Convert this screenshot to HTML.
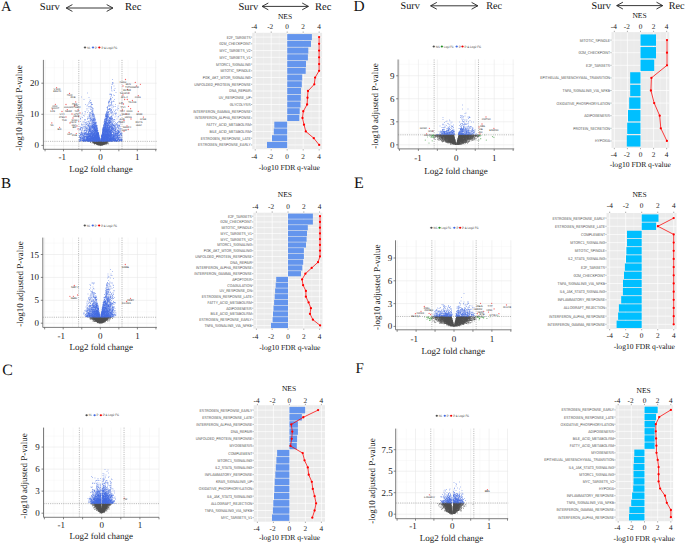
<!DOCTYPE html>
<html><head><meta charset="utf-8"><style>
html,body{margin:0;padding:0;background:#fff;overflow:hidden;}
svg{display:block;text-rendering:geometricPrecision;}
</style></head><body>
<svg width="685" height="543" viewBox="0 0 685 543">
<rect width="685" height="543" fill="#fff"/>
<text x="1" y="10.5" font-size="14.5" text-anchor="start" font-family='"Liberation Serif", serif' fill="#111" >A</text>
<line x1="54.28" y1="59.9" x2="54.28" y2="149.3" stroke="#F3F3F3" stroke-width="0.4"/>
<line x1="72.73" y1="59.9" x2="72.73" y2="149.3" stroke="#F3F3F3" stroke-width="0.4"/>
<line x1="91.18" y1="59.9" x2="91.18" y2="149.3" stroke="#F3F3F3" stroke-width="0.4"/>
<line x1="109.62" y1="59.9" x2="109.62" y2="149.3" stroke="#F3F3F3" stroke-width="0.4"/>
<line x1="128.07" y1="59.9" x2="128.07" y2="149.3" stroke="#F3F3F3" stroke-width="0.4"/>
<line x1="146.53" y1="59.9" x2="146.53" y2="149.3" stroke="#F3F3F3" stroke-width="0.4"/>
<line x1="43.4" y1="129.85" x2="156.7" y2="129.85" stroke="#F3F3F3" stroke-width="0.4"/>
<line x1="43.4" y1="98.75" x2="156.7" y2="98.75" stroke="#F3F3F3" stroke-width="0.4"/>
<line x1="43.4" y1="67.65" x2="156.7" y2="67.65" stroke="#F3F3F3" stroke-width="0.4"/>
<line x1="45.05" y1="59.9" x2="45.05" y2="149.3" stroke="#E8E8E8" stroke-width="0.6"/>
<line x1="63.5" y1="59.9" x2="63.5" y2="149.3" stroke="#E8E8E8" stroke-width="0.6"/>
<line x1="81.95" y1="59.9" x2="81.95" y2="149.3" stroke="#E8E8E8" stroke-width="0.6"/>
<line x1="100.4" y1="59.9" x2="100.4" y2="149.3" stroke="#E8E8E8" stroke-width="0.6"/>
<line x1="118.85" y1="59.9" x2="118.85" y2="149.3" stroke="#E8E8E8" stroke-width="0.6"/>
<line x1="137.3" y1="59.9" x2="137.3" y2="149.3" stroke="#E8E8E8" stroke-width="0.6"/>
<line x1="155.75" y1="59.9" x2="155.75" y2="149.3" stroke="#E8E8E8" stroke-width="0.6"/>
<line x1="43.4" y1="145.4" x2="156.7" y2="145.4" stroke="#E8E8E8" stroke-width="0.6"/>
<line x1="43.4" y1="114.3" x2="156.7" y2="114.3" stroke="#E8E8E8" stroke-width="0.6"/>
<line x1="43.4" y1="83.2" x2="156.7" y2="83.2" stroke="#E8E8E8" stroke-width="0.6"/>
<path transform="scale(0.5)" d="M182 283h0M184 286h0M185 285h0M186 284h0M186 285h0M186 286h0M187 284h0M189 289h0M195 290h0M201 283h0M201 291h0M202 291h0M206 290h0M209 289h0M212 287h0M212 289h0M213 286h0M213 288h0M214 286h0M214 288h0M216 286h0M217 283h0M217 286h0M217 288h0" stroke="#4D4D4D" stroke-opacity="0.5" stroke-width="2.0" stroke-linecap="round" fill="none"/>
<path transform="scale(0.5)" d="M181 285h0M185 283h0M187 286h0M192 288h0M198 290h0M208 289h0M210 288h0M211 287h0M211 288h0M213 287h0M214 287h0M215 283h0M215 284h0M215 286h0M216 283h0" stroke="#4D4D4D" stroke-opacity="0.75" stroke-width="2.0" stroke-linecap="round" fill="none"/>
<path transform="scale(0.5)" d="M186 283h0M187 283h0M187 285h0M188 283h0M188 285h0M188 286h0M189 283h0M189 284h0M189 285h0M189 286h0M189 287h0M190 283h0M190 284h0M190 285h0M190 286h0M190 287h0M191 283h0M191 284h0M191 285h0M191 286h0M191 287h0M192 283h0M192 284h0M192 285h0M192 286h0M192 287h0M193 283h0M193 284h0M193 285h0M193 286h0M193 287h0M193 288h0M194 283h0M194 284h0M194 285h0M194 286h0M194 287h0M194 288h0M194 289h0M195 283h0M195 284h0M195 285h0M195 286h0M195 287h0M195 288h0M195 289h0M196 283h0M196 284h0M196 285h0M196 286h0M196 287h0M196 288h0M196 289h0M197 283h0M197 284h0M197 285h0M197 286h0M197 287h0M197 288h0M197 289h0M197 290h0M198 283h0M198 284h0M198 285h0M198 286h0M198 287h0M198 288h0M198 289h0M199 283h0M199 284h0M199 285h0M199 286h0M199 287h0M199 288h0M199 289h0M199 290h0M200 283h0M200 284h0M200 285h0M200 286h0M200 287h0M200 288h0M200 289h0M200 290h0M201 284h0M201 285h0M201 286h0M201 287h0M201 288h0M201 289h0M201 290h0M202 283h0M202 284h0M202 285h0M202 286h0M202 287h0M202 288h0M202 289h0M202 290h0M203 283h0M203 284h0M203 285h0M203 286h0M203 287h0M203 288h0M203 289h0M203 290h0M204 283h0M204 284h0M204 285h0M204 286h0M204 287h0M204 288h0M204 289h0M204 290h0M205 283h0M205 284h0M205 285h0M205 286h0M205 287h0M205 288h0M205 289h0M205 290h0M206 283h0M206 284h0M206 285h0M206 286h0M206 287h0M206 288h0M206 289h0M207 283h0M207 284h0M207 285h0M207 286h0M207 287h0M207 288h0M207 289h0M208 283h0M208 284h0M208 285h0M208 286h0M208 287h0M208 288h0M209 283h0M209 284h0M209 285h0M209 286h0M209 287h0M209 288h0M210 283h0M210 284h0M210 285h0M210 286h0M210 287h0M211 283h0M211 284h0M211 285h0M211 286h0M212 283h0M212 284h0M212 285h0M212 286h0M213 283h0M213 284h0M213 285h0M214 283h0M214 284h0M214 285h0" stroke="#4D4D4D" stroke-opacity="1.0" stroke-width="2.0" stroke-linecap="round" fill="none"/>
<path transform="scale(0.5)" d="M158 281h0M159 258h0M159 267h0M159 271h0M159 273h0M159 274h0M159 279h0M159 280h0M159 282h0M159 283h0M160 253h0M160 259h0M160 260h0M160 267h0M160 271h0M160 274h0M160 279h0M160 282h0M161 214h0M161 237h0M161 243h0M161 255h0M161 257h0M161 258h0M161 259h0M161 268h0M161 272h0M161 278h0M161 279h0M161 280h0M161 281h0M162 234h0M162 257h0M162 260h0M162 265h0M162 270h0M162 274h0M162 276h0M162 280h0M162 281h0M163 194h0M163 248h0M163 250h0M163 265h0M163 269h0M163 273h0M164 228h0M164 249h0M164 255h0M164 261h0M164 262h0M164 268h0M164 270h0M164 271h0M164 272h0M164 274h0M164 276h0M164 277h0M164 281h0M165 226h0M165 235h0M165 250h0M165 257h0M165 259h0M165 266h0M165 267h0M165 268h0M165 269h0M165 270h0M165 272h0M165 275h0M165 278h0M166 244h0M166 254h0M166 255h0M166 257h0M166 265h0M166 269h0M166 275h0M166 276h0M166 277h0M166 280h0M167 231h0M167 271h0M167 273h0M167 275h0M167 276h0M167 277h0M167 280h0M167 282h0M167 283h0M168 199h0M168 243h0M168 246h0M168 249h0M168 250h0M168 261h0M168 263h0M168 267h0M168 268h0M168 272h0M168 274h0M168 275h0M168 276h0M168 278h0M168 279h0M169 232h0M169 239h0M169 256h0M169 264h0M169 266h0M169 267h0M169 276h0M169 277h0M169 278h0M170 223h0M170 228h0M170 241h0M170 245h0M170 253h0M170 254h0M170 260h0M170 261h0M170 266h0M170 273h0M170 282h0M170 283h0M171 209h0M171 224h0M171 239h0M171 245h0M171 252h0M171 255h0M171 265h0M171 267h0M171 269h0M171 276h0M172 247h0M172 248h0M172 249h0M172 252h0M172 255h0M172 257h0M172 258h0M172 261h0M172 262h0M172 268h0M172 269h0M172 271h0M172 279h0M172 280h0M172 281h0M173 245h0M173 249h0M173 254h0M173 257h0M173 258h0M173 261h0M173 262h0M173 263h0M173 264h0M173 267h0M173 268h0M173 269h0M173 270h0M173 273h0M173 276h0M173 277h0M173 280h0M174 212h0M174 217h0M174 220h0M174 243h0M174 249h0M174 255h0M174 257h0M174 258h0M174 265h0M174 267h0M174 274h0M174 276h0M174 279h0M174 282h0M174 283h0M175 186h0M175 210h0M175 225h0M175 237h0M175 239h0M175 247h0M175 251h0M175 254h0M175 257h0M175 260h0M175 267h0M175 274h0M176 233h0M176 244h0M176 248h0M176 251h0M176 254h0M176 259h0M176 260h0M176 267h0M176 270h0M176 271h0M176 283h0M177 208h0M177 213h0M177 222h0M177 243h0M177 251h0M177 259h0M177 267h0M177 270h0M177 277h0M178 195h0M178 205h0M178 216h0M178 230h0M178 236h0M178 237h0M178 242h0M178 249h0M178 252h0M178 253h0M178 254h0M178 257h0M178 258h0M178 262h0M178 265h0M178 267h0M178 270h0M178 276h0M178 277h0M178 279h0M178 282h0M178 283h0M179 203h0M179 213h0M179 225h0M179 228h0M179 234h0M179 246h0M179 247h0M179 250h0M179 253h0M179 255h0M179 256h0M179 266h0M179 267h0M179 268h0M179 269h0M179 270h0M179 272h0M179 274h0M179 276h0M179 283h0M180 200h0M180 207h0M180 228h0M180 229h0M180 231h0M180 233h0M180 237h0M180 240h0M180 243h0M180 246h0M180 247h0M180 255h0M180 260h0M180 261h0M180 266h0M180 269h0M180 270h0M180 279h0M181 201h0M181 205h0M181 213h0M181 216h0M181 219h0M181 225h0M181 226h0M181 235h0M181 236h0M181 237h0M181 248h0M181 253h0M181 256h0M181 258h0M181 259h0M181 261h0M181 264h0M181 266h0M181 267h0M181 269h0M181 270h0M181 274h0M181 275h0M181 277h0M181 283h0M182 205h0M182 227h0M182 231h0M182 232h0M182 239h0M182 243h0M182 251h0M182 253h0M182 254h0M182 255h0M182 258h0M182 259h0M182 260h0M182 265h0M182 267h0M182 272h0M183 214h0M183 219h0M183 223h0M183 234h0M183 236h0M183 239h0M183 240h0M183 242h0M183 248h0M183 253h0M183 255h0M183 256h0M183 257h0M183 259h0M183 265h0M183 268h0M183 269h0M184 209h0M184 216h0M184 221h0M184 229h0M184 239h0M184 241h0M184 246h0M184 252h0M184 254h0M184 264h0M184 265h0M184 268h0M184 271h0M184 274h0M184 283h0M185 209h0M185 218h0M185 221h0M185 223h0M185 224h0M185 233h0M185 236h0M185 241h0M185 242h0M185 244h0M185 248h0M185 256h0M185 257h0M185 262h0M185 266h0M186 224h0M186 226h0M186 234h0M186 237h0M186 239h0M186 240h0M186 241h0M186 244h0M186 246h0M186 250h0M186 259h0M186 261h0M186 264h0M186 267h0M186 272h0M186 273h0M187 228h0M187 229h0M187 230h0M187 232h0M187 234h0M187 237h0M187 238h0M187 244h0M187 248h0M187 255h0M187 258h0M187 259h0M187 261h0M187 266h0M187 267h0M187 269h0M187 271h0M188 229h0M188 230h0M188 231h0M188 234h0M188 237h0M188 245h0M188 248h0M188 252h0M188 253h0M188 255h0M188 261h0M188 283h0M189 232h0M189 235h0M189 237h0M189 241h0M189 243h0M189 245h0M189 247h0M189 248h0M189 249h0M189 251h0M189 252h0M189 254h0M189 262h0M189 263h0M189 264h0M189 268h0M189 283h0M190 236h0M190 239h0M190 244h0M190 246h0M190 248h0M190 250h0M190 252h0M190 254h0M190 255h0M190 258h0M190 262h0M190 263h0M190 265h0M190 268h0M190 269h0M191 240h0M191 245h0M191 246h0M191 256h0M191 265h0M191 266h0M191 269h0M192 244h0M192 252h0M192 255h0M192 256h0M192 260h0M192 261h0M192 270h0M192 271h0M192 272h0M192 274h0M192 283h0M193 250h0M193 251h0M193 252h0M193 256h0M193 258h0M193 259h0M193 265h0M193 266h0M193 283h0M194 252h0M194 253h0M194 255h0M194 258h0M194 260h0M194 261h0M194 283h0M195 256h0M195 260h0M196 261h0M196 264h0M196 278h0M196 283h0M197 265h0M197 266h0M198 271h0M200 280h0M200 281h0M203 275h0M203 276h0M204 268h0M204 269h0M204 283h0M205 263h0M206 255h0M206 256h0M206 265h0M206 283h0M207 250h0M207 251h0M207 264h0M207 265h0M207 266h0M207 273h0M208 244h0M208 246h0M208 249h0M208 250h0M208 252h0M208 255h0M208 256h0M208 262h0M208 265h0M208 271h0M208 274h0M209 239h0M209 240h0M209 243h0M209 245h0M209 249h0M209 250h0M209 256h0M209 257h0M209 263h0M209 265h0M209 267h0M209 272h0M210 236h0M210 238h0M210 239h0M210 242h0M210 244h0M210 245h0M210 247h0M210 249h0M210 251h0M210 253h0M210 254h0M210 261h0M210 263h0M211 229h0M211 231h0M211 233h0M211 234h0M211 240h0M211 242h0M211 243h0M211 246h0M211 254h0M211 258h0M211 265h0M211 267h0M211 278h0M211 283h0M212 227h0M212 229h0M212 230h0M212 231h0M212 240h0M212 242h0M212 244h0M212 248h0M212 252h0M212 260h0M212 266h0M212 268h0M212 272h0M213 223h0M213 225h0M213 227h0M213 231h0M213 240h0M213 242h0M213 247h0M213 249h0M213 251h0M213 254h0M213 255h0M213 256h0M213 262h0M213 265h0M214 215h0M214 224h0M214 225h0M214 229h0M214 235h0M214 236h0M214 239h0M214 246h0M214 248h0M214 249h0M214 252h0M214 255h0M214 256h0M214 265h0M214 271h0M214 277h0M214 283h0M215 213h0M215 217h0M215 219h0M215 221h0M215 222h0M215 226h0M215 229h0M215 231h0M215 233h0M215 235h0M215 237h0M215 240h0M215 241h0M215 244h0M215 246h0M215 248h0M215 249h0M215 250h0M215 254h0M215 257h0M215 260h0M215 263h0M215 267h0M215 272h0M215 274h0M216 218h0M216 223h0M216 224h0M216 226h0M216 229h0M216 230h0M216 233h0M216 234h0M216 240h0M216 243h0M216 244h0M216 245h0M216 248h0M216 252h0M216 254h0M216 255h0M216 256h0M216 257h0M216 259h0M216 260h0M216 265h0M216 270h0M217 204h0M217 205h0M217 211h0M217 219h0M217 223h0M217 225h0M217 226h0M217 229h0M217 231h0M217 239h0M217 242h0M217 245h0M217 246h0M217 250h0M217 254h0M217 255h0M217 257h0M217 263h0M217 264h0M217 265h0M217 273h0M218 202h0M218 203h0M218 208h0M218 210h0M218 227h0M218 232h0M218 235h0M218 236h0M218 237h0M218 244h0M218 246h0M218 247h0M218 248h0M218 249h0M218 250h0M218 256h0M218 257h0M218 264h0M218 269h0M218 270h0M218 283h0M219 200h0M219 203h0M219 217h0M219 218h0M219 219h0M219 223h0M219 229h0M219 235h0M219 237h0M219 238h0M219 245h0M219 248h0M219 251h0M219 253h0M219 256h0M219 259h0M219 264h0M219 267h0M219 269h0M219 275h0M219 283h0M220 188h0M220 189h0M220 200h0M220 212h0M220 217h0M220 236h0M220 237h0M220 244h0M220 246h0M220 250h0M220 254h0M220 255h0M220 259h0M220 260h0M220 262h0M220 263h0M220 267h0M220 271h0M220 274h0M220 275h0M220 277h0M220 282h0M220 283h0M221 196h0M221 197h0M221 199h0M221 218h0M221 222h0M221 224h0M221 235h0M221 236h0M221 242h0M221 244h0M221 245h0M221 246h0M221 249h0M221 251h0M221 253h0M221 254h0M221 256h0M221 261h0M221 265h0M221 270h0M221 272h0M222 188h0M222 189h0M222 193h0M222 197h0M222 198h0M222 205h0M222 209h0M222 234h0M222 238h0M222 240h0M222 243h0M222 245h0M222 246h0M222 248h0M222 249h0M222 250h0M222 254h0M222 255h0M222 256h0M222 257h0M222 266h0M222 269h0M222 274h0M222 281h0M222 283h0M223 173h0M223 175h0M223 177h0M223 180h0M223 189h0M223 191h0M223 203h0M223 205h0M223 207h0M223 208h0M223 221h0M223 224h0M223 226h0M223 233h0M223 234h0M223 239h0M223 240h0M223 248h0M223 251h0M223 253h0M223 254h0M223 258h0M223 259h0M223 260h0M223 262h0M223 264h0M223 265h0M223 267h0M223 270h0M223 273h0M223 275h0M223 280h0M223 283h0M224 169h0M224 182h0M224 204h0M224 211h0M224 214h0M224 216h0M224 224h0M224 228h0M224 231h0M224 232h0M224 239h0M224 244h0M224 246h0M224 247h0M224 249h0M224 251h0M224 258h0M224 259h0M224 265h0M224 268h0M224 281h0M225 159h0M225 165h0M225 168h0M225 195h0M225 223h0M225 225h0M225 237h0M225 241h0M225 246h0M225 247h0M225 252h0M225 257h0M225 258h0M225 264h0M225 269h0M225 275h0M225 281h0M226 165h0M226 167h0M226 203h0M226 210h0M226 228h0M226 239h0M226 240h0M226 243h0M226 244h0M226 248h0M226 249h0M226 251h0M226 253h0M226 257h0M226 258h0M226 260h0M226 262h0M226 264h0M226 265h0M226 269h0M226 274h0M226 275h0M226 277h0M226 280h0M226 281h0M226 282h0M227 190h0M227 202h0M227 214h0M227 220h0M227 230h0M227 240h0M227 244h0M227 255h0M227 258h0M227 259h0M227 261h0M227 267h0M227 271h0M227 276h0M228 172h0M228 180h0M228 203h0M228 213h0M228 226h0M228 251h0M228 253h0M228 255h0M228 258h0M228 261h0M228 265h0M228 268h0M228 269h0M228 271h0M228 274h0M228 276h0M228 277h0M229 181h0M229 191h0M229 199h0M229 223h0M229 243h0M229 248h0M229 251h0M229 253h0M229 254h0M229 262h0M229 265h0M229 273h0M229 274h0M229 276h0M229 279h0M229 280h0M230 177h0M230 227h0M230 234h0M230 240h0M230 247h0M230 251h0M230 252h0M230 253h0M230 258h0M230 259h0M230 262h0M230 264h0M230 272h0M230 275h0M231 209h0M231 213h0M231 221h0M231 227h0M231 229h0M231 245h0M231 250h0M231 254h0M231 255h0M231 257h0M231 258h0M231 259h0M231 260h0M231 261h0M231 266h0M231 267h0M231 268h0M231 271h0M231 273h0M231 277h0M231 278h0M232 185h0M232 219h0M232 225h0M232 232h0M232 249h0M232 254h0M232 256h0M232 258h0M232 260h0M232 264h0M232 269h0M232 273h0M232 274h0M232 278h0M232 279h0M232 283h0M233 227h0M233 247h0M233 250h0M233 256h0M233 266h0M233 267h0M233 269h0M233 271h0M233 274h0M233 275h0M233 276h0M233 277h0M233 282h0M233 283h0M234 238h0M234 247h0M234 249h0M234 250h0M234 256h0M234 260h0M234 264h0M234 266h0M234 268h0M234 269h0M234 272h0M234 273h0M234 275h0M234 280h0M235 216h0M235 220h0M235 245h0M235 253h0M235 255h0M235 260h0M235 261h0M235 264h0M235 268h0M235 274h0M235 279h0M236 212h0M236 234h0M236 245h0M236 254h0M236 262h0M236 263h0M236 266h0M236 267h0M236 270h0M236 273h0M236 274h0M236 275h0M236 277h0M236 279h0M237 217h0M237 233h0M237 243h0M237 250h0M237 251h0M237 255h0M237 257h0M237 262h0M237 264h0M237 265h0M237 267h0M237 268h0M237 270h0M237 271h0M237 275h0M237 276h0M237 278h0M237 282h0M238 252h0M238 253h0M238 256h0M238 257h0M238 259h0M238 261h0M238 265h0M238 270h0M238 272h0M238 275h0M238 276h0M238 278h0M238 279h0M238 280h0M238 283h0M239 243h0M239 250h0M239 263h0M239 269h0M239 271h0M239 274h0M239 275h0M239 280h0M240 231h0M240 239h0M240 242h0M240 244h0M240 245h0M240 253h0M240 254h0M240 258h0M240 263h0M240 264h0M240 267h0M240 269h0M240 273h0M240 278h0M240 280h0M241 230h0M241 248h0M241 257h0M241 269h0M241 279h0M241 280h0M241 281h0M242 262h0M242 265h0M242 267h0M242 268h0M242 269h0M242 272h0M242 275h0M242 278h0M242 279h0M242 282h0M243 258h0M243 266h0M243 268h0M243 270h0M243 279h0M244 267h0M244 270h0M244 273h0M244 276h0M244 278h0M244 279h0M244 280h0M244 281h0M244 282h0" stroke="#4169E1" stroke-opacity="0.5" stroke-width="2.0" stroke-linecap="round" fill="none"/>
<path transform="scale(0.5)" d="M160 275h0M160 276h0M161 238h0M161 269h0M161 270h0M161 276h0M162 277h0M162 278h0M163 255h0M163 264h0M163 266h0M163 280h0M164 275h0M165 277h0M165 282h0M166 272h0M166 282h0M167 268h0M167 279h0M168 253h0M168 266h0M168 271h0M168 281h0M169 261h0M169 272h0M169 273h0M169 274h0M169 275h0M169 279h0M170 258h0M170 276h0M170 281h0M171 266h0M171 270h0M171 280h0M171 281h0M172 260h0M172 273h0M172 275h0M173 272h0M173 275h0M173 278h0M174 268h0M174 275h0M175 262h0M175 268h0M175 269h0M175 270h0M175 272h0M175 273h0M175 276h0M175 279h0M175 280h0M176 236h0M176 275h0M176 276h0M176 278h0M177 250h0M177 252h0M177 262h0M177 265h0M177 266h0M177 275h0M177 278h0M177 279h0M177 282h0M177 283h0M178 246h0M178 256h0M178 260h0M178 268h0M178 271h0M178 273h0M178 274h0M178 278h0M179 254h0M179 258h0M179 259h0M179 262h0M179 263h0M179 271h0M179 278h0M179 279h0M179 282h0M180 251h0M180 257h0M180 258h0M180 259h0M180 267h0M180 273h0M181 238h0M181 241h0M181 263h0M181 268h0M181 271h0M181 272h0M182 212h0M182 261h0M182 263h0M182 264h0M182 268h0M182 269h0M182 271h0M182 273h0M182 275h0M182 280h0M182 283h0M183 206h0M183 209h0M183 246h0M183 262h0M183 264h0M183 270h0M183 273h0M183 275h0M183 278h0M183 279h0M184 215h0M184 224h0M184 227h0M184 249h0M184 251h0M184 253h0M184 261h0M184 270h0M184 282h0M185 231h0M185 250h0M185 253h0M185 260h0M185 261h0M185 265h0M185 267h0M185 269h0M185 270h0M185 275h0M185 280h0M186 217h0M186 220h0M186 227h0M186 242h0M186 243h0M186 257h0M186 265h0M186 268h0M186 270h0M186 271h0M186 274h0M187 239h0M187 241h0M187 245h0M187 246h0M187 249h0M187 250h0M187 256h0M187 274h0M187 278h0M187 281h0M188 233h0M188 239h0M188 241h0M188 254h0M188 258h0M188 259h0M188 265h0M188 266h0M189 238h0M189 253h0M189 257h0M189 260h0M189 265h0M189 269h0M189 272h0M189 277h0M190 238h0M190 242h0M190 247h0M190 251h0M190 256h0M190 259h0M190 266h0M191 247h0M191 249h0M191 251h0M191 253h0M191 257h0M191 258h0M191 259h0M192 245h0M192 253h0M192 258h0M192 259h0M192 262h0M192 265h0M192 267h0M192 269h0M193 253h0M193 255h0M193 257h0M193 261h0M193 273h0M194 251h0M194 257h0M194 259h0M194 264h0M194 266h0M194 271h0M194 272h0M195 258h0M195 262h0M195 264h0M195 266h0M195 283h0M196 271h0M197 271h0M198 270h0M198 274h0M199 275h0M199 276h0M200 283h0M201 281h0M201 282h0M203 271h0M203 272h0M205 264h0M205 267h0M205 270h0M206 258h0M206 260h0M206 263h0M206 267h0M206 270h0M206 271h0M206 273h0M207 254h0M207 255h0M207 256h0M207 257h0M207 259h0M207 262h0M208 251h0M208 257h0M208 267h0M208 270h0M208 276h0M209 242h0M209 248h0M209 260h0M209 261h0M209 262h0M209 266h0M209 269h0M209 270h0M209 280h0M210 241h0M210 252h0M210 256h0M210 266h0M210 267h0M210 276h0M210 283h0M211 238h0M211 245h0M211 247h0M211 250h0M211 251h0M211 256h0M211 260h0M211 261h0M211 268h0M211 274h0M211 275h0M211 279h0M212 232h0M212 233h0M212 236h0M212 237h0M212 238h0M212 247h0M212 250h0M212 251h0M212 261h0M212 262h0M212 265h0M212 270h0M212 275h0M212 277h0M212 280h0M213 234h0M213 236h0M213 237h0M213 243h0M213 244h0M213 246h0M213 252h0M213 272h0M213 278h0M214 226h0M214 231h0M214 232h0M214 234h0M214 237h0M214 240h0M214 247h0M214 251h0M214 253h0M214 258h0M214 260h0M214 262h0M214 266h0M214 267h0M214 272h0M215 215h0M215 234h0M215 251h0M215 252h0M215 264h0M215 270h0M215 278h0M216 225h0M216 235h0M216 241h0M216 247h0M216 251h0M216 258h0M216 261h0M216 267h0M217 206h0M217 233h0M217 243h0M217 249h0M217 251h0M217 259h0M217 260h0M217 261h0M217 262h0M217 266h0M217 267h0M217 268h0M217 274h0M217 277h0M218 213h0M218 219h0M218 241h0M218 245h0M218 251h0M218 253h0M218 254h0M218 261h0M218 262h0M218 265h0M218 272h0M218 274h0M218 277h0M219 204h0M219 236h0M219 247h0M219 252h0M219 254h0M219 255h0M219 257h0M219 258h0M219 260h0M219 265h0M219 266h0M219 268h0M219 270h0M219 272h0M220 211h0M220 218h0M220 220h0M220 238h0M220 241h0M220 253h0M220 256h0M220 261h0M220 264h0M220 265h0M220 270h0M220 272h0M220 279h0M220 280h0M221 259h0M221 262h0M221 264h0M221 268h0M221 269h0M221 273h0M221 280h0M222 200h0M222 210h0M222 221h0M222 233h0M222 236h0M222 237h0M222 242h0M222 260h0M222 262h0M222 263h0M222 268h0M222 270h0M222 272h0M222 276h0M222 277h0M222 278h0M223 219h0M223 236h0M223 244h0M223 257h0M223 272h0M223 279h0M223 281h0M223 282h0M224 237h0M224 250h0M224 252h0M224 257h0M224 260h0M224 262h0M224 264h0M224 269h0M224 270h0M224 274h0M224 283h0M225 236h0M225 249h0M225 255h0M225 256h0M225 263h0M225 270h0M225 272h0M225 277h0M225 278h0M226 272h0M226 273h0M226 278h0M226 279h0M227 257h0M227 264h0M227 265h0M227 270h0M227 275h0M227 279h0M227 281h0M227 282h0M228 257h0M228 262h0M228 267h0M228 270h0M228 273h0M228 275h0M228 278h0M228 279h0M228 282h0M229 239h0M229 256h0M229 261h0M229 272h0M229 278h0M229 281h0M230 250h0M230 268h0M230 269h0M230 276h0M230 278h0M230 279h0M230 280h0M230 281h0M231 263h0M231 264h0M231 269h0M231 276h0M232 270h0M232 272h0M232 275h0M232 277h0M232 281h0M233 263h0M233 281h0M234 267h0M234 270h0M234 271h0M234 277h0M234 278h0M235 250h0M235 252h0M235 266h0M235 267h0M235 269h0M235 271h0M235 275h0M235 276h0M235 281h0M236 261h0M236 272h0M236 276h0M236 278h0M236 280h0M236 282h0M237 266h0M237 277h0M237 279h0M238 262h0M239 251h0M239 265h0M239 279h0M240 271h0M240 275h0M240 281h0M241 260h0M241 267h0M242 280h0M243 271h0M243 278h0M243 280h0M243 281h0" stroke="#4169E1" stroke-opacity="0.75" stroke-width="2.0" stroke-linecap="round" fill="none"/>
<path transform="scale(0.5)" d="M161 275h0M161 282h0M163 268h0M164 278h0M165 280h0M165 281h0M167 272h0M167 278h0M167 281h0M168 280h0M168 282h0M169 269h0M169 281h0M169 282h0M170 267h0M170 278h0M170 279h0M171 273h0M171 282h0M172 265h0M172 278h0M172 282h0M173 274h0M173 279h0M173 281h0M174 269h0M174 272h0M174 277h0M174 278h0M174 280h0M174 281h0M175 275h0M175 277h0M175 278h0M175 281h0M175 282h0M176 273h0M176 274h0M176 277h0M176 279h0M176 280h0M176 281h0M176 282h0M177 264h0M177 268h0M177 269h0M177 272h0M177 273h0M177 276h0M177 280h0M177 281h0M178 263h0M178 272h0M178 280h0M179 232h0M179 260h0M179 261h0M179 273h0M179 277h0M179 280h0M179 281h0M180 256h0M180 268h0M180 271h0M180 272h0M180 274h0M180 275h0M180 276h0M180 277h0M180 278h0M180 280h0M180 281h0M180 282h0M181 262h0M181 273h0M181 276h0M181 278h0M181 279h0M181 280h0M181 281h0M181 282h0M182 252h0M182 256h0M182 266h0M182 270h0M182 274h0M182 276h0M182 277h0M182 278h0M182 279h0M182 281h0M182 282h0M183 266h0M183 267h0M183 274h0M183 276h0M183 277h0M183 280h0M183 281h0M183 282h0M184 238h0M184 263h0M184 272h0M184 273h0M184 275h0M184 276h0M184 277h0M184 278h0M184 280h0M184 281h0M185 229h0M185 246h0M185 251h0M185 255h0M185 264h0M185 268h0M185 271h0M185 272h0M185 273h0M185 274h0M185 276h0M185 277h0M185 278h0M185 279h0M185 281h0M185 282h0M186 253h0M186 254h0M186 255h0M186 262h0M186 266h0M186 269h0M186 275h0M186 276h0M186 277h0M186 278h0M186 279h0M186 280h0M186 281h0M186 282h0M187 253h0M187 263h0M187 268h0M187 270h0M187 272h0M187 275h0M187 276h0M187 277h0M187 279h0M187 280h0M187 282h0M188 249h0M188 250h0M188 251h0M188 256h0M188 257h0M188 260h0M188 263h0M188 267h0M188 268h0M188 269h0M188 270h0M188 271h0M188 273h0M188 274h0M188 275h0M188 276h0M188 277h0M188 278h0M188 279h0M188 280h0M188 281h0M188 282h0M189 246h0M189 255h0M189 256h0M189 258h0M189 261h0M189 266h0M189 267h0M189 271h0M189 273h0M189 274h0M189 275h0M189 276h0M189 278h0M189 279h0M189 280h0M189 281h0M189 282h0M190 240h0M190 260h0M190 261h0M190 264h0M190 267h0M190 270h0M190 271h0M190 272h0M190 273h0M190 274h0M190 275h0M190 276h0M190 277h0M190 278h0M190 279h0M190 280h0M190 281h0M190 282h0M190 283h0M191 254h0M191 260h0M191 261h0M191 262h0M191 263h0M191 264h0M191 268h0M191 270h0M191 271h0M191 272h0M191 273h0M191 274h0M191 275h0M191 276h0M191 277h0M191 278h0M191 279h0M191 280h0M191 281h0M191 282h0M191 283h0M192 246h0M192 248h0M192 251h0M192 254h0M192 266h0M192 268h0M192 273h0M192 275h0M192 276h0M192 277h0M192 278h0M192 279h0M192 280h0M192 281h0M192 282h0M193 260h0M193 262h0M193 263h0M193 264h0M193 267h0M193 268h0M193 269h0M193 270h0M193 271h0M193 272h0M193 274h0M193 275h0M193 276h0M193 277h0M193 278h0M193 279h0M193 280h0M193 281h0M193 282h0M194 256h0M194 262h0M194 263h0M194 265h0M194 267h0M194 268h0M194 269h0M194 270h0M194 273h0M194 274h0M194 275h0M194 276h0M194 277h0M194 278h0M194 279h0M194 280h0M194 281h0M194 282h0M195 261h0M195 265h0M195 267h0M195 268h0M195 269h0M195 270h0M195 271h0M195 272h0M195 273h0M195 274h0M195 275h0M195 276h0M195 277h0M195 278h0M195 279h0M195 280h0M195 281h0M195 282h0M196 265h0M196 266h0M196 267h0M196 268h0M196 269h0M196 270h0M196 272h0M196 273h0M196 274h0M196 275h0M196 276h0M196 277h0M196 279h0M196 280h0M196 281h0M196 282h0M197 267h0M197 268h0M197 269h0M197 270h0M197 272h0M197 273h0M197 274h0M197 275h0M197 276h0M197 277h0M197 278h0M197 279h0M197 280h0M197 281h0M197 282h0M198 272h0M198 273h0M198 275h0M198 276h0M198 277h0M198 278h0M198 279h0M198 280h0M198 281h0M198 282h0M199 277h0M199 278h0M199 279h0M199 280h0M199 281h0M199 282h0M200 279h0M200 282h0M202 277h0M202 278h0M202 279h0M202 280h0M202 281h0M202 282h0M203 273h0M203 274h0M203 277h0M203 278h0M203 279h0M203 280h0M203 281h0M203 282h0M204 270h0M204 271h0M204 272h0M204 273h0M204 274h0M204 275h0M204 276h0M204 277h0M204 278h0M204 279h0M204 280h0M204 281h0M204 282h0M205 260h0M205 265h0M205 266h0M205 268h0M205 269h0M205 271h0M205 272h0M205 273h0M205 274h0M205 275h0M205 276h0M205 277h0M205 278h0M205 279h0M205 280h0M205 281h0M205 282h0M205 283h0M206 257h0M206 259h0M206 261h0M206 262h0M206 264h0M206 266h0M206 268h0M206 269h0M206 272h0M206 274h0M206 275h0M206 276h0M206 277h0M206 278h0M206 279h0M206 280h0M206 281h0M206 282h0M207 258h0M207 260h0M207 261h0M207 263h0M207 267h0M207 268h0M207 269h0M207 270h0M207 271h0M207 272h0M207 274h0M207 275h0M207 276h0M207 277h0M207 278h0M207 279h0M207 280h0M207 281h0M207 282h0M208 253h0M208 254h0M208 258h0M208 259h0M208 260h0M208 261h0M208 263h0M208 264h0M208 266h0M208 268h0M208 269h0M208 272h0M208 273h0M208 275h0M208 277h0M208 278h0M208 279h0M208 280h0M208 281h0M208 282h0M208 283h0M209 247h0M209 252h0M209 255h0M209 258h0M209 259h0M209 264h0M209 268h0M209 271h0M209 273h0M209 274h0M209 275h0M209 276h0M209 277h0M209 278h0M209 279h0M209 281h0M209 282h0M210 243h0M210 246h0M210 248h0M210 250h0M210 255h0M210 257h0M210 259h0M210 260h0M210 262h0M210 264h0M210 265h0M210 268h0M210 269h0M210 270h0M210 271h0M210 272h0M210 273h0M210 274h0M210 275h0M210 277h0M210 278h0M210 279h0M210 280h0M210 281h0M210 282h0M211 244h0M211 248h0M211 249h0M211 253h0M211 255h0M211 257h0M211 259h0M211 262h0M211 263h0M211 264h0M211 266h0M211 269h0M211 270h0M211 271h0M211 272h0M211 273h0M211 276h0M211 277h0M211 280h0M211 281h0M211 282h0M212 239h0M212 246h0M212 249h0M212 253h0M212 255h0M212 256h0M212 259h0M212 263h0M212 264h0M212 267h0M212 269h0M212 271h0M212 273h0M212 274h0M212 276h0M212 278h0M212 279h0M212 281h0M212 282h0M213 228h0M213 230h0M213 233h0M213 238h0M213 241h0M213 245h0M213 257h0M213 258h0M213 259h0M213 260h0M213 261h0M213 263h0M213 264h0M213 266h0M213 268h0M213 269h0M213 270h0M213 271h0M213 273h0M213 274h0M213 275h0M213 276h0M213 277h0M213 279h0M213 280h0M213 281h0M213 282h0M214 233h0M214 238h0M214 250h0M214 261h0M214 263h0M214 264h0M214 268h0M214 269h0M214 270h0M214 273h0M214 274h0M214 275h0M214 276h0M214 278h0M214 279h0M214 280h0M214 281h0M214 282h0M215 228h0M215 230h0M215 247h0M215 253h0M215 255h0M215 256h0M215 258h0M215 259h0M215 261h0M215 262h0M215 265h0M215 266h0M215 268h0M215 269h0M215 271h0M215 273h0M215 275h0M215 276h0M215 277h0M215 279h0M215 280h0M215 281h0M215 282h0M216 246h0M216 262h0M216 263h0M216 264h0M216 266h0M216 268h0M216 269h0M216 271h0M216 272h0M216 273h0M216 274h0M216 275h0M216 276h0M216 277h0M216 278h0M216 279h0M216 280h0M216 281h0M216 282h0M217 258h0M217 269h0M217 270h0M217 271h0M217 272h0M217 275h0M217 276h0M217 278h0M217 280h0M217 281h0M217 282h0M218 240h0M218 255h0M218 258h0M218 259h0M218 260h0M218 263h0M218 266h0M218 268h0M218 271h0M218 273h0M218 275h0M218 278h0M218 279h0M218 280h0M218 281h0M218 282h0M219 241h0M219 244h0M219 246h0M219 262h0M219 263h0M219 271h0M219 273h0M219 276h0M219 277h0M219 278h0M219 279h0M219 280h0M219 281h0M219 282h0M220 240h0M220 243h0M220 245h0M220 268h0M220 269h0M220 273h0M220 276h0M220 278h0M220 281h0M221 238h0M221 263h0M221 266h0M221 267h0M221 271h0M221 274h0M221 275h0M221 276h0M221 277h0M221 278h0M221 279h0M221 281h0M221 282h0M222 226h0M222 252h0M222 253h0M222 261h0M222 264h0M222 265h0M222 267h0M222 271h0M222 273h0M222 279h0M222 280h0M222 282h0M223 256h0M223 261h0M223 266h0M223 269h0M223 271h0M223 274h0M223 276h0M223 277h0M223 278h0M224 255h0M224 275h0M224 277h0M224 278h0M224 279h0M224 280h0M224 282h0M225 254h0M225 260h0M225 274h0M225 276h0M225 279h0M225 282h0M226 259h0M226 271h0M226 276h0M227 250h0M227 251h0M227 268h0M227 272h0M227 273h0M227 274h0M227 277h0M227 278h0M227 280h0M228 272h0M228 280h0M228 281h0M229 270h0M229 277h0M229 282h0M230 260h0M230 267h0M230 271h0M230 274h0M230 282h0M231 279h0M231 280h0M231 281h0M231 282h0M232 266h0M232 267h0M232 271h0M232 280h0M232 282h0M234 281h0M234 282h0M235 273h0M235 280h0M235 282h0M236 265h0M237 263h0M238 271h0M239 281h0M239 282h0M240 276h0M243 282h0" stroke="#4169E1" stroke-opacity="1.0" stroke-width="2.0" stroke-linecap="round" fill="none"/>
<circle cx="56.6" cy="87.6" r="0.65" fill="#EE0000" fill-opacity="0.6"/>
<circle cx="69.5" cy="93.5" r="0.65" fill="#EE0000" fill-opacity="0.6"/>
<circle cx="75.7" cy="101.9" r="0.65" fill="#EE0000" fill-opacity="0.6"/>
<circle cx="55.4" cy="104.3" r="0.65" fill="#EE0000" fill-opacity="0.6"/>
<circle cx="52.4" cy="109.1" r="0.65" fill="#EE0000" fill-opacity="0.6"/>
<circle cx="67.3" cy="109.7" r="0.65" fill="#EE0000" fill-opacity="0.6"/>
<circle cx="51.8" cy="122.9" r="0.65" fill="#EE0000" fill-opacity="0.6"/>
<circle cx="59.6" cy="127.3" r="0.65" fill="#EE0000" fill-opacity="0.6"/>
<circle cx="69.1" cy="132.4" r="0.65" fill="#EE0000" fill-opacity="0.6"/>
<circle cx="76.3" cy="133.6" r="0.65" fill="#EE0000" fill-opacity="0.6"/>
<circle cx="78.1" cy="109.7" r="0.65" fill="#EE0000" fill-opacity="0.6"/>
<circle cx="78.7" cy="121.1" r="0.65" fill="#EE0000" fill-opacity="0.6"/>
<circle cx="78.7" cy="116.3" r="0.65" fill="#EE0000" fill-opacity="0.6"/>
<circle cx="66" cy="104.5" r="0.65" fill="#EE0000" fill-opacity="0.6"/>
<circle cx="62" cy="111.5" r="0.65" fill="#EE0000" fill-opacity="0.6"/>
<circle cx="72" cy="114" r="0.65" fill="#EE0000" fill-opacity="0.6"/>
<circle cx="66" cy="117" r="0.65" fill="#EE0000" fill-opacity="0.6"/>
<circle cx="70" cy="123" r="0.65" fill="#EE0000" fill-opacity="0.6"/>
<circle cx="73" cy="118" r="0.65" fill="#EE0000" fill-opacity="0.6"/>
<circle cx="77" cy="126" r="0.65" fill="#EE0000" fill-opacity="0.6"/>
<circle cx="78" cy="129" r="0.65" fill="#EE0000" fill-opacity="0.6"/>
<circle cx="74.5" cy="106" r="0.65" fill="#EE0000" fill-opacity="0.6"/>
<circle cx="80" cy="113" r="0.65" fill="#EE0000" fill-opacity="0.6"/>
<circle cx="125.5" cy="79.5" r="0.65" fill="#EE0000" fill-opacity="0.6"/>
<circle cx="135.3" cy="82.4" r="0.65" fill="#EE0000" fill-opacity="0.6"/>
<circle cx="140.4" cy="84.3" r="0.65" fill="#EE0000" fill-opacity="0.6"/>
<circle cx="136.5" cy="85.8" r="0.65" fill="#EE0000" fill-opacity="0.6"/>
<circle cx="127.6" cy="89.4" r="0.65" fill="#EE0000" fill-opacity="0.6"/>
<circle cx="138.3" cy="95.6" r="0.65" fill="#EE0000" fill-opacity="0.6"/>
<circle cx="124.6" cy="99.5" r="0.65" fill="#EE0000" fill-opacity="0.6"/>
<circle cx="127.3" cy="99.5" r="0.65" fill="#EE0000" fill-opacity="0.6"/>
<circle cx="132.4" cy="100.5" r="0.65" fill="#EE0000" fill-opacity="0.6"/>
<circle cx="128.5" cy="106.4" r="0.65" fill="#EE0000" fill-opacity="0.6"/>
<circle cx="130.6" cy="108.7" r="0.65" fill="#EE0000" fill-opacity="0.6"/>
<circle cx="138.3" cy="111.5" r="0.65" fill="#EE0000" fill-opacity="0.6"/>
<circle cx="143.4" cy="117.1" r="0.65" fill="#EE0000" fill-opacity="0.6"/>
<circle cx="124" cy="120.5" r="0.65" fill="#EE0000" fill-opacity="0.6"/>
<circle cx="127" cy="125.9" r="0.65" fill="#EE0000" fill-opacity="0.6"/>
<circle cx="128.2" cy="129.5" r="0.65" fill="#EE0000" fill-opacity="0.6"/>
<circle cx="124" cy="131.2" r="0.65" fill="#EE0000" fill-opacity="0.6"/>
<circle cx="123" cy="86" r="0.65" fill="#EE0000" fill-opacity="0.6"/>
<circle cx="123.5" cy="104" r="0.65" fill="#EE0000" fill-opacity="0.6"/>
<circle cx="126" cy="114" r="0.65" fill="#EE0000" fill-opacity="0.6"/>
<circle cx="131" cy="119" r="0.65" fill="#EE0000" fill-opacity="0.6"/>
<circle cx="123" cy="95" r="0.65" fill="#EE0000" fill-opacity="0.6"/>
<circle cx="129" cy="93" r="0.65" fill="#EE0000" fill-opacity="0.6"/>
<circle cx="122.5" cy="110" r="0.65" fill="#EE0000" fill-opacity="0.6"/>
<text transform="translate(57,90.2) scale(0.1)" font-size="26" text-anchor="middle" font-family='"Liberation Sans", sans-serif' fill="#333" textLength="70" lengthAdjust="spacingAndGlyphs">VJ0D</text>
<text transform="translate(57.2,91.8) scale(0.1)" font-size="26" text-anchor="middle" font-family='"Liberation Sans", sans-serif' fill="#333" textLength="80" lengthAdjust="spacingAndGlyphs">E9GYD</text>
<text transform="translate(69.7,95.9) scale(0.1)" font-size="26" text-anchor="middle" font-family='"Liberation Sans", sans-serif' fill="#333" textLength="60" lengthAdjust="spacingAndGlyphs">7NCF</text>
<text transform="translate(73,97.9) scale(0.1)" font-size="26" text-anchor="middle" font-family='"Liberation Sans", sans-serif' fill="#333" textLength="50" lengthAdjust="spacingAndGlyphs">21E</text>
<text transform="translate(74.5,104.5) scale(0.1)" font-size="26" text-anchor="middle" font-family='"Liberation Sans", sans-serif' fill="#333" textLength="50" lengthAdjust="spacingAndGlyphs">PF2</text>
<text transform="translate(76.1,106.3) scale(0.1)" font-size="26" text-anchor="middle" font-family='"Liberation Sans", sans-serif' fill="#333" textLength="40" lengthAdjust="spacingAndGlyphs">DH</text>
<text transform="translate(54.8,107.2) scale(0.1)" font-size="26" text-anchor="middle" font-family='"Liberation Sans", sans-serif' fill="#333" textLength="50" lengthAdjust="spacingAndGlyphs">OD0</text>
<text transform="translate(55.4,109.1) scale(0.1)" font-size="26" text-anchor="middle" font-family='"Liberation Sans", sans-serif' fill="#333" textLength="80" lengthAdjust="spacingAndGlyphs">DOCIT</text>
<text transform="translate(52.4,111.7) scale(0.1)" font-size="26" text-anchor="middle" font-family='"Liberation Sans", sans-serif' fill="#333" textLength="50" lengthAdjust="spacingAndGlyphs">1J9</text>
<text transform="translate(72.1,107.9) scale(0.1)" font-size="26" text-anchor="middle" font-family='"Liberation Sans", sans-serif' fill="#333" textLength="160" lengthAdjust="spacingAndGlyphs">HULGMYGED</text>
<text transform="translate(68.5,111.7) scale(0.1)" font-size="26" text-anchor="middle" font-family='"Liberation Sans", sans-serif' fill="#333" textLength="70" lengthAdjust="spacingAndGlyphs">N692</text>
<text transform="translate(62,114.7) scale(0.1)" font-size="26" text-anchor="middle" font-family='"Liberation Sans", sans-serif' fill="#333" textLength="50" lengthAdjust="spacingAndGlyphs">V44</text>
<text transform="translate(76.9,111.7) scale(0.1)" font-size="26" text-anchor="middle" font-family='"Liberation Sans", sans-serif' fill="#333" textLength="50" lengthAdjust="spacingAndGlyphs">YUP</text>
<text transform="translate(76.3,114.7) scale(0.1)" font-size="26" text-anchor="middle" font-family='"Liberation Sans", sans-serif' fill="#333" textLength="50" lengthAdjust="spacingAndGlyphs">LPF</text>
<text transform="translate(76.3,117.1) scale(0.1)" font-size="26" text-anchor="middle" font-family='"Liberation Sans", sans-serif' fill="#333" textLength="60" lengthAdjust="spacingAndGlyphs">U86W</text>
<text transform="translate(62,118.3) scale(0.1)" font-size="26" text-anchor="middle" font-family='"Liberation Sans", sans-serif' fill="#333" textLength="60" lengthAdjust="spacingAndGlyphs">3TEH</text>
<text transform="translate(64.3,120.7) scale(0.1)" font-size="26" text-anchor="middle" font-family='"Liberation Sans", sans-serif' fill="#333" textLength="50" lengthAdjust="spacingAndGlyphs">71K</text>
<text transform="translate(74.5,120.7) scale(0.1)" font-size="26" text-anchor="middle" font-family='"Liberation Sans", sans-serif' fill="#333" textLength="60" lengthAdjust="spacingAndGlyphs">WJ61</text>
<text transform="translate(73.3,123.1) scale(0.1)" font-size="26" text-anchor="middle" font-family='"Liberation Sans", sans-serif' fill="#333" textLength="60" lengthAdjust="spacingAndGlyphs">CEVW</text>
<text transform="translate(73.9,125.5) scale(0.1)" font-size="26" text-anchor="middle" font-family='"Liberation Sans", sans-serif' fill="#333" textLength="50" lengthAdjust="spacingAndGlyphs">X64</text>
<text transform="translate(74.5,128.1) scale(0.1)" font-size="26" text-anchor="middle" font-family='"Liberation Sans", sans-serif' fill="#333" textLength="40" lengthAdjust="spacingAndGlyphs">EF</text>
<text transform="translate(51.8,125.5) scale(0.1)" font-size="26" text-anchor="middle" font-family='"Liberation Sans", sans-serif' fill="#333" textLength="30" lengthAdjust="spacingAndGlyphs">S5</text>
<text transform="translate(59.6,129.6) scale(0.1)" font-size="26" text-anchor="middle" font-family='"Liberation Sans", sans-serif' fill="#333" textLength="40" lengthAdjust="spacingAndGlyphs">ED</text>
<text transform="translate(69.7,135) scale(0.1)" font-size="26" text-anchor="middle" font-family='"Liberation Sans", sans-serif' fill="#333" textLength="50" lengthAdjust="spacingAndGlyphs">U3T</text>
<text transform="translate(74.5,136.2) scale(0.1)" font-size="26" text-anchor="middle" font-family='"Liberation Sans", sans-serif' fill="#333" textLength="50" lengthAdjust="spacingAndGlyphs">ZXB</text>
<text transform="translate(122.8,83.2) scale(0.1)" font-size="26" text-anchor="middle" font-family='"Liberation Sans", sans-serif' fill="#333" textLength="70" lengthAdjust="spacingAndGlyphs">4XKH</text>
<text transform="translate(128.2,85.4) scale(0.1)" font-size="26" text-anchor="middle" font-family='"Liberation Sans", sans-serif' fill="#333" textLength="50" lengthAdjust="spacingAndGlyphs">6DN</text>
<text transform="translate(132,87.8) scale(0.1)" font-size="26" text-anchor="middle" font-family='"Liberation Sans", sans-serif' fill="#333" textLength="140" lengthAdjust="spacingAndGlyphs">TIP006FK</text>
<text transform="translate(127,91.4) scale(0.1)" font-size="26" text-anchor="middle" font-family='"Liberation Sans", sans-serif' fill="#333" textLength="80" lengthAdjust="spacingAndGlyphs">30SI2</text>
<text transform="translate(124.3,94.3) scale(0.1)" font-size="26" text-anchor="middle" font-family='"Liberation Sans", sans-serif' fill="#333" textLength="90" lengthAdjust="spacingAndGlyphs">S1XZO</text>
<text transform="translate(124,97.7) scale(0.1)" font-size="26" text-anchor="middle" font-family='"Liberation Sans", sans-serif' fill="#333" textLength="70" lengthAdjust="spacingAndGlyphs">JFLJ</text>
<text transform="translate(137.7,97.9) scale(0.1)" font-size="26" text-anchor="middle" font-family='"Liberation Sans", sans-serif' fill="#333" textLength="60" lengthAdjust="spacingAndGlyphs">OOA6</text>
<text transform="translate(121,103.6) scale(0.1)" font-size="26" text-anchor="middle" font-family='"Liberation Sans", sans-serif' fill="#333" textLength="40" lengthAdjust="spacingAndGlyphs">LR</text>
<text transform="translate(132.3,103.3) scale(0.1)" font-size="26" text-anchor="middle" font-family='"Liberation Sans", sans-serif' fill="#333" textLength="80" lengthAdjust="spacingAndGlyphs">TAJ19</text>
<text transform="translate(122.8,108.4) scale(0.1)" font-size="26" text-anchor="middle" font-family='"Liberation Sans", sans-serif' fill="#333" textLength="50" lengthAdjust="spacingAndGlyphs">YVI</text>
<text transform="translate(122.2,111.5) scale(0.1)" font-size="26" text-anchor="middle" font-family='"Liberation Sans", sans-serif' fill="#333" textLength="50" lengthAdjust="spacingAndGlyphs">7D4</text>
<text transform="translate(129.4,111.5) scale(0.1)" font-size="26" text-anchor="middle" font-family='"Liberation Sans", sans-serif' fill="#333" textLength="60" lengthAdjust="spacingAndGlyphs">0000</text>
<text transform="translate(125.8,114.5) scale(0.1)" font-size="26" text-anchor="middle" font-family='"Liberation Sans", sans-serif' fill="#333" textLength="80" lengthAdjust="spacingAndGlyphs">G50DM</text>
<text transform="translate(139.5,114.5) scale(0.1)" font-size="26" text-anchor="middle" font-family='"Liberation Sans", sans-serif' fill="#333" textLength="60" lengthAdjust="spacingAndGlyphs">EN3K</text>
<text transform="translate(128.2,118.3) scale(0.1)" font-size="26" text-anchor="middle" font-family='"Liberation Sans", sans-serif' fill="#333" textLength="70" lengthAdjust="spacingAndGlyphs">HWDG</text>
<text transform="translate(122.2,120.1) scale(0.1)" font-size="26" text-anchor="middle" font-family='"Liberation Sans", sans-serif' fill="#333" textLength="50" lengthAdjust="spacingAndGlyphs">AJ9</text>
<text transform="translate(143.1,120.3) scale(0.1)" font-size="26" text-anchor="middle" font-family='"Liberation Sans", sans-serif' fill="#333" textLength="60" lengthAdjust="spacingAndGlyphs">GYBE</text>
<text transform="translate(122.2,123.1) scale(0.1)" font-size="26" text-anchor="middle" font-family='"Liberation Sans", sans-serif' fill="#333" textLength="50" lengthAdjust="spacingAndGlyphs">NZJ</text>
<text transform="translate(138.9,122.5) scale(0.1)" font-size="26" text-anchor="middle" font-family='"Liberation Sans", sans-serif' fill="#333" textLength="70" lengthAdjust="spacingAndGlyphs">RXY5</text>
<text transform="translate(138.9,125.5) scale(0.1)" font-size="26" text-anchor="middle" font-family='"Liberation Sans", sans-serif' fill="#333" textLength="60" lengthAdjust="spacingAndGlyphs">HH64</text>
<text transform="translate(127,128.2) scale(0.1)" font-size="26" text-anchor="middle" font-family='"Liberation Sans", sans-serif' fill="#333" textLength="80" lengthAdjust="spacingAndGlyphs">55UFJ</text>
<text transform="translate(124.6,130.8) scale(0.1)" font-size="26" text-anchor="middle" font-family='"Liberation Sans", sans-serif' fill="#333" textLength="50" lengthAdjust="spacingAndGlyphs">GWR</text>
<line x1="78.81" y1="59.9" x2="78.81" y2="149.3" stroke="#666" stroke-width="0.45" stroke-dasharray="1.1,1.1"/>
<line x1="121.99" y1="59.9" x2="121.99" y2="149.3" stroke="#666" stroke-width="0.45" stroke-dasharray="1.1,1.1"/>
<line x1="43.4" y1="141.35" x2="156.7" y2="141.35" stroke="#666" stroke-width="0.45" stroke-dasharray="1.1,1.1"/>
<path d="M43.4 59.9V149.3H156.7" stroke="#767676" stroke-width="0.95" fill="none"/>
<line x1="41.4" y1="145.4" x2="43.4" y2="145.4" stroke="#555" stroke-width="0.7"/>
<text x="39" y="148.46" font-size="9" text-anchor="end" font-family='"Liberation Serif", serif' fill="#222" >0</text>
<line x1="41.4" y1="114.3" x2="43.4" y2="114.3" stroke="#555" stroke-width="0.7"/>
<text x="39" y="117.36" font-size="9" text-anchor="end" font-family='"Liberation Serif", serif' fill="#222" >10</text>
<line x1="41.4" y1="83.2" x2="43.4" y2="83.2" stroke="#555" stroke-width="0.7"/>
<text x="39" y="86.26" font-size="9" text-anchor="end" font-family='"Liberation Serif", serif' fill="#222" >20</text>
<line x1="45.05" y1="149.3" x2="45.05" y2="151.3" stroke="#555" stroke-width="0.7"/>
<line x1="63.5" y1="149.3" x2="63.5" y2="151.3" stroke="#555" stroke-width="0.7"/>
<line x1="81.95" y1="149.3" x2="81.95" y2="151.3" stroke="#555" stroke-width="0.7"/>
<line x1="100.4" y1="149.3" x2="100.4" y2="151.3" stroke="#555" stroke-width="0.7"/>
<line x1="118.85" y1="149.3" x2="118.85" y2="151.3" stroke="#555" stroke-width="0.7"/>
<line x1="137.3" y1="149.3" x2="137.3" y2="151.3" stroke="#555" stroke-width="0.7"/>
<line x1="155.75" y1="149.3" x2="155.75" y2="151.3" stroke="#555" stroke-width="0.7"/>
<text x="62.2" y="159.9" font-size="9" text-anchor="middle" font-family='"Liberation Serif", serif' fill="#222" >-1</text>
<text x="100.4" y="159.9" font-size="9" text-anchor="middle" font-family='"Liberation Serif", serif' fill="#222" >0</text>
<text x="137.3" y="159.9" font-size="9" text-anchor="middle" font-family='"Liberation Serif", serif' fill="#222" >1</text>
<text x="100.9" y="172.1" font-size="9" text-anchor="middle" font-family='"Liberation Serif", serif' fill="#222" >Log2 fold change</text>
<text transform="translate(22.4,108) rotate(-90)" font-size="9.0" text-anchor="middle" font-family='"Liberation Serif", serif' fill="#222">-log10 adjusted P-value</text>
<circle cx="85" cy="47.4" r="1.0" fill="#4D4D4D"/>
<path d="M83.5 47.4h3" stroke="#4D4D4D" stroke-width="0.35"/>
<text transform="translate(87.2,48.55) scale(0.1)" font-size="32" font-family='"Liberation Sans", sans-serif' fill="#444" textLength="30" lengthAdjust="spacingAndGlyphs">NS</text>
<circle cx="93" cy="47.4" r="1.0" fill="#4169E1"/>
<path d="M91.5 47.4h3" stroke="#4169E1" stroke-width="0.35"/>
<text transform="translate(94.9,48.55) scale(0.1)" font-size="32" font-family='"Liberation Sans", sans-serif' fill="#444" textLength="19" lengthAdjust="spacingAndGlyphs">P</text>
<circle cx="99.3" cy="47.4" r="1.0" fill="#EE0000"/>
<path d="M97.8 47.4h3" stroke="#EE0000" stroke-width="0.35"/>
<text transform="translate(101.4,48.55) scale(0.1)" font-size="32" font-family='"Liberation Sans", sans-serif' fill="#444" textLength="159" lengthAdjust="spacingAndGlyphs">P &amp; Log2 FC</text>
<rect x="252.2" y="32.8" width="69.9" height="116.4" fill="#EBEBEB"/>
<line x1="263.23" y1="32.8" x2="263.23" y2="149.2" stroke="#F5F5F5" stroke-width="0.35"/>
<line x1="279.21" y1="32.8" x2="279.21" y2="149.2" stroke="#F5F5F5" stroke-width="0.35"/>
<line x1="295.19" y1="32.8" x2="295.19" y2="149.2" stroke="#F5F5F5" stroke-width="0.35"/>
<line x1="311.17" y1="32.8" x2="311.17" y2="149.2" stroke="#F5F5F5" stroke-width="0.35"/>
<line x1="255.24" y1="32.8" x2="255.24" y2="149.2" stroke="#FFF" stroke-width="0.7"/>
<line x1="271.22" y1="32.8" x2="271.22" y2="149.2" stroke="#FFF" stroke-width="0.7"/>
<line x1="287.2" y1="32.8" x2="287.2" y2="149.2" stroke="#FFF" stroke-width="0.7"/>
<line x1="303.18" y1="32.8" x2="303.18" y2="149.2" stroke="#FFF" stroke-width="0.7"/>
<line x1="319.16" y1="32.8" x2="319.16" y2="149.2" stroke="#FFF" stroke-width="0.7"/>
<line x1="252.2" y1="37.1" x2="322.1" y2="37.1" stroke="#FFF" stroke-width="0.7"/>
<line x1="252.2" y1="43.84" x2="322.1" y2="43.84" stroke="#FFF" stroke-width="0.7"/>
<line x1="252.2" y1="50.58" x2="322.1" y2="50.58" stroke="#FFF" stroke-width="0.7"/>
<line x1="252.2" y1="57.32" x2="322.1" y2="57.32" stroke="#FFF" stroke-width="0.7"/>
<line x1="252.2" y1="64.06" x2="322.1" y2="64.06" stroke="#FFF" stroke-width="0.7"/>
<line x1="252.2" y1="70.8" x2="322.1" y2="70.8" stroke="#FFF" stroke-width="0.7"/>
<line x1="252.2" y1="77.54" x2="322.1" y2="77.54" stroke="#FFF" stroke-width="0.7"/>
<line x1="252.2" y1="84.28" x2="322.1" y2="84.28" stroke="#FFF" stroke-width="0.7"/>
<line x1="252.2" y1="91.02" x2="322.1" y2="91.02" stroke="#FFF" stroke-width="0.7"/>
<line x1="252.2" y1="97.76" x2="322.1" y2="97.76" stroke="#FFF" stroke-width="0.7"/>
<line x1="252.2" y1="104.5" x2="322.1" y2="104.5" stroke="#FFF" stroke-width="0.7"/>
<line x1="252.2" y1="111.24" x2="322.1" y2="111.24" stroke="#FFF" stroke-width="0.7"/>
<line x1="252.2" y1="117.98" x2="322.1" y2="117.98" stroke="#FFF" stroke-width="0.7"/>
<line x1="252.2" y1="124.72" x2="322.1" y2="124.72" stroke="#FFF" stroke-width="0.7"/>
<line x1="252.2" y1="131.46" x2="322.1" y2="131.46" stroke="#FFF" stroke-width="0.7"/>
<line x1="252.2" y1="138.2" x2="322.1" y2="138.2" stroke="#FFF" stroke-width="0.7"/>
<line x1="252.2" y1="144.94" x2="322.1" y2="144.94" stroke="#FFF" stroke-width="0.7"/>
<rect x="287.2" y="34.07" width="24.7" height="6.07" fill="#6495ED"/>
<rect x="287.2" y="40.81" width="23.8" height="6.07" fill="#6495ED"/>
<rect x="287.2" y="47.55" width="21.1" height="6.07" fill="#6495ED"/>
<rect x="287.2" y="54.29" width="20.7" height="6.07" fill="#6495ED"/>
<rect x="287.2" y="61.03" width="18.8" height="6.07" fill="#6495ED"/>
<rect x="287.2" y="67.77" width="18.5" height="6.07" fill="#6495ED"/>
<rect x="287.2" y="74.51" width="15" height="6.07" fill="#6495ED"/>
<rect x="287.2" y="81.25" width="14.6" height="6.07" fill="#6495ED"/>
<rect x="287.2" y="87.99" width="13.8" height="6.07" fill="#6495ED"/>
<rect x="287.2" y="94.73" width="13.6" height="6.07" fill="#6495ED"/>
<rect x="287.2" y="101.47" width="13.3" height="6.07" fill="#6495ED"/>
<rect x="287.2" y="108.21" width="12.5" height="6.07" fill="#6495ED"/>
<rect x="287.2" y="114.95" width="12.1" height="6.07" fill="#6495ED"/>
<rect x="274.3" y="121.69" width="12.9" height="6.07" fill="#6495ED"/>
<rect x="273.8" y="128.43" width="13.4" height="6.07" fill="#6495ED"/>
<rect x="272" y="135.17" width="15.2" height="6.07" fill="#6495ED"/>
<rect x="267" y="141.91" width="20.2" height="6.07" fill="#6495ED"/>
<polyline points="319.1,37.1 319.1,43.84 319.1,50.58 319.1,57.32 319.1,64.06 319.1,70.8 315.1,77.54 314.3,84.28 308,91.02 307.5,97.76 307.1,104.5 303.3,111.24 302.5,117.98 304,124.72 305.8,131.46 313.8,138.2 319.2,144.94" fill="none" stroke="#FF0000" stroke-width="0.75"/>
<circle cx="319.1" cy="37.1" r="1.15" fill="#FF0000"/>
<circle cx="319.1" cy="43.84" r="1.15" fill="#FF0000"/>
<circle cx="319.1" cy="50.58" r="1.15" fill="#FF0000"/>
<circle cx="319.1" cy="57.32" r="1.15" fill="#FF0000"/>
<circle cx="319.1" cy="64.06" r="1.15" fill="#FF0000"/>
<circle cx="319.1" cy="70.8" r="1.15" fill="#FF0000"/>
<circle cx="315.1" cy="77.54" r="1.15" fill="#FF0000"/>
<circle cx="314.3" cy="84.28" r="1.15" fill="#FF0000"/>
<circle cx="308" cy="91.02" r="1.15" fill="#FF0000"/>
<circle cx="307.5" cy="97.76" r="1.15" fill="#FF0000"/>
<circle cx="307.1" cy="104.5" r="1.15" fill="#FF0000"/>
<circle cx="303.3" cy="111.24" r="1.15" fill="#FF0000"/>
<circle cx="302.5" cy="117.98" r="1.15" fill="#FF0000"/>
<circle cx="304" cy="124.72" r="1.15" fill="#FF0000"/>
<circle cx="305.8" cy="131.46" r="1.15" fill="#FF0000"/>
<circle cx="313.8" cy="138.2" r="1.15" fill="#FF0000"/>
<circle cx="319.2" cy="144.94" r="1.15" fill="#FF0000"/>
<text transform="translate(250.75,38.57) scale(0.1,0.12)" font-size="34" text-anchor="end" font-family='"Liberation Sans", sans-serif' fill="#4A4A4A" stroke="#4A4A4A" stroke-width="0">E2F_TARGETS</text>
<line x1="251.1" y1="37.1" x2="252.2" y2="37.1" stroke="#333" stroke-width="0.4"/>
<text transform="translate(250.75,45.31) scale(0.1,0.12)" font-size="34" text-anchor="end" font-family='"Liberation Sans", sans-serif' fill="#4A4A4A" stroke="#4A4A4A" stroke-width="0">G2M_CHECKPOINT</text>
<line x1="251.1" y1="43.84" x2="252.2" y2="43.84" stroke="#333" stroke-width="0.4"/>
<text transform="translate(250.75,52.05) scale(0.1,0.12)" font-size="34" text-anchor="end" font-family='"Liberation Sans", sans-serif' fill="#4A4A4A" stroke="#4A4A4A" stroke-width="0">MYC_TARGETS_V2</text>
<line x1="251.1" y1="50.58" x2="252.2" y2="50.58" stroke="#333" stroke-width="0.4"/>
<text transform="translate(250.75,58.79) scale(0.1,0.12)" font-size="34" text-anchor="end" font-family='"Liberation Sans", sans-serif' fill="#4A4A4A" stroke="#4A4A4A" stroke-width="0">MYC_TARGETS_V1</text>
<line x1="251.1" y1="57.32" x2="252.2" y2="57.32" stroke="#333" stroke-width="0.4"/>
<text transform="translate(250.75,65.53) scale(0.1,0.12)" font-size="34" text-anchor="end" font-family='"Liberation Sans", sans-serif' fill="#4A4A4A" stroke="#4A4A4A" stroke-width="0">MTORC1_SIGNALING</text>
<line x1="251.1" y1="64.06" x2="252.2" y2="64.06" stroke="#333" stroke-width="0.4"/>
<text transform="translate(250.75,72.27) scale(0.1,0.12)" font-size="34" text-anchor="end" font-family='"Liberation Sans", sans-serif' fill="#4A4A4A" stroke="#4A4A4A" stroke-width="0">MITOTIC_SPINDLE</text>
<line x1="251.1" y1="70.8" x2="252.2" y2="70.8" stroke="#333" stroke-width="0.4"/>
<text transform="translate(250.75,79.01) scale(0.1,0.12)" font-size="34" text-anchor="end" font-family='"Liberation Sans", sans-serif' fill="#4A4A4A" stroke="#4A4A4A" stroke-width="0">PI3K_AKT_MTOR_SIGNALING</text>
<line x1="251.1" y1="77.54" x2="252.2" y2="77.54" stroke="#333" stroke-width="0.4"/>
<text transform="translate(250.75,85.75) scale(0.1,0.12)" font-size="34" text-anchor="end" font-family='"Liberation Sans", sans-serif' fill="#4A4A4A" stroke="#4A4A4A" stroke-width="0">UNFOLDED_PROTEIN_RESPONSE</text>
<line x1="251.1" y1="84.28" x2="252.2" y2="84.28" stroke="#333" stroke-width="0.4"/>
<text transform="translate(250.75,92.49) scale(0.1,0.12)" font-size="34" text-anchor="end" font-family='"Liberation Sans", sans-serif' fill="#4A4A4A" stroke="#4A4A4A" stroke-width="0">DNA_REPAIR</text>
<line x1="251.1" y1="91.02" x2="252.2" y2="91.02" stroke="#333" stroke-width="0.4"/>
<text transform="translate(250.75,99.23) scale(0.1,0.12)" font-size="34" text-anchor="end" font-family='"Liberation Sans", sans-serif' fill="#4A4A4A" stroke="#4A4A4A" stroke-width="0">UV_RESPONSE_UP</text>
<line x1="251.1" y1="97.76" x2="252.2" y2="97.76" stroke="#333" stroke-width="0.4"/>
<text transform="translate(250.75,105.97) scale(0.1,0.12)" font-size="34" text-anchor="end" font-family='"Liberation Sans", sans-serif' fill="#4A4A4A" stroke="#4A4A4A" stroke-width="0">GLYCOLYSIS</text>
<line x1="251.1" y1="104.5" x2="252.2" y2="104.5" stroke="#333" stroke-width="0.4"/>
<text transform="translate(250.75,112.71) scale(0.1,0.12)" font-size="34" text-anchor="end" font-family='"Liberation Sans", sans-serif' fill="#4A4A4A" stroke="#4A4A4A" stroke-width="0">INTERFERON_GAMMA_RESPONSE</text>
<line x1="251.1" y1="111.24" x2="252.2" y2="111.24" stroke="#333" stroke-width="0.4"/>
<text transform="translate(250.75,119.45) scale(0.1,0.12)" font-size="34" text-anchor="end" font-family='"Liberation Sans", sans-serif' fill="#4A4A4A" stroke="#4A4A4A" stroke-width="0">INTERFERON_ALPHA_RESPONSE</text>
<line x1="251.1" y1="117.98" x2="252.2" y2="117.98" stroke="#333" stroke-width="0.4"/>
<text transform="translate(250.75,126.19) scale(0.1,0.12)" font-size="34" text-anchor="end" font-family='"Liberation Sans", sans-serif' fill="#4A4A4A" stroke="#4A4A4A" stroke-width="0">FATTY_ACID_METABOLISM</text>
<line x1="251.1" y1="124.72" x2="252.2" y2="124.72" stroke="#333" stroke-width="0.4"/>
<text transform="translate(250.75,132.93) scale(0.1,0.12)" font-size="34" text-anchor="end" font-family='"Liberation Sans", sans-serif' fill="#4A4A4A" stroke="#4A4A4A" stroke-width="0">BILE_ACID_METABOLISM</text>
<line x1="251.1" y1="131.46" x2="252.2" y2="131.46" stroke="#333" stroke-width="0.4"/>
<text transform="translate(250.75,139.67) scale(0.1,0.12)" font-size="34" text-anchor="end" font-family='"Liberation Sans", sans-serif' fill="#4A4A4A" stroke="#4A4A4A" stroke-width="0">ESTROGEN_RESPONSE_LATE</text>
<line x1="251.1" y1="138.2" x2="252.2" y2="138.2" stroke="#333" stroke-width="0.4"/>
<text transform="translate(250.75,146.41) scale(0.1,0.12)" font-size="34" text-anchor="end" font-family='"Liberation Sans", sans-serif' fill="#4A4A4A" stroke="#4A4A4A" stroke-width="0">ESTROGEN_RESPONSE_EARLY</text>
<line x1="251.1" y1="144.94" x2="252.2" y2="144.94" stroke="#333" stroke-width="0.4"/>
<text x="254.24" y="28.9" font-size="7.3" text-anchor="middle" font-family='"Liberation Serif", serif' fill="#222" >-4</text>
<text x="254.24" y="159.2" font-size="7.3" text-anchor="middle" font-family='"Liberation Serif", serif' fill="#222" >-4</text>
<line x1="255.24" y1="31.5" x2="255.24" y2="32.8" stroke="#333" stroke-width="0.4"/>
<line x1="255.24" y1="149.2" x2="255.24" y2="150.5" stroke="#333" stroke-width="0.4"/>
<text x="270.22" y="28.9" font-size="7.3" text-anchor="middle" font-family='"Liberation Serif", serif' fill="#222" >-2</text>
<text x="270.22" y="159.2" font-size="7.3" text-anchor="middle" font-family='"Liberation Serif", serif' fill="#222" >-2</text>
<line x1="271.22" y1="31.5" x2="271.22" y2="32.8" stroke="#333" stroke-width="0.4"/>
<line x1="271.22" y1="149.2" x2="271.22" y2="150.5" stroke="#333" stroke-width="0.4"/>
<text x="287.2" y="28.9" font-size="7.3" text-anchor="middle" font-family='"Liberation Serif", serif' fill="#222" >0</text>
<text x="287.2" y="159.2" font-size="7.3" text-anchor="middle" font-family='"Liberation Serif", serif' fill="#222" >0</text>
<line x1="287.2" y1="31.5" x2="287.2" y2="32.8" stroke="#333" stroke-width="0.4"/>
<line x1="287.2" y1="149.2" x2="287.2" y2="150.5" stroke="#333" stroke-width="0.4"/>
<text x="303.18" y="28.9" font-size="7.3" text-anchor="middle" font-family='"Liberation Serif", serif' fill="#222" >2</text>
<text x="303.18" y="159.2" font-size="7.3" text-anchor="middle" font-family='"Liberation Serif", serif' fill="#222" >2</text>
<line x1="303.18" y1="31.5" x2="303.18" y2="32.8" stroke="#333" stroke-width="0.4"/>
<line x1="303.18" y1="149.2" x2="303.18" y2="150.5" stroke="#333" stroke-width="0.4"/>
<text x="319.16" y="28.9" font-size="7.3" text-anchor="middle" font-family='"Liberation Serif", serif' fill="#222" >4</text>
<text x="319.16" y="159.2" font-size="7.3" text-anchor="middle" font-family='"Liberation Serif", serif' fill="#222" >4</text>
<line x1="319.16" y1="31.5" x2="319.16" y2="32.8" stroke="#333" stroke-width="0.4"/>
<line x1="319.16" y1="149.2" x2="319.16" y2="150.5" stroke="#333" stroke-width="0.4"/>
<text x="285" y="18.8" font-size="7.5" text-anchor="middle" font-family='"Liberation Serif", serif' fill="#111" >NES</text>
<text x="289.3" y="170.2" font-size="7.6" text-anchor="middle" font-family='"Liberation Serif", serif' fill="#111" >-log10 FDR q-value</text>
<text x="1" y="187.9" font-size="15.2" text-anchor="start" font-family='"Liberation Serif", serif' fill="#111" >B</text>
<line x1="53.92" y1="237.6" x2="53.92" y2="327.4" stroke="#F3F3F3" stroke-width="0.4"/>
<line x1="72.47" y1="237.6" x2="72.47" y2="327.4" stroke="#F3F3F3" stroke-width="0.4"/>
<line x1="91.02" y1="237.6" x2="91.02" y2="327.4" stroke="#F3F3F3" stroke-width="0.4"/>
<line x1="109.58" y1="237.6" x2="109.58" y2="327.4" stroke="#F3F3F3" stroke-width="0.4"/>
<line x1="128.12" y1="237.6" x2="128.12" y2="327.4" stroke="#F3F3F3" stroke-width="0.4"/>
<line x1="146.68" y1="237.6" x2="146.68" y2="327.4" stroke="#F3F3F3" stroke-width="0.4"/>
<line x1="42.8" y1="311.75" x2="156.9" y2="311.75" stroke="#F3F3F3" stroke-width="0.4"/>
<line x1="42.8" y1="288.85" x2="156.9" y2="288.85" stroke="#F3F3F3" stroke-width="0.4"/>
<line x1="42.8" y1="265.95" x2="156.9" y2="265.95" stroke="#F3F3F3" stroke-width="0.4"/>
<line x1="42.8" y1="243.05" x2="156.9" y2="243.05" stroke="#F3F3F3" stroke-width="0.4"/>
<line x1="44.65" y1="237.6" x2="44.65" y2="327.4" stroke="#E8E8E8" stroke-width="0.6"/>
<line x1="63.2" y1="237.6" x2="63.2" y2="327.4" stroke="#E8E8E8" stroke-width="0.6"/>
<line x1="81.75" y1="237.6" x2="81.75" y2="327.4" stroke="#E8E8E8" stroke-width="0.6"/>
<line x1="100.3" y1="237.6" x2="100.3" y2="327.4" stroke="#E8E8E8" stroke-width="0.6"/>
<line x1="118.85" y1="237.6" x2="118.85" y2="327.4" stroke="#E8E8E8" stroke-width="0.6"/>
<line x1="137.4" y1="237.6" x2="137.4" y2="327.4" stroke="#E8E8E8" stroke-width="0.6"/>
<line x1="155.95" y1="237.6" x2="155.95" y2="327.4" stroke="#E8E8E8" stroke-width="0.6"/>
<line x1="42.8" y1="323.2" x2="156.9" y2="323.2" stroke="#E8E8E8" stroke-width="0.6"/>
<line x1="42.8" y1="300.3" x2="156.9" y2="300.3" stroke="#E8E8E8" stroke-width="0.6"/>
<line x1="42.8" y1="277.4" x2="156.9" y2="277.4" stroke="#E8E8E8" stroke-width="0.6"/>
<line x1="42.8" y1="254.5" x2="156.9" y2="254.5" stroke="#E8E8E8" stroke-width="0.6"/>
<path transform="scale(0.5)" d="M178 635h0M180 637h0M180 638h0M182 635h0M182 638h0M183 638h0M184 636h0M184 637h0M185 637h0M185 639h0M186 634h0M186 641h0M186 643h0M187 640h0M187 641h0M188 640h0M188 642h0M188 643h0M189 642h0M189 643h0M190 642h0M190 643h0M191 642h0M191 643h0M196 634h0M196 644h0M196 646h0M197 645h0M204 634h0M204 645h0M204 646h0M205 646h0M206 645h0M207 634h0M207 645h0M209 643h0M209 644h0M213 640h0M213 641h0M214 641h0M217 637h0M217 639h0M218 637h0M218 641h0M218 642h0M219 635h0M219 637h0M219 639h0M221 637h0M221 638h0M225 636h0M225 637h0" stroke="#4D4D4D" stroke-opacity="0.5" stroke-width="2.0" stroke-linecap="round" fill="none"/>
<path transform="scale(0.5)" d="M181 635h0M181 638h0M182 637h0M184 635h0M184 638h0M185 635h0M187 635h0M187 637h0M187 639h0M188 638h0M189 639h0M192 641h0M192 642h0M192 643h0M193 643h0M194 644h0M198 646h0M200 646h0M201 646h0M203 646h0M204 644h0M209 642h0M210 644h0M211 641h0M212 641h0M214 638h0M214 639h0M215 636h0M215 638h0M215 642h0M216 636h0M216 637h0M218 635h0M221 635h0M222 635h0" stroke="#4D4D4D" stroke-opacity="0.75" stroke-width="2.0" stroke-linecap="round" fill="none"/>
<path transform="scale(0.5)" d="M182 636h0M183 636h0M185 636h0M185 638h0M186 635h0M186 636h0M186 638h0M187 636h0M187 638h0M188 635h0M188 636h0M188 637h0M188 639h0M189 635h0M189 636h0M189 637h0M189 638h0M189 640h0M190 635h0M190 636h0M190 637h0M190 638h0M190 639h0M190 640h0M191 635h0M191 636h0M191 637h0M191 638h0M191 639h0M191 640h0M191 641h0M192 635h0M192 636h0M192 637h0M192 638h0M192 639h0M192 640h0M193 635h0M193 636h0M193 637h0M193 638h0M193 639h0M193 640h0M193 641h0M193 642h0M194 635h0M194 636h0M194 637h0M194 638h0M194 639h0M194 640h0M194 641h0M194 642h0M194 643h0M195 635h0M195 636h0M195 637h0M195 638h0M195 639h0M195 640h0M195 641h0M195 642h0M195 643h0M195 644h0M195 645h0M196 635h0M196 636h0M196 637h0M196 638h0M196 639h0M196 640h0M196 641h0M196 642h0M196 643h0M196 645h0M197 635h0M197 636h0M197 637h0M197 638h0M197 639h0M197 640h0M197 641h0M197 642h0M197 643h0M197 644h0M198 635h0M198 636h0M198 637h0M198 638h0M198 639h0M198 640h0M198 641h0M198 642h0M198 643h0M198 644h0M198 645h0M199 635h0M199 636h0M199 637h0M199 638h0M199 639h0M199 640h0M199 641h0M199 642h0M199 643h0M199 644h0M199 645h0M199 646h0M200 635h0M200 636h0M200 637h0M200 638h0M200 639h0M200 640h0M200 641h0M200 642h0M200 643h0M200 644h0M200 645h0M201 635h0M201 636h0M201 637h0M201 638h0M201 639h0M201 640h0M201 641h0M201 642h0M201 643h0M201 644h0M201 645h0M202 635h0M202 636h0M202 637h0M202 638h0M202 639h0M202 640h0M202 641h0M202 642h0M202 643h0M202 644h0M202 645h0M202 646h0M203 635h0M203 636h0M203 637h0M203 638h0M203 639h0M203 640h0M203 641h0M203 642h0M203 643h0M203 644h0M203 645h0M204 635h0M204 636h0M204 637h0M204 638h0M204 639h0M204 640h0M204 641h0M204 642h0M204 643h0M205 635h0M205 636h0M205 637h0M205 638h0M205 639h0M205 640h0M205 641h0M205 642h0M205 643h0M205 644h0M205 645h0M206 635h0M206 636h0M206 637h0M206 638h0M206 639h0M206 640h0M206 641h0M206 642h0M206 643h0M206 644h0M207 635h0M207 636h0M207 637h0M207 638h0M207 639h0M207 640h0M207 641h0M207 642h0M207 643h0M207 644h0M208 635h0M208 636h0M208 637h0M208 638h0M208 639h0M208 640h0M208 641h0M208 642h0M208 643h0M208 644h0M209 635h0M209 636h0M209 637h0M209 638h0M209 639h0M209 640h0M209 641h0M210 635h0M210 636h0M210 637h0M210 638h0M210 639h0M210 640h0M210 641h0M210 642h0M210 643h0M211 635h0M211 636h0M211 637h0M211 638h0M211 639h0M211 640h0M211 642h0M212 635h0M212 636h0M212 637h0M212 638h0M212 639h0M212 640h0M213 635h0M213 636h0M213 637h0M213 638h0M213 639h0M214 635h0M214 636h0M214 637h0M214 640h0M215 635h0M215 637h0M215 639h0M216 635h0M217 635h0M218 636h0M220 635h0" stroke="#4D4D4D" stroke-opacity="1.0" stroke-width="2.0" stroke-linecap="round" fill="none"/>
<path transform="scale(0.5)" d="M167 626h0M167 628h0M169 626h0M170 621h0M170 622h0M170 628h0M170 631h0M171 629h0M171 630h0M171 633h0M172 614h0M172 620h0M172 623h0M172 629h0M172 632h0M172 633h0M173 618h0M173 622h0M173 624h0M173 627h0M173 630h0M174 604h0M174 607h0M174 610h0M174 612h0M174 616h0M174 627h0M174 628h0M174 630h0M174 631h0M174 632h0M174 633h0M175 602h0M175 610h0M175 615h0M175 617h0M175 619h0M175 620h0M175 621h0M175 624h0M175 625h0M175 632h0M175 634h0M176 588h0M176 616h0M176 617h0M176 621h0M176 622h0M176 623h0M176 625h0M176 628h0M176 632h0M177 596h0M177 598h0M177 604h0M177 607h0M177 618h0M177 619h0M177 620h0M177 626h0M177 634h0M178 595h0M178 598h0M178 612h0M178 613h0M178 614h0M178 617h0M178 620h0M178 621h0M178 625h0M178 628h0M178 629h0M178 630h0M179 579h0M179 599h0M179 600h0M179 602h0M179 605h0M179 611h0M179 614h0M179 616h0M179 618h0M179 622h0M179 627h0M179 628h0M179 629h0M179 630h0M179 634h0M180 569h0M180 592h0M180 595h0M180 598h0M180 606h0M180 610h0M180 612h0M180 613h0M180 614h0M180 619h0M180 622h0M180 623h0M180 625h0M181 571h0M181 576h0M181 582h0M181 588h0M181 594h0M181 597h0M181 604h0M181 611h0M181 612h0M181 613h0M181 616h0M181 621h0M181 622h0M181 623h0M181 626h0M181 632h0M181 633h0M182 590h0M182 591h0M182 599h0M182 611h0M182 615h0M182 619h0M182 620h0M182 623h0M182 627h0M182 629h0M182 632h0M182 634h0M183 583h0M183 595h0M183 603h0M183 610h0M183 617h0M183 622h0M183 627h0M183 628h0M183 632h0M183 633h0M184 566h0M184 584h0M184 585h0M184 589h0M184 597h0M184 602h0M184 604h0M184 611h0M184 612h0M184 613h0M184 616h0M184 619h0M184 625h0M184 629h0M184 633h0M184 634h0M185 566h0M185 580h0M185 583h0M185 585h0M185 607h0M185 608h0M185 609h0M185 610h0M185 611h0M185 612h0M185 615h0M185 620h0M185 621h0M185 627h0M185 628h0M185 631h0M185 632h0M186 574h0M186 586h0M186 588h0M186 591h0M186 601h0M186 603h0M186 608h0M186 609h0M186 610h0M186 612h0M186 614h0M186 615h0M186 616h0M186 617h0M186 619h0M186 621h0M186 625h0M186 634h0M187 568h0M187 577h0M187 585h0M187 588h0M187 590h0M187 594h0M187 595h0M187 600h0M187 606h0M187 608h0M187 610h0M187 612h0M187 620h0M187 622h0M187 625h0M187 634h0M188 565h0M188 567h0M188 578h0M188 588h0M188 591h0M188 600h0M188 611h0M188 612h0M188 622h0M188 624h0M188 626h0M188 627h0M188 631h0M188 632h0M189 585h0M189 588h0M189 595h0M189 596h0M189 603h0M189 607h0M189 608h0M189 609h0M189 611h0M189 614h0M189 616h0M189 621h0M189 626h0M189 627h0M190 587h0M190 598h0M190 604h0M190 605h0M190 607h0M190 611h0M190 613h0M190 614h0M190 615h0M190 617h0M190 619h0M190 626h0M190 631h0M191 587h0M191 592h0M191 596h0M191 597h0M191 599h0M191 601h0M191 604h0M191 606h0M191 608h0M191 609h0M191 610h0M191 615h0M191 617h0M191 618h0M191 620h0M191 630h0M191 631h0M191 633h0M192 592h0M192 594h0M192 599h0M192 604h0M192 606h0M192 608h0M192 609h0M192 610h0M192 612h0M192 615h0M192 616h0M192 617h0M192 618h0M192 622h0M192 623h0M192 625h0M192 626h0M192 630h0M193 594h0M193 600h0M193 607h0M193 609h0M193 612h0M193 614h0M193 620h0M193 630h0M193 633h0M194 598h0M194 604h0M194 609h0M194 612h0M194 616h0M194 625h0M194 627h0M194 628h0M194 633h0M195 609h0M195 614h0M195 616h0M195 618h0M195 630h0M196 610h0M196 614h0M196 619h0M196 620h0M196 629h0M198 621h0M198 623h0M198 628h0M198 634h0M199 626h0M199 627h0M200 633h0M200 634h0M201 634h0M202 628h0M202 629h0M203 623h0M203 625h0M204 616h0M204 619h0M204 627h0M205 613h0M205 618h0M205 619h0M205 620h0M205 622h0M205 630h0M206 605h0M206 608h0M206 609h0M206 611h0M206 613h0M206 614h0M206 616h0M206 621h0M206 626h0M206 631h0M207 602h0M207 605h0M207 606h0M207 607h0M207 608h0M207 609h0M207 613h0M207 614h0M207 618h0M207 621h0M207 624h0M207 630h0M208 595h0M208 596h0M208 600h0M208 603h0M208 605h0M208 610h0M208 613h0M208 614h0M208 615h0M208 629h0M209 589h0M209 595h0M209 598h0M209 602h0M209 613h0M209 616h0M209 617h0M209 622h0M209 624h0M209 626h0M209 634h0M210 589h0M210 594h0M210 599h0M210 606h0M210 607h0M210 610h0M210 611h0M210 612h0M210 613h0M210 617h0M210 618h0M210 620h0M210 622h0M210 625h0M210 628h0M211 581h0M211 592h0M211 593h0M211 596h0M211 602h0M211 608h0M211 609h0M211 610h0M211 611h0M211 612h0M211 614h0M211 618h0M211 620h0M211 626h0M212 576h0M212 577h0M212 580h0M212 583h0M212 584h0M212 585h0M212 587h0M212 588h0M212 591h0M212 592h0M212 593h0M212 595h0M212 597h0M212 602h0M212 603h0M212 605h0M212 606h0M212 607h0M212 610h0M212 611h0M212 615h0M212 616h0M212 619h0M212 623h0M212 626h0M212 634h0M213 568h0M213 570h0M213 572h0M213 579h0M213 580h0M213 582h0M213 583h0M213 585h0M213 587h0M213 593h0M213 595h0M213 597h0M213 598h0M213 599h0M213 606h0M213 607h0M213 611h0M213 613h0M213 615h0M213 617h0M213 619h0M213 628h0M214 568h0M214 570h0M214 571h0M214 572h0M214 576h0M214 579h0M214 581h0M214 584h0M214 586h0M214 587h0M214 594h0M214 596h0M214 600h0M214 604h0M214 605h0M214 606h0M214 607h0M214 611h0M214 613h0M214 619h0M214 620h0M214 626h0M215 556h0M215 567h0M215 570h0M215 579h0M215 580h0M215 583h0M215 584h0M215 587h0M215 589h0M215 590h0M215 593h0M215 596h0M215 598h0M215 602h0M215 605h0M215 607h0M215 608h0M215 609h0M215 610h0M215 611h0M215 615h0M215 616h0M215 620h0M215 627h0M215 634h0M216 548h0M216 552h0M216 572h0M216 573h0M216 578h0M216 579h0M216 596h0M216 600h0M216 601h0M216 604h0M216 606h0M216 610h0M216 612h0M216 613h0M216 614h0M216 615h0M216 616h0M216 618h0M216 619h0M216 621h0M216 627h0M217 554h0M217 561h0M217 568h0M217 576h0M217 585h0M217 590h0M217 593h0M217 594h0M217 595h0M217 602h0M217 603h0M217 604h0M217 608h0M217 609h0M217 618h0M217 624h0M217 625h0M217 631h0M218 554h0M218 567h0M218 576h0M218 578h0M218 580h0M218 581h0M218 584h0M218 586h0M218 589h0M218 590h0M218 596h0M218 602h0M218 603h0M218 604h0M218 611h0M218 612h0M218 614h0M218 618h0M218 619h0M218 620h0M218 622h0M218 623h0M218 624h0M218 626h0M218 629h0M219 569h0M219 579h0M219 596h0M219 598h0M219 599h0M219 600h0M219 601h0M219 602h0M219 605h0M219 606h0M219 608h0M219 609h0M219 617h0M219 621h0M219 623h0M219 624h0M219 625h0M219 626h0M219 628h0M219 629h0M219 633h0M220 564h0M220 566h0M220 571h0M220 589h0M220 590h0M220 593h0M220 594h0M220 596h0M220 599h0M220 602h0M220 603h0M220 605h0M220 606h0M220 608h0M220 609h0M220 610h0M220 612h0M220 615h0M220 616h0M220 618h0M220 620h0M220 621h0M220 625h0M220 628h0M220 633h0M221 539h0M221 556h0M221 578h0M221 584h0M221 585h0M221 592h0M221 594h0M221 598h0M221 599h0M221 605h0M221 607h0M221 608h0M221 609h0M221 610h0M221 613h0M221 614h0M221 624h0M221 626h0M221 627h0M221 629h0M221 631h0M221 634h0M222 548h0M222 551h0M222 574h0M222 592h0M222 593h0M222 596h0M222 602h0M222 606h0M222 607h0M222 614h0M222 617h0M222 619h0M222 621h0M222 622h0M222 624h0M222 627h0M222 628h0M222 629h0M222 631h0M222 632h0M222 633h0M223 566h0M223 587h0M223 589h0M223 597h0M223 601h0M223 607h0M223 608h0M223 609h0M223 611h0M223 622h0M223 624h0M223 629h0M224 551h0M224 577h0M224 588h0M224 596h0M224 612h0M224 614h0M224 617h0M224 618h0M224 619h0M224 620h0M224 624h0M224 625h0M224 627h0M224 628h0M224 631h0M224 634h0M225 543h0M225 566h0M225 594h0M225 595h0M225 598h0M225 606h0M225 608h0M225 612h0M225 614h0M225 615h0M225 616h0M225 622h0M225 623h0M225 624h0M225 628h0M226 570h0M226 585h0M226 593h0M226 597h0M226 617h0M226 622h0M226 625h0M226 627h0M226 631h0M226 634h0M227 557h0M227 571h0M227 575h0M227 588h0M227 589h0M227 597h0M227 603h0M227 604h0M227 614h0M227 618h0M227 619h0M227 620h0M227 625h0M227 629h0M227 630h0M227 631h0M227 633h0M228 581h0M228 582h0M228 605h0M228 606h0M228 609h0M228 614h0M228 621h0M228 623h0M229 595h0M229 605h0M229 614h0M229 629h0M229 630h0M229 634h0M230 605h0M230 617h0M230 621h0M230 622h0M230 625h0M230 631h0M231 606h0M231 629h0M231 631h0M232 626h0M232 630h0" stroke="#4169E1" stroke-opacity="0.5" stroke-width="2.0" stroke-linecap="round" fill="none"/>
<path transform="scale(0.5)" d="M173 633h0M174 621h0M174 623h0M174 626h0M174 634h0M175 630h0M175 633h0M176 627h0M176 629h0M176 633h0M177 625h0M177 629h0M177 631h0M178 626h0M178 627h0M178 631h0M178 632h0M178 633h0M179 623h0M179 626h0M179 632h0M179 633h0M180 600h0M180 611h0M180 618h0M180 620h0M180 626h0M180 628h0M180 629h0M180 630h0M180 631h0M180 632h0M180 633h0M181 607h0M181 631h0M181 634h0M182 617h0M182 618h0M182 630h0M182 631h0M183 602h0M183 615h0M183 626h0M183 629h0M183 634h0M184 587h0M184 615h0M184 622h0M184 626h0M184 627h0M184 628h0M185 616h0M185 619h0M185 623h0M185 624h0M185 630h0M186 599h0M186 602h0M186 618h0M186 620h0M186 623h0M186 626h0M186 628h0M186 629h0M187 593h0M187 607h0M187 611h0M187 613h0M187 614h0M187 615h0M187 618h0M187 619h0M187 623h0M187 631h0M188 602h0M188 604h0M188 613h0M188 620h0M188 621h0M188 628h0M188 629h0M188 630h0M188 634h0M189 594h0M189 612h0M189 619h0M189 630h0M189 631h0M190 596h0M190 616h0M190 618h0M190 620h0M190 624h0M190 628h0M190 630h0M191 595h0M191 612h0M191 613h0M191 614h0M191 616h0M191 619h0M191 625h0M191 628h0M192 620h0M192 621h0M192 632h0M192 633h0M193 599h0M193 602h0M193 606h0M193 608h0M193 610h0M193 615h0M193 616h0M193 634h0M194 606h0M194 615h0M194 617h0M194 619h0M194 620h0M194 621h0M194 622h0M194 626h0M195 607h0M195 611h0M195 617h0M195 620h0M195 621h0M195 625h0M195 631h0M196 613h0M196 615h0M196 621h0M196 625h0M196 632h0M197 616h0M197 623h0M197 624h0M197 627h0M197 631h0M198 632h0M199 628h0M199 629h0M199 632h0M202 631h0M202 633h0M203 624h0M203 628h0M204 620h0M205 615h0M205 624h0M205 626h0M205 633h0M206 610h0M206 617h0M206 622h0M206 633h0M207 604h0M207 611h0M207 617h0M207 622h0M207 628h0M208 606h0M208 608h0M208 609h0M208 616h0M208 621h0M208 624h0M208 626h0M208 627h0M208 632h0M208 633h0M209 599h0M209 600h0M209 603h0M209 605h0M209 606h0M209 618h0M209 619h0M209 621h0M209 629h0M210 595h0M210 616h0M210 623h0M210 629h0M210 630h0M210 634h0M211 594h0M211 601h0M211 603h0M211 616h0M211 624h0M211 625h0M211 629h0M212 586h0M212 604h0M212 613h0M212 614h0M212 617h0M212 618h0M212 620h0M212 629h0M212 632h0M212 633h0M213 589h0M213 592h0M213 600h0M213 608h0M213 618h0M213 620h0M213 622h0M213 623h0M213 624h0M213 629h0M214 575h0M214 595h0M214 608h0M214 609h0M214 612h0M214 617h0M214 622h0M214 623h0M214 624h0M214 627h0M214 628h0M214 632h0M215 565h0M215 597h0M215 599h0M215 603h0M215 613h0M215 618h0M215 626h0M215 628h0M215 629h0M215 633h0M216 598h0M216 599h0M216 611h0M216 623h0M216 634h0M217 579h0M217 583h0M217 596h0M217 597h0M217 599h0M217 601h0M217 610h0M217 622h0M217 626h0M217 629h0M217 632h0M218 613h0M218 625h0M218 627h0M218 631h0M218 632h0M219 613h0M219 615h0M219 619h0M219 620h0M219 622h0M219 630h0M220 573h0M220 619h0M220 627h0M220 630h0M220 632h0M221 595h0M221 618h0M221 628h0M222 605h0M222 609h0M222 616h0M222 623h0M222 625h0M223 626h0M223 627h0M224 621h0M224 623h0M224 629h0M224 632h0M224 633h0M225 591h0M225 607h0M225 619h0M225 632h0M225 633h0M226 614h0M226 618h0M226 629h0M226 632h0M229 628h0" stroke="#4169E1" stroke-opacity="0.75" stroke-width="2.0" stroke-linecap="round" fill="none"/>
<path transform="scale(0.5)" d="M173 632h0M175 631h0M177 627h0M178 634h0M179 620h0M179 631h0M180 627h0M181 628h0M182 624h0M183 619h0M183 631h0M184 594h0M184 621h0M184 623h0M184 630h0M184 632h0M185 625h0M185 629h0M185 633h0M185 634h0M186 630h0M186 631h0M186 632h0M186 633h0M187 624h0M187 626h0M187 627h0M187 630h0M187 633h0M188 605h0M188 623h0M188 633h0M189 615h0M189 623h0M189 624h0M189 625h0M189 628h0M189 629h0M189 632h0M189 633h0M189 634h0M190 621h0M190 622h0M190 623h0M190 627h0M190 629h0M190 632h0M190 633h0M190 634h0M191 623h0M191 626h0M191 627h0M191 629h0M191 632h0M191 634h0M192 595h0M192 600h0M192 624h0M192 627h0M192 628h0M192 631h0M192 634h0M193 611h0M193 613h0M193 621h0M193 622h0M193 623h0M193 624h0M193 625h0M193 627h0M193 628h0M193 629h0M193 631h0M193 632h0M194 611h0M194 614h0M194 624h0M194 629h0M194 630h0M194 631h0M194 632h0M194 634h0M195 622h0M195 623h0M195 624h0M195 626h0M195 627h0M195 628h0M195 629h0M195 632h0M195 633h0M195 634h0M196 612h0M196 617h0M196 618h0M196 622h0M196 623h0M196 624h0M196 626h0M196 627h0M196 628h0M196 630h0M196 631h0M196 634h0M197 617h0M197 619h0M197 620h0M197 626h0M197 628h0M197 629h0M197 630h0M197 632h0M197 633h0M197 634h0M198 625h0M198 626h0M198 629h0M198 630h0M198 631h0M198 633h0M199 630h0M199 631h0M199 633h0M199 634h0M202 630h0M202 632h0M202 634h0M203 626h0M203 627h0M203 629h0M203 630h0M203 631h0M203 632h0M203 633h0M203 634h0M204 622h0M204 624h0M204 625h0M204 626h0M204 628h0M204 629h0M204 630h0M204 632h0M204 633h0M204 634h0M205 617h0M205 621h0M205 623h0M205 625h0M205 627h0M205 628h0M205 629h0M205 631h0M205 632h0M205 634h0M206 612h0M206 615h0M206 618h0M206 619h0M206 620h0M206 623h0M206 624h0M206 625h0M206 627h0M206 629h0M206 630h0M206 632h0M206 634h0M207 610h0M207 615h0M207 620h0M207 623h0M207 625h0M207 626h0M207 627h0M207 629h0M207 632h0M207 633h0M207 634h0M208 618h0M208 619h0M208 622h0M208 623h0M208 625h0M208 628h0M208 630h0M208 631h0M208 634h0M209 604h0M209 610h0M209 611h0M209 615h0M209 620h0M209 623h0M209 625h0M209 627h0M209 628h0M209 630h0M209 631h0M209 632h0M209 633h0M210 603h0M210 604h0M210 609h0M210 615h0M210 619h0M210 621h0M210 624h0M210 626h0M210 627h0M210 632h0M210 633h0M211 604h0M211 606h0M211 607h0M211 615h0M211 617h0M211 623h0M211 630h0M211 631h0M211 632h0M211 633h0M211 634h0M212 608h0M212 621h0M212 622h0M212 624h0M212 625h0M212 627h0M212 628h0M212 630h0M212 631h0M213 590h0M213 609h0M213 612h0M213 616h0M213 626h0M213 627h0M213 630h0M213 631h0M213 632h0M213 633h0M213 634h0M214 616h0M214 618h0M214 621h0M214 625h0M214 629h0M214 630h0M214 631h0M214 633h0M214 634h0M215 601h0M215 604h0M215 621h0M215 623h0M215 624h0M215 625h0M215 630h0M215 631h0M215 632h0M216 586h0M216 620h0M216 628h0M216 630h0M216 631h0M216 632h0M216 633h0M217 611h0M217 612h0M217 613h0M217 616h0M217 623h0M217 627h0M217 628h0M217 630h0M217 633h0M218 617h0M218 621h0M218 630h0M218 634h0M219 632h0M219 634h0M220 611h0M220 631h0M220 634h0M221 612h0M221 620h0M221 625h0M221 632h0M221 633h0M222 634h0M223 630h0M224 626h0M225 621h0M225 629h0M226 608h0M226 615h0" stroke="#4169E1" stroke-opacity="1.0" stroke-width="2.0" stroke-linecap="round" fill="none"/>
<circle cx="125.3" cy="264.5" r="0.65" fill="#EE0000" fill-opacity="0.6"/>
<circle cx="74.3" cy="285.5" r="0.65" fill="#EE0000" fill-opacity="0.6"/>
<circle cx="69.9" cy="296.3" r="0.65" fill="#EE0000" fill-opacity="0.6"/>
<circle cx="73.4" cy="296.3" r="0.65" fill="#EE0000" fill-opacity="0.6"/>
<circle cx="77.6" cy="295" r="0.65" fill="#EE0000" fill-opacity="0.6"/>
<circle cx="130.5" cy="298.3" r="0.65" fill="#EE0000" fill-opacity="0.6"/>
<circle cx="126.6" cy="301.5" r="0.65" fill="#EE0000" fill-opacity="0.6"/>
<text transform="translate(125.3,267.5) scale(0.1)" font-size="26" text-anchor="middle" font-family='"Liberation Sans", sans-serif' fill="#333" textLength="70" lengthAdjust="spacingAndGlyphs">5K8B</text>
<text transform="translate(74.7,288.1) scale(0.1)" font-size="26" text-anchor="middle" font-family='"Liberation Sans", sans-serif' fill="#333" textLength="75" lengthAdjust="spacingAndGlyphs">N8YJ</text>
<text transform="translate(74,299.1) scale(0.1)" font-size="26" text-anchor="middle" font-family='"Liberation Sans", sans-serif' fill="#333" textLength="64" lengthAdjust="spacingAndGlyphs">9B8U</text>
<text transform="translate(130.7,300.8) scale(0.1)" font-size="26" text-anchor="middle" font-family='"Liberation Sans", sans-serif' fill="#333" textLength="70" lengthAdjust="spacingAndGlyphs">FR8Y</text>
<text transform="translate(126.2,304.4) scale(0.1)" font-size="26" text-anchor="middle" font-family='"Liberation Sans", sans-serif' fill="#333" textLength="90" lengthAdjust="spacingAndGlyphs">KXO99</text>
<line x1="78.6" y1="237.6" x2="78.6" y2="327.4" stroke="#666" stroke-width="0.45" stroke-dasharray="1.1,1.1"/>
<line x1="122" y1="237.6" x2="122" y2="327.4" stroke="#666" stroke-width="0.45" stroke-dasharray="1.1,1.1"/>
<line x1="42.8" y1="317.24" x2="156.9" y2="317.24" stroke="#666" stroke-width="0.45" stroke-dasharray="1.1,1.1"/>
<path d="M42.8 237.6V327.4H156.9" stroke="#767676" stroke-width="0.95" fill="none"/>
<line x1="40.8" y1="323.2" x2="42.8" y2="323.2" stroke="#555" stroke-width="0.7"/>
<text x="39.1" y="326.26" font-size="9" text-anchor="end" font-family='"Liberation Serif", serif' fill="#222" >0</text>
<line x1="40.8" y1="300.3" x2="42.8" y2="300.3" stroke="#555" stroke-width="0.7"/>
<text x="39.1" y="303.36" font-size="9" text-anchor="end" font-family='"Liberation Serif", serif' fill="#222" >5</text>
<line x1="40.8" y1="277.4" x2="42.8" y2="277.4" stroke="#555" stroke-width="0.7"/>
<text x="39.1" y="280.46" font-size="9" text-anchor="end" font-family='"Liberation Serif", serif' fill="#222" >10</text>
<line x1="40.8" y1="254.5" x2="42.8" y2="254.5" stroke="#555" stroke-width="0.7"/>
<text x="39.1" y="257.56" font-size="9" text-anchor="end" font-family='"Liberation Serif", serif' fill="#222" >15</text>
<line x1="44.65" y1="327.4" x2="44.65" y2="329.4" stroke="#555" stroke-width="0.7"/>
<line x1="63.2" y1="327.4" x2="63.2" y2="329.4" stroke="#555" stroke-width="0.7"/>
<line x1="81.75" y1="327.4" x2="81.75" y2="329.4" stroke="#555" stroke-width="0.7"/>
<line x1="100.3" y1="327.4" x2="100.3" y2="329.4" stroke="#555" stroke-width="0.7"/>
<line x1="118.85" y1="327.4" x2="118.85" y2="329.4" stroke="#555" stroke-width="0.7"/>
<line x1="137.4" y1="327.4" x2="137.4" y2="329.4" stroke="#555" stroke-width="0.7"/>
<line x1="155.95" y1="327.4" x2="155.95" y2="329.4" stroke="#555" stroke-width="0.7"/>
<text x="61.35" y="338.8" font-size="9" text-anchor="middle" font-family='"Liberation Serif", serif' fill="#222" >-1</text>
<text x="100.3" y="338.8" font-size="9" text-anchor="middle" font-family='"Liberation Serif", serif' fill="#222" >0</text>
<text x="137.4" y="338.8" font-size="9" text-anchor="middle" font-family='"Liberation Serif", serif' fill="#222" >1</text>
<text x="101.2" y="349.5" font-size="9" text-anchor="middle" font-family='"Liberation Serif", serif' fill="#222" >Log2 fold change</text>
<text transform="translate(23.2,284) rotate(-90)" font-size="9.0" text-anchor="middle" font-family='"Liberation Serif", serif' fill="#222">-log10 adjusted P-value</text>
<circle cx="84.8" cy="225.4" r="1.0" fill="#4D4D4D"/>
<path d="M83.3 225.4h3" stroke="#4D4D4D" stroke-width="0.35"/>
<text transform="translate(87,226.55) scale(0.1)" font-size="32" font-family='"Liberation Sans", sans-serif' fill="#444" textLength="30" lengthAdjust="spacingAndGlyphs">NS</text>
<circle cx="92.8" cy="225.4" r="1.0" fill="#4169E1"/>
<path d="M91.3 225.4h3" stroke="#4169E1" stroke-width="0.35"/>
<text transform="translate(94.7,226.55) scale(0.1)" font-size="32" font-family='"Liberation Sans", sans-serif' fill="#444" textLength="19" lengthAdjust="spacingAndGlyphs">P</text>
<circle cx="99.1" cy="225.4" r="1.0" fill="#EE0000"/>
<path d="M97.6 225.4h3" stroke="#EE0000" stroke-width="0.35"/>
<text transform="translate(101.2,226.55) scale(0.1)" font-size="32" font-family='"Liberation Sans", sans-serif' fill="#444" textLength="159" lengthAdjust="spacingAndGlyphs">P &amp; Log2 FC</text>
<rect x="253.3" y="212.7" width="69.2" height="115.9" fill="#EBEBEB"/>
<line x1="264.3" y1="212.7" x2="264.3" y2="328.6" stroke="#F5F5F5" stroke-width="0.35"/>
<line x1="280.1" y1="212.7" x2="280.1" y2="328.6" stroke="#F5F5F5" stroke-width="0.35"/>
<line x1="295.9" y1="212.7" x2="295.9" y2="328.6" stroke="#F5F5F5" stroke-width="0.35"/>
<line x1="311.7" y1="212.7" x2="311.7" y2="328.6" stroke="#F5F5F5" stroke-width="0.35"/>
<line x1="256.4" y1="212.7" x2="256.4" y2="328.6" stroke="#FFF" stroke-width="0.7"/>
<line x1="272.2" y1="212.7" x2="272.2" y2="328.6" stroke="#FFF" stroke-width="0.7"/>
<line x1="288" y1="212.7" x2="288" y2="328.6" stroke="#FFF" stroke-width="0.7"/>
<line x1="303.8" y1="212.7" x2="303.8" y2="328.6" stroke="#FFF" stroke-width="0.7"/>
<line x1="319.6" y1="212.7" x2="319.6" y2="328.6" stroke="#FFF" stroke-width="0.7"/>
<line x1="253.3" y1="216.2" x2="322.5" y2="216.2" stroke="#FFF" stroke-width="0.7"/>
<line x1="253.3" y1="221.95" x2="322.5" y2="221.95" stroke="#FFF" stroke-width="0.7"/>
<line x1="253.3" y1="227.7" x2="322.5" y2="227.7" stroke="#FFF" stroke-width="0.7"/>
<line x1="253.3" y1="233.45" x2="322.5" y2="233.45" stroke="#FFF" stroke-width="0.7"/>
<line x1="253.3" y1="239.2" x2="322.5" y2="239.2" stroke="#FFF" stroke-width="0.7"/>
<line x1="253.3" y1="244.95" x2="322.5" y2="244.95" stroke="#FFF" stroke-width="0.7"/>
<line x1="253.3" y1="250.7" x2="322.5" y2="250.7" stroke="#FFF" stroke-width="0.7"/>
<line x1="253.3" y1="256.45" x2="322.5" y2="256.45" stroke="#FFF" stroke-width="0.7"/>
<line x1="253.3" y1="262.2" x2="322.5" y2="262.2" stroke="#FFF" stroke-width="0.7"/>
<line x1="253.3" y1="267.95" x2="322.5" y2="267.95" stroke="#FFF" stroke-width="0.7"/>
<line x1="253.3" y1="273.7" x2="322.5" y2="273.7" stroke="#FFF" stroke-width="0.7"/>
<line x1="253.3" y1="279.45" x2="322.5" y2="279.45" stroke="#FFF" stroke-width="0.7"/>
<line x1="253.3" y1="285.2" x2="322.5" y2="285.2" stroke="#FFF" stroke-width="0.7"/>
<line x1="253.3" y1="290.95" x2="322.5" y2="290.95" stroke="#FFF" stroke-width="0.7"/>
<line x1="253.3" y1="296.7" x2="322.5" y2="296.7" stroke="#FFF" stroke-width="0.7"/>
<line x1="253.3" y1="302.45" x2="322.5" y2="302.45" stroke="#FFF" stroke-width="0.7"/>
<line x1="253.3" y1="308.2" x2="322.5" y2="308.2" stroke="#FFF" stroke-width="0.7"/>
<line x1="253.3" y1="313.95" x2="322.5" y2="313.95" stroke="#FFF" stroke-width="0.7"/>
<line x1="253.3" y1="319.7" x2="322.5" y2="319.7" stroke="#FFF" stroke-width="0.7"/>
<line x1="253.3" y1="325.45" x2="322.5" y2="325.45" stroke="#FFF" stroke-width="0.7"/>
<rect x="288" y="213.61" width="24.9" height="5.17" fill="#6495ED"/>
<rect x="288" y="219.36" width="24.9" height="5.17" fill="#6495ED"/>
<rect x="288" y="225.11" width="19.8" height="5.17" fill="#6495ED"/>
<rect x="288" y="230.86" width="19" height="5.17" fill="#6495ED"/>
<rect x="288" y="236.61" width="18.6" height="5.17" fill="#6495ED"/>
<rect x="288" y="242.36" width="18" height="5.17" fill="#6495ED"/>
<rect x="288" y="248.11" width="15.9" height="5.17" fill="#6495ED"/>
<rect x="288" y="253.86" width="15.9" height="5.17" fill="#6495ED"/>
<rect x="288" y="259.61" width="15.2" height="5.17" fill="#6495ED"/>
<rect x="288" y="265.36" width="14.3" height="5.17" fill="#6495ED"/>
<rect x="288" y="271.11" width="13" height="5.17" fill="#6495ED"/>
<rect x="276.2" y="276.86" width="11.8" height="5.17" fill="#6495ED"/>
<rect x="275.7" y="282.61" width="12.3" height="5.17" fill="#6495ED"/>
<rect x="275.1" y="288.36" width="12.9" height="5.17" fill="#6495ED"/>
<rect x="274.7" y="294.11" width="13.3" height="5.17" fill="#6495ED"/>
<rect x="274.1" y="299.86" width="13.9" height="5.17" fill="#6495ED"/>
<rect x="273.5" y="305.61" width="14.5" height="5.17" fill="#6495ED"/>
<rect x="273" y="311.36" width="15" height="5.17" fill="#6495ED"/>
<rect x="272.6" y="317.11" width="15.4" height="5.17" fill="#6495ED"/>
<rect x="271" y="322.86" width="17" height="5.17" fill="#6495ED"/>
<polyline points="320,216.2 320,221.95 320,227.7 320,233.45 320,239.2 320,244.95 320,250.7 320,256.45 318,262.2 311.7,267.95 305.4,273.7 302.1,279.45 303.1,285.2 305.9,290.95 305.9,296.7 308.6,302.45 310.9,308.2 310,313.95 312.9,319.7 320.1,325.45" fill="none" stroke="#FF0000" stroke-width="0.75"/>
<circle cx="320" cy="216.2" r="1.15" fill="#FF0000"/>
<circle cx="320" cy="221.95" r="1.15" fill="#FF0000"/>
<circle cx="320" cy="227.7" r="1.15" fill="#FF0000"/>
<circle cx="320" cy="233.45" r="1.15" fill="#FF0000"/>
<circle cx="320" cy="239.2" r="1.15" fill="#FF0000"/>
<circle cx="320" cy="244.95" r="1.15" fill="#FF0000"/>
<circle cx="320" cy="250.7" r="1.15" fill="#FF0000"/>
<circle cx="320" cy="256.45" r="1.15" fill="#FF0000"/>
<circle cx="318" cy="262.2" r="1.15" fill="#FF0000"/>
<circle cx="311.7" cy="267.95" r="1.15" fill="#FF0000"/>
<circle cx="305.4" cy="273.7" r="1.15" fill="#FF0000"/>
<circle cx="302.1" cy="279.45" r="1.15" fill="#FF0000"/>
<circle cx="303.1" cy="285.2" r="1.15" fill="#FF0000"/>
<circle cx="305.9" cy="290.95" r="1.15" fill="#FF0000"/>
<circle cx="305.9" cy="296.7" r="1.15" fill="#FF0000"/>
<circle cx="308.6" cy="302.45" r="1.15" fill="#FF0000"/>
<circle cx="310.9" cy="308.2" r="1.15" fill="#FF0000"/>
<circle cx="310" cy="313.95" r="1.15" fill="#FF0000"/>
<circle cx="312.9" cy="319.7" r="1.15" fill="#FF0000"/>
<circle cx="320.1" cy="325.45" r="1.15" fill="#FF0000"/>
<text transform="translate(251.85,217.67) scale(0.1,0.12)" font-size="34" text-anchor="end" font-family='"Liberation Sans", sans-serif' fill="#4A4A4A" stroke="#4A4A4A" stroke-width="0">E2F_TARGETS</text>
<line x1="252.2" y1="216.2" x2="253.3" y2="216.2" stroke="#333" stroke-width="0.4"/>
<text transform="translate(251.85,223.42) scale(0.1,0.12)" font-size="34" text-anchor="end" font-family='"Liberation Sans", sans-serif' fill="#4A4A4A" stroke="#4A4A4A" stroke-width="0">G2M_CHECKPOINT</text>
<line x1="252.2" y1="221.95" x2="253.3" y2="221.95" stroke="#333" stroke-width="0.4"/>
<text transform="translate(251.85,229.17) scale(0.1,0.12)" font-size="34" text-anchor="end" font-family='"Liberation Sans", sans-serif' fill="#4A4A4A" stroke="#4A4A4A" stroke-width="0">MITOTIC_SPINDLE</text>
<line x1="252.2" y1="227.7" x2="253.3" y2="227.7" stroke="#333" stroke-width="0.4"/>
<text transform="translate(251.85,234.92) scale(0.1,0.12)" font-size="34" text-anchor="end" font-family='"Liberation Sans", sans-serif' fill="#4A4A4A" stroke="#4A4A4A" stroke-width="0">MYC_TARGETS_V1</text>
<line x1="252.2" y1="233.45" x2="253.3" y2="233.45" stroke="#333" stroke-width="0.4"/>
<text transform="translate(251.85,240.67) scale(0.1,0.12)" font-size="34" text-anchor="end" font-family='"Liberation Sans", sans-serif' fill="#4A4A4A" stroke="#4A4A4A" stroke-width="0">MYC_TARGETS_V2</text>
<line x1="252.2" y1="239.2" x2="253.3" y2="239.2" stroke="#333" stroke-width="0.4"/>
<text transform="translate(251.85,246.42) scale(0.1,0.12)" font-size="34" text-anchor="end" font-family='"Liberation Sans", sans-serif' fill="#4A4A4A" stroke="#4A4A4A" stroke-width="0">MTORC1_SIGNALING</text>
<line x1="252.2" y1="244.95" x2="253.3" y2="244.95" stroke="#333" stroke-width="0.4"/>
<text transform="translate(251.85,252.17) scale(0.1,0.12)" font-size="34" text-anchor="end" font-family='"Liberation Sans", sans-serif' fill="#4A4A4A" stroke="#4A4A4A" stroke-width="0">PI3K_AKT_MTOR_SIGNALING</text>
<line x1="252.2" y1="250.7" x2="253.3" y2="250.7" stroke="#333" stroke-width="0.4"/>
<text transform="translate(251.85,257.92) scale(0.1,0.12)" font-size="34" text-anchor="end" font-family='"Liberation Sans", sans-serif' fill="#4A4A4A" stroke="#4A4A4A" stroke-width="0">UNFOLDED_PROTEIN_RESPONSE</text>
<line x1="252.2" y1="256.45" x2="253.3" y2="256.45" stroke="#333" stroke-width="0.4"/>
<text transform="translate(251.85,263.67) scale(0.1,0.12)" font-size="34" text-anchor="end" font-family='"Liberation Sans", sans-serif' fill="#4A4A4A" stroke="#4A4A4A" stroke-width="0">DNA_REPAIR</text>
<line x1="252.2" y1="262.2" x2="253.3" y2="262.2" stroke="#333" stroke-width="0.4"/>
<text transform="translate(251.85,269.42) scale(0.1,0.12)" font-size="34" text-anchor="end" font-family='"Liberation Sans", sans-serif' fill="#4A4A4A" stroke="#4A4A4A" stroke-width="0">INTERFERON_ALPHA_RESPONSE</text>
<line x1="252.2" y1="267.95" x2="253.3" y2="267.95" stroke="#333" stroke-width="0.4"/>
<text transform="translate(251.85,275.17) scale(0.1,0.12)" font-size="34" text-anchor="end" font-family='"Liberation Sans", sans-serif' fill="#4A4A4A" stroke="#4A4A4A" stroke-width="0">INTERFERON_GAMMA_RESPONSE</text>
<line x1="252.2" y1="273.7" x2="253.3" y2="273.7" stroke="#333" stroke-width="0.4"/>
<text transform="translate(251.85,280.92) scale(0.1,0.12)" font-size="34" text-anchor="end" font-family='"Liberation Sans", sans-serif' fill="#4A4A4A" stroke="#4A4A4A" stroke-width="0">APOPTOSIS</text>
<line x1="252.2" y1="279.45" x2="253.3" y2="279.45" stroke="#333" stroke-width="0.4"/>
<text transform="translate(251.85,286.67) scale(0.1,0.12)" font-size="34" text-anchor="end" font-family='"Liberation Sans", sans-serif' fill="#4A4A4A" stroke="#4A4A4A" stroke-width="0">COAGULATION</text>
<line x1="252.2" y1="285.2" x2="253.3" y2="285.2" stroke="#333" stroke-width="0.4"/>
<text transform="translate(251.85,292.42) scale(0.1,0.12)" font-size="34" text-anchor="end" font-family='"Liberation Sans", sans-serif' fill="#4A4A4A" stroke="#4A4A4A" stroke-width="0">UV_RESPONSE_DN</text>
<line x1="252.2" y1="290.95" x2="253.3" y2="290.95" stroke="#333" stroke-width="0.4"/>
<text transform="translate(251.85,298.17) scale(0.1,0.12)" font-size="34" text-anchor="end" font-family='"Liberation Sans", sans-serif' fill="#4A4A4A" stroke="#4A4A4A" stroke-width="0">ESTROGEN_RESPONSE_LATE</text>
<line x1="252.2" y1="296.7" x2="253.3" y2="296.7" stroke="#333" stroke-width="0.4"/>
<text transform="translate(251.85,303.92) scale(0.1,0.12)" font-size="34" text-anchor="end" font-family='"Liberation Sans", sans-serif' fill="#4A4A4A" stroke="#4A4A4A" stroke-width="0">FATTY_ACID_METABOLISM</text>
<line x1="252.2" y1="302.45" x2="253.3" y2="302.45" stroke="#333" stroke-width="0.4"/>
<text transform="translate(251.85,309.67) scale(0.1,0.12)" font-size="34" text-anchor="end" font-family='"Liberation Sans", sans-serif' fill="#4A4A4A" stroke="#4A4A4A" stroke-width="0">ADIPOGENESIS</text>
<line x1="252.2" y1="308.2" x2="253.3" y2="308.2" stroke="#333" stroke-width="0.4"/>
<text transform="translate(251.85,315.42) scale(0.1,0.12)" font-size="34" text-anchor="end" font-family='"Liberation Sans", sans-serif' fill="#4A4A4A" stroke="#4A4A4A" stroke-width="0">BILE_ACID_METABOLISM</text>
<line x1="252.2" y1="313.95" x2="253.3" y2="313.95" stroke="#333" stroke-width="0.4"/>
<text transform="translate(251.85,321.17) scale(0.1,0.12)" font-size="34" text-anchor="end" font-family='"Liberation Sans", sans-serif' fill="#4A4A4A" stroke="#4A4A4A" stroke-width="0">ESTROGEN_RESPONSE_EARLY</text>
<line x1="252.2" y1="319.7" x2="253.3" y2="319.7" stroke="#333" stroke-width="0.4"/>
<text transform="translate(251.85,326.92) scale(0.1,0.12)" font-size="34" text-anchor="end" font-family='"Liberation Sans", sans-serif' fill="#4A4A4A" stroke="#4A4A4A" stroke-width="0">TNFA_SIGNALING_VIA_NFKB</text>
<line x1="252.2" y1="325.45" x2="253.3" y2="325.45" stroke="#333" stroke-width="0.4"/>
<text x="255.3" y="209.2" font-size="7.3" text-anchor="middle" font-family='"Liberation Serif", serif' fill="#222" >-4</text>
<text x="255.3" y="338.6" font-size="7.3" text-anchor="middle" font-family='"Liberation Serif", serif' fill="#222" >-4</text>
<line x1="256.4" y1="211.4" x2="256.4" y2="212.7" stroke="#333" stroke-width="0.4"/>
<line x1="256.4" y1="328.6" x2="256.4" y2="329.9" stroke="#333" stroke-width="0.4"/>
<text x="271.1" y="209.2" font-size="7.3" text-anchor="middle" font-family='"Liberation Serif", serif' fill="#222" >-2</text>
<text x="271.1" y="338.6" font-size="7.3" text-anchor="middle" font-family='"Liberation Serif", serif' fill="#222" >-2</text>
<line x1="272.2" y1="211.4" x2="272.2" y2="212.7" stroke="#333" stroke-width="0.4"/>
<line x1="272.2" y1="328.6" x2="272.2" y2="329.9" stroke="#333" stroke-width="0.4"/>
<text x="288" y="209.2" font-size="7.3" text-anchor="middle" font-family='"Liberation Serif", serif' fill="#222" >0</text>
<text x="288" y="338.6" font-size="7.3" text-anchor="middle" font-family='"Liberation Serif", serif' fill="#222" >0</text>
<line x1="288" y1="211.4" x2="288" y2="212.7" stroke="#333" stroke-width="0.4"/>
<line x1="288" y1="328.6" x2="288" y2="329.9" stroke="#333" stroke-width="0.4"/>
<text x="303.8" y="209.2" font-size="7.3" text-anchor="middle" font-family='"Liberation Serif", serif' fill="#222" >2</text>
<text x="303.8" y="338.6" font-size="7.3" text-anchor="middle" font-family='"Liberation Serif", serif' fill="#222" >2</text>
<line x1="303.8" y1="211.4" x2="303.8" y2="212.7" stroke="#333" stroke-width="0.4"/>
<line x1="303.8" y1="328.6" x2="303.8" y2="329.9" stroke="#333" stroke-width="0.4"/>
<text x="319.6" y="209.2" font-size="7.3" text-anchor="middle" font-family='"Liberation Serif", serif' fill="#222" >4</text>
<text x="319.6" y="338.6" font-size="7.3" text-anchor="middle" font-family='"Liberation Serif", serif' fill="#222" >4</text>
<line x1="319.6" y1="211.4" x2="319.6" y2="212.7" stroke="#333" stroke-width="0.4"/>
<line x1="319.6" y1="328.6" x2="319.6" y2="329.9" stroke="#333" stroke-width="0.4"/>
<text x="284.9" y="197.4" font-size="7.5" text-anchor="middle" font-family='"Liberation Serif", serif' fill="#111" >NES</text>
<text x="289.9" y="349.7" font-size="7.6" text-anchor="middle" font-family='"Liberation Serif", serif' fill="#111" >-log10 FDR q-value</text>
<text x="2.2" y="374.8" font-size="15.8" text-anchor="start" font-family='"Liberation Serif", serif' fill="#111" >C</text>
<line x1="53.95" y1="427.6" x2="53.95" y2="517.3" stroke="#F3F3F3" stroke-width="0.4"/>
<line x1="73.05" y1="427.6" x2="73.05" y2="517.3" stroke="#F3F3F3" stroke-width="0.4"/>
<line x1="92.15" y1="427.6" x2="92.15" y2="517.3" stroke="#F3F3F3" stroke-width="0.4"/>
<line x1="111.25" y1="427.6" x2="111.25" y2="517.3" stroke="#F3F3F3" stroke-width="0.4"/>
<line x1="130.35" y1="427.6" x2="130.35" y2="517.3" stroke="#F3F3F3" stroke-width="0.4"/>
<line x1="149.45" y1="427.6" x2="149.45" y2="517.3" stroke="#F3F3F3" stroke-width="0.4"/>
<line x1="43.5" y1="502.18" x2="159" y2="502.18" stroke="#F3F3F3" stroke-width="0.4"/>
<line x1="43.5" y1="480.13" x2="159" y2="480.13" stroke="#F3F3F3" stroke-width="0.4"/>
<line x1="43.5" y1="458.08" x2="159" y2="458.08" stroke="#F3F3F3" stroke-width="0.4"/>
<line x1="43.5" y1="436.03" x2="159" y2="436.03" stroke="#F3F3F3" stroke-width="0.4"/>
<line x1="44.4" y1="427.6" x2="44.4" y2="517.3" stroke="#E8E8E8" stroke-width="0.6"/>
<line x1="63.5" y1="427.6" x2="63.5" y2="517.3" stroke="#E8E8E8" stroke-width="0.6"/>
<line x1="82.6" y1="427.6" x2="82.6" y2="517.3" stroke="#E8E8E8" stroke-width="0.6"/>
<line x1="101.7" y1="427.6" x2="101.7" y2="517.3" stroke="#E8E8E8" stroke-width="0.6"/>
<line x1="120.8" y1="427.6" x2="120.8" y2="517.3" stroke="#E8E8E8" stroke-width="0.6"/>
<line x1="139.9" y1="427.6" x2="139.9" y2="517.3" stroke="#E8E8E8" stroke-width="0.6"/>
<line x1="159" y1="427.6" x2="159" y2="517.3" stroke="#E8E8E8" stroke-width="0.6"/>
<line x1="43.5" y1="513.2" x2="159" y2="513.2" stroke="#E8E8E8" stroke-width="0.6"/>
<line x1="43.5" y1="491.15" x2="159" y2="491.15" stroke="#E8E8E8" stroke-width="0.6"/>
<line x1="43.5" y1="469.1" x2="159" y2="469.1" stroke="#E8E8E8" stroke-width="0.6"/>
<line x1="43.5" y1="447.05" x2="159" y2="447.05" stroke="#E8E8E8" stroke-width="0.6"/>
<path transform="scale(0.5)" d="M182 1008h0M183 1007h0M184 1008h0M184 1009h0M185 1010h0M185 1012h0M186 1008h0M186 1009h0M186 1010h0M186 1011h0M187 1008h0M187 1016h0M188 1007h0M188 1008h0M188 1010h0M188 1012h0M188 1015h0M189 1008h0M189 1009h0M189 1013h0M189 1015h0M189 1018h0M190 1007h0M190 1013h0M190 1015h0M191 1016h0M192 1015h0M192 1017h0M192 1018h0M193 1013h0M193 1015h0M193 1016h0M193 1021h0M194 1020h0M194 1021h0M195 1015h0M195 1019h0M196 1021h0M197 1023h0M198 1022h0M198 1023h0M199 1024h0M202 1007h0M202 1026h0M203 1016h0M203 1025h0M204 1014h0M208 1024h0M208 1025h0M210 1007h0M210 1022h0M210 1023h0M211 1019h0M211 1021h0M212 1018h0M212 1022h0M213 1018h0M213 1021h0M214 1007h0M214 1014h0M214 1022h0M215 1015h0M215 1016h0M215 1017h0M215 1019h0M216 1009h0M216 1012h0M216 1013h0M217 1014h0M217 1015h0M217 1016h0M218 1011h0M218 1013h0M218 1015h0M218 1017h0M218 1019h0M220 1009h0M220 1010h0M220 1011h0M221 1008h0M221 1010h0M223 1009h0" stroke="#4D4D4D" stroke-opacity="0.5" stroke-width="2.0" stroke-linecap="round" fill="none"/>
<path transform="scale(0.5)" d="M188 1009h0M189 1007h0M190 1008h0M190 1011h0M190 1014h0M190 1019h0M191 1007h0M191 1010h0M192 1007h0M192 1010h0M192 1014h0M193 1017h0M194 1008h0M194 1016h0M194 1017h0M194 1018h0M195 1017h0M196 1007h0M196 1018h0M196 1020h0M196 1022h0M197 1020h0M197 1021h0M199 1021h0M200 1022h0M200 1026h0M201 1025h0M203 1017h0M203 1020h0M204 1026h0M205 1007h0M206 1024h0M206 1025h0M208 1007h0M209 1023h0M211 1007h0M212 1017h0M212 1020h0M213 1007h0M214 1015h0M214 1017h0M214 1018h0M215 1008h0M215 1013h0M215 1014h0M216 1010h0M217 1010h0M217 1011h0M218 1007h0M218 1009h0M218 1010h0M218 1012h0M219 1008h0M221 1009h0" stroke="#4D4D4D" stroke-opacity="0.75" stroke-width="2.0" stroke-linecap="round" fill="none"/>
<path transform="scale(0.5)" d="M188 1011h0M189 1010h0M190 1010h0M191 1008h0M191 1009h0M191 1011h0M191 1012h0M191 1013h0M192 1008h0M192 1009h0M192 1011h0M192 1012h0M192 1013h0M193 1008h0M193 1009h0M193 1010h0M193 1011h0M193 1012h0M193 1014h0M193 1018h0M194 1009h0M194 1010h0M194 1011h0M194 1012h0M194 1013h0M194 1014h0M194 1015h0M195 1007h0M195 1008h0M195 1009h0M195 1010h0M195 1011h0M195 1012h0M195 1013h0M195 1014h0M195 1016h0M195 1018h0M196 1008h0M196 1009h0M196 1010h0M196 1011h0M196 1012h0M196 1013h0M196 1014h0M196 1015h0M196 1016h0M196 1017h0M196 1019h0M197 1008h0M197 1009h0M197 1010h0M197 1011h0M197 1012h0M197 1013h0M197 1014h0M197 1015h0M197 1016h0M197 1017h0M197 1018h0M197 1019h0M197 1022h0M198 1007h0M198 1008h0M198 1009h0M198 1010h0M198 1011h0M198 1012h0M198 1013h0M198 1014h0M198 1015h0M198 1016h0M198 1017h0M198 1018h0M198 1019h0M198 1020h0M198 1021h0M199 1007h0M199 1008h0M199 1009h0M199 1010h0M199 1011h0M199 1012h0M199 1013h0M199 1014h0M199 1015h0M199 1016h0M199 1017h0M199 1018h0M199 1019h0M199 1020h0M199 1022h0M199 1023h0M200 1007h0M200 1008h0M200 1009h0M200 1010h0M200 1011h0M200 1012h0M200 1013h0M200 1014h0M200 1015h0M200 1016h0M200 1017h0M200 1018h0M200 1019h0M200 1020h0M200 1021h0M200 1023h0M200 1024h0M201 1007h0M201 1008h0M201 1009h0M201 1010h0M201 1011h0M201 1012h0M201 1013h0M201 1014h0M201 1015h0M201 1016h0M201 1017h0M201 1018h0M201 1019h0M201 1020h0M201 1021h0M201 1022h0M201 1023h0M201 1024h0M202 1008h0M202 1009h0M202 1010h0M202 1011h0M202 1012h0M202 1013h0M202 1014h0M202 1015h0M202 1016h0M202 1017h0M202 1018h0M202 1019h0M202 1020h0M202 1021h0M202 1022h0M202 1023h0M202 1024h0M202 1025h0M203 1018h0M203 1019h0M203 1021h0M203 1022h0M203 1023h0M203 1024h0M203 1026h0M204 1013h0M204 1015h0M204 1016h0M204 1017h0M204 1018h0M204 1019h0M204 1020h0M204 1021h0M204 1022h0M204 1023h0M204 1024h0M204 1025h0M205 1008h0M205 1009h0M205 1010h0M205 1011h0M205 1012h0M205 1013h0M205 1014h0M205 1015h0M205 1016h0M205 1017h0M205 1018h0M205 1019h0M205 1020h0M205 1021h0M205 1022h0M205 1023h0M205 1024h0M205 1025h0M206 1007h0M206 1008h0M206 1009h0M206 1010h0M206 1011h0M206 1012h0M206 1013h0M206 1014h0M206 1015h0M206 1016h0M206 1017h0M206 1018h0M206 1019h0M206 1020h0M206 1021h0M206 1022h0M206 1023h0M207 1007h0M207 1008h0M207 1009h0M207 1010h0M207 1011h0M207 1012h0M207 1013h0M207 1014h0M207 1015h0M207 1016h0M207 1017h0M207 1018h0M207 1019h0M207 1020h0M207 1021h0M207 1022h0M207 1023h0M207 1024h0M208 1008h0M208 1009h0M208 1010h0M208 1011h0M208 1012h0M208 1013h0M208 1014h0M208 1015h0M208 1016h0M208 1017h0M208 1018h0M208 1019h0M208 1020h0M208 1021h0M208 1022h0M208 1023h0M209 1007h0M209 1008h0M209 1009h0M209 1010h0M209 1011h0M209 1012h0M209 1013h0M209 1014h0M209 1015h0M209 1016h0M209 1017h0M209 1018h0M209 1019h0M209 1020h0M209 1021h0M209 1022h0M209 1024h0M210 1008h0M210 1009h0M210 1010h0M210 1011h0M210 1012h0M210 1013h0M210 1014h0M210 1015h0M210 1016h0M210 1017h0M210 1018h0M210 1019h0M210 1020h0M210 1021h0M211 1008h0M211 1009h0M211 1010h0M211 1011h0M211 1012h0M211 1013h0M211 1014h0M211 1015h0M211 1016h0M211 1017h0M211 1018h0M212 1007h0M212 1008h0M212 1009h0M212 1010h0M212 1011h0M212 1012h0M212 1013h0M212 1014h0M212 1015h0M212 1016h0M212 1019h0M213 1008h0M213 1009h0M213 1010h0M213 1011h0M213 1012h0M213 1013h0M213 1014h0M213 1015h0M213 1016h0M213 1017h0M214 1008h0M214 1009h0M214 1010h0M214 1011h0M214 1012h0M214 1013h0M215 1009h0M215 1010h0M215 1011h0M216 1008h0M216 1014h0M217 1008h0M217 1009h0M219 1009h0M219 1010h0" stroke="#4D4D4D" stroke-opacity="1.0" stroke-width="2.0" stroke-linecap="round" fill="none"/>
<path transform="scale(0.5)" d="M176 997h0M177 1004h0M178 1000h0M178 1002h0M178 1005h0M179 997h0M180 994h0M180 998h0M180 1003h0M180 1005h0M181 985h0M181 996h0M181 997h0M181 1002h0M181 1003h0M182 974h0M182 1002h0M182 1003h0M182 1006h0M183 953h0M183 975h0M183 991h0M183 998h0M183 999h0M183 1000h0M183 1001h0M183 1002h0M183 1003h0M183 1004h0M184 992h0M184 995h0M184 997h0M184 999h0M184 1002h0M184 1003h0M185 955h0M185 966h0M185 967h0M185 974h0M185 979h0M185 982h0M185 983h0M185 989h0M185 993h0M185 994h0M185 1001h0M185 1002h0M185 1007h0M186 979h0M186 980h0M186 985h0M186 986h0M186 987h0M186 989h0M186 991h0M186 994h0M186 995h0M186 999h0M186 1000h0M186 1002h0M186 1003h0M186 1004h0M186 1006h0M186 1007h0M187 984h0M187 991h0M187 992h0M187 996h0M187 997h0M187 1000h0M187 1002h0M187 1003h0M188 966h0M188 981h0M188 988h0M188 989h0M188 994h0M188 995h0M188 996h0M188 998h0M188 1002h0M188 1004h0M188 1006h0M189 967h0M189 980h0M189 986h0M189 993h0M189 996h0M189 998h0M189 1000h0M189 1001h0M189 1003h0M190 956h0M190 981h0M190 983h0M190 990h0M190 994h0M190 997h0M190 999h0M190 1001h0M190 1003h0M191 962h0M191 985h0M191 987h0M191 988h0M191 989h0M191 991h0M191 995h0M191 997h0M191 1000h0M192 966h0M192 978h0M192 983h0M192 995h0M192 998h0M192 999h0M193 961h0M193 967h0M193 970h0M193 973h0M193 975h0M193 978h0M193 982h0M193 983h0M193 987h0M193 988h0M193 989h0M193 990h0M194 961h0M194 971h0M194 977h0M194 981h0M194 984h0M194 985h0M194 989h0M194 990h0M194 992h0M194 993h0M194 996h0M194 1000h0M195 966h0M195 969h0M195 973h0M195 974h0M195 977h0M195 982h0M195 983h0M195 984h0M195 985h0M195 986h0M195 989h0M195 996h0M195 998h0M195 999h0M196 957h0M196 960h0M196 970h0M196 982h0M196 983h0M196 985h0M196 989h0M196 990h0M196 991h0M196 992h0M196 993h0M196 998h0M197 961h0M197 972h0M197 974h0M197 975h0M197 981h0M197 984h0M197 987h0M197 988h0M197 994h0M197 995h0M197 996h0M197 997h0M198 966h0M198 969h0M198 975h0M198 976h0M198 979h0M198 989h0M198 1003h0M198 1007h0M199 977h0M199 983h0M199 985h0M199 987h0M199 988h0M199 993h0M199 994h0M199 995h0M199 997h0M199 998h0M200 961h0M200 972h0M200 987h0M200 988h0M200 991h0M200 996h0M200 1002h0M200 1004h0M201 957h0M201 968h0M201 970h0M201 972h0M201 978h0M201 980h0M201 983h0M201 986h0M201 987h0M201 989h0M201 992h0M201 996h0M201 1003h0M202 978h0M202 982h0M202 984h0M202 986h0M202 992h0M202 994h0M205 967h0M205 976h0M205 977h0M205 981h0M205 983h0M205 984h0M205 985h0M205 986h0M205 989h0M206 947h0M206 951h0M206 957h0M206 959h0M206 962h0M206 963h0M206 964h0M206 972h0M206 974h0M206 977h0M206 981h0M206 988h0M206 1000h0M206 1002h0M207 956h0M207 961h0M207 968h0M207 971h0M207 975h0M207 978h0M207 983h0M207 986h0M207 987h0M207 988h0M207 990h0M207 996h0M207 998h0M208 948h0M208 952h0M208 958h0M208 959h0M208 960h0M208 967h0M208 975h0M208 976h0M208 979h0M208 980h0M208 981h0M208 982h0M208 983h0M208 984h0M208 991h0M208 996h0M208 997h0M209 966h0M209 967h0M209 998h0M210 939h0M210 956h0M210 968h0M210 971h0M210 973h0M210 974h0M210 975h0M210 976h0M210 978h0M210 983h0M210 984h0M210 985h0M210 987h0M210 991h0M210 1007h0M211 954h0M211 962h0M211 964h0M211 965h0M211 968h0M211 972h0M211 973h0M211 978h0M211 980h0M211 981h0M211 987h0M211 989h0M211 994h0M211 1000h0M211 1007h0M212 950h0M212 975h0M212 978h0M212 979h0M212 984h0M212 985h0M212 986h0M212 991h0M213 961h0M213 975h0M213 979h0M213 980h0M213 983h0M213 986h0M213 987h0M213 988h0M213 991h0M213 994h0M214 943h0M214 961h0M214 964h0M214 965h0M214 966h0M214 977h0M214 979h0M214 981h0M214 983h0M214 984h0M214 985h0M214 989h0M214 995h0M214 998h0M214 999h0M215 968h0M215 972h0M215 974h0M215 976h0M215 979h0M215 982h0M215 987h0M215 990h0M215 993h0M215 996h0M215 998h0M215 999h0M215 1001h0M216 940h0M216 965h0M216 967h0M216 983h0M216 984h0M216 995h0M216 996h0M216 997h0M216 998h0M217 946h0M217 955h0M217 970h0M217 978h0M217 981h0M217 982h0M217 984h0M217 986h0M217 987h0M217 988h0M217 991h0M217 996h0M217 999h0M217 1000h0M217 1003h0M218 953h0M218 979h0M218 982h0M218 983h0M218 985h0M218 989h0M218 990h0M218 992h0M218 997h0M219 971h0M219 980h0M219 984h0M219 989h0M219 990h0M219 996h0M219 999h0M219 1001h0M219 1005h0M219 1006h0M219 1007h0M220 962h0M220 974h0M220 979h0M220 981h0M220 982h0M220 984h0M220 988h0M220 990h0M220 993h0M220 995h0M220 996h0M220 1000h0M220 1005h0M220 1007h0M221 963h0M221 967h0M221 971h0M221 975h0M221 978h0M221 980h0M221 982h0M221 985h0M221 989h0M221 993h0M221 1003h0M222 965h0M222 970h0M222 972h0M222 975h0M222 978h0M222 983h0M222 986h0M222 989h0M222 993h0M222 994h0M222 995h0M222 996h0M222 997h0M222 999h0M222 1002h0M223 958h0M223 966h0M223 992h0M223 999h0M223 1006h0M223 1007h0M224 959h0M224 977h0M224 987h0M224 991h0M224 998h0M224 1005h0M224 1006h0M224 1007h0M225 990h0M225 991h0M225 993h0M225 995h0M225 998h0M225 1001h0M225 1003h0M225 1006h0M226 978h0M226 982h0M226 1006h0M227 990h0M227 991h0M227 996h0M227 1002h0M227 1004h0M228 1004h0M229 982h0M229 986h0M229 996h0M230 994h0M231 1007h0" stroke="#4169E1" stroke-opacity="0.5" stroke-width="2.0" stroke-linecap="round" fill="none"/>
<path transform="scale(0.5)" d="M179 998h0M181 1006h0M182 1001h0M183 992h0M183 1006h0M184 994h0M184 998h0M184 1001h0M184 1004h0M185 1006h0M186 990h0M186 997h0M187 1005h0M187 1007h0M188 999h0M189 981h0M189 983h0M189 992h0M189 995h0M189 1004h0M189 1005h0M190 991h0M190 998h0M190 1005h0M190 1007h0M191 990h0M191 992h0M191 993h0M191 994h0M191 1003h0M191 1004h0M191 1005h0M192 985h0M192 993h0M192 994h0M192 1001h0M192 1004h0M193 986h0M193 996h0M193 998h0M193 999h0M193 1000h0M194 974h0M194 987h0M194 991h0M194 995h0M195 979h0M195 980h0M195 987h0M195 990h0M195 993h0M195 995h0M195 1002h0M196 984h0M196 1003h0M197 983h0M197 989h0M197 992h0M197 993h0M198 980h0M198 984h0M198 985h0M198 987h0M198 996h0M198 1000h0M199 982h0M199 984h0M199 991h0M199 1005h0M200 990h0M200 994h0M200 995h0M200 997h0M200 1003h0M200 1007h0M201 975h0M201 993h0M201 994h0M201 1000h0M202 980h0M202 987h0M202 991h0M202 995h0M202 996h0M202 997h0M202 998h0M205 969h0M205 992h0M205 993h0M205 995h0M206 982h0M206 983h0M206 990h0M206 991h0M206 992h0M206 998h0M207 972h0M207 980h0M207 981h0M207 984h0M207 994h0M207 1000h0M207 1004h0M208 971h0M208 974h0M208 985h0M208 987h0M208 988h0M208 992h0M208 993h0M208 994h0M208 1000h0M209 979h0M209 986h0M209 988h0M209 993h0M209 994h0M209 996h0M210 977h0M210 980h0M210 988h0M210 989h0M210 990h0M210 992h0M210 995h0M211 988h0M211 992h0M211 995h0M211 997h0M211 998h0M212 983h0M212 987h0M212 990h0M212 995h0M212 998h0M212 1000h0M212 1005h0M212 1006h0M213 990h0M213 992h0M213 997h0M213 998h0M213 1002h0M214 986h0M214 994h0M214 1005h0M215 988h0M215 997h0M215 1003h0M216 986h0M216 990h0M216 992h0M216 999h0M216 1002h0M216 1004h0M217 994h0M217 995h0M217 998h0M217 1007h0M218 981h0M218 986h0M218 998h0M218 1000h0M218 1002h0M218 1004h0M219 991h0M219 1000h0M219 1004h0M220 991h0M220 994h0M220 998h0M220 999h0M220 1001h0M220 1002h0M220 1003h0M220 1006h0M221 1004h0M221 1006h0M222 987h0M222 991h0M222 992h0M222 1005h0M222 1006h0M222 1007h0M223 990h0M223 991h0M223 993h0M223 1001h0M223 1002h0M223 1005h0M224 990h0M224 995h0M224 999h0M224 1002h0M224 1004h0M228 1001h0M228 1003h0M229 1002h0M231 998h0" stroke="#4169E1" stroke-opacity="0.75" stroke-width="2.0" stroke-linecap="round" fill="none"/>
<path transform="scale(0.5)" d="M181 998h0M182 999h0M183 1007h0M184 984h0M184 1005h0M184 1006h0M185 1004h0M185 1005h0M186 1005h0M187 998h0M187 999h0M187 1004h0M187 1006h0M188 1000h0M188 1003h0M188 1005h0M188 1007h0M189 997h0M189 999h0M189 1002h0M189 1006h0M189 1007h0M190 1000h0M190 1002h0M190 1006h0M191 998h0M191 1001h0M191 1002h0M191 1006h0M191 1007h0M192 996h0M192 997h0M192 1000h0M192 1002h0M192 1003h0M192 1005h0M192 1006h0M192 1007h0M193 993h0M193 1001h0M193 1002h0M193 1003h0M193 1004h0M193 1005h0M193 1006h0M194 997h0M194 998h0M194 999h0M194 1001h0M194 1002h0M194 1003h0M194 1004h0M194 1005h0M194 1006h0M194 1007h0M195 991h0M195 997h0M195 1000h0M195 1001h0M195 1003h0M195 1004h0M195 1005h0M195 1006h0M195 1007h0M196 996h0M196 997h0M196 999h0M196 1000h0M196 1001h0M196 1002h0M196 1004h0M196 1005h0M196 1006h0M196 1007h0M197 990h0M197 991h0M197 998h0M197 999h0M197 1000h0M197 1001h0M197 1002h0M197 1003h0M197 1004h0M197 1005h0M197 1006h0M197 1007h0M198 982h0M198 991h0M198 993h0M198 995h0M198 997h0M198 998h0M198 999h0M198 1001h0M198 1002h0M198 1004h0M198 1005h0M198 1006h0M199 999h0M199 1000h0M199 1001h0M199 1002h0M199 1003h0M199 1004h0M199 1006h0M199 1007h0M200 989h0M200 992h0M200 993h0M200 998h0M200 999h0M200 1000h0M200 1001h0M200 1005h0M200 1006h0M201 991h0M201 998h0M201 999h0M201 1001h0M201 1002h0M201 1004h0M201 1005h0M201 1006h0M201 1007h0M202 981h0M202 988h0M202 990h0M202 999h0M202 1000h0M202 1001h0M202 1002h0M202 1003h0M202 1004h0M202 1005h0M202 1006h0M202 1007h0M205 978h0M205 980h0M205 982h0M205 987h0M205 988h0M205 990h0M205 991h0M205 994h0M205 996h0M205 997h0M205 998h0M205 1000h0M205 1001h0M205 1002h0M205 1003h0M205 1004h0M205 1005h0M205 1006h0M205 1007h0M206 993h0M206 995h0M206 996h0M206 999h0M206 1001h0M206 1003h0M206 1004h0M206 1005h0M206 1006h0M206 1007h0M207 976h0M207 982h0M207 991h0M207 992h0M207 993h0M207 995h0M207 997h0M207 999h0M207 1001h0M207 1002h0M207 1003h0M207 1005h0M207 1006h0M207 1007h0M208 998h0M208 999h0M208 1001h0M208 1002h0M208 1003h0M208 1004h0M208 1005h0M208 1006h0M208 1007h0M209 982h0M209 987h0M209 989h0M209 992h0M209 997h0M209 999h0M209 1000h0M209 1001h0M209 1002h0M209 1003h0M209 1004h0M209 1005h0M209 1006h0M209 1007h0M210 993h0M210 996h0M210 997h0M210 998h0M210 999h0M210 1000h0M210 1001h0M210 1002h0M210 1003h0M210 1004h0M210 1005h0M210 1006h0M211 985h0M211 986h0M211 991h0M211 993h0M211 996h0M211 999h0M211 1001h0M211 1002h0M211 1003h0M211 1004h0M211 1005h0M211 1006h0M212 988h0M212 989h0M212 992h0M212 994h0M212 997h0M212 999h0M212 1001h0M212 1002h0M212 1003h0M212 1004h0M212 1007h0M213 993h0M213 996h0M213 999h0M213 1000h0M213 1001h0M213 1003h0M213 1004h0M213 1005h0M213 1006h0M213 1007h0M214 988h0M214 990h0M214 991h0M214 996h0M214 997h0M214 1000h0M214 1002h0M214 1003h0M214 1004h0M214 1006h0M214 1007h0M215 991h0M215 992h0M215 995h0M215 1000h0M215 1002h0M215 1004h0M215 1005h0M215 1006h0M215 1007h0M216 994h0M216 1000h0M216 1001h0M216 1003h0M216 1005h0M216 1006h0M216 1007h0M217 992h0M217 993h0M217 997h0M217 1001h0M217 1002h0M217 1004h0M217 1005h0M218 999h0M218 1001h0M218 1003h0M218 1005h0M218 1006h0M218 1007h0M219 994h0M219 998h0M219 1002h0M220 1004h0M221 995h0M221 1001h0M221 1002h0M222 998h0M222 1001h0M222 1003h0M222 1004h0M225 1005h0M226 1003h0M226 1005h0M226 1007h0" stroke="#4169E1" stroke-opacity="1.0" stroke-width="2.0" stroke-linecap="round" fill="none"/>
<circle cx="124.2" cy="498.1" r="0.65" fill="#EE0000" fill-opacity="0.6"/>
<text transform="translate(125.2,500) scale(0.1)" font-size="26" text-anchor="middle" font-family='"Liberation Sans", sans-serif' fill="#333" textLength="40" lengthAdjust="spacingAndGlyphs">7W</text>
<line x1="79.35" y1="427.6" x2="79.35" y2="517.3" stroke="#666" stroke-width="0.45" stroke-dasharray="1.1,1.1"/>
<line x1="124.05" y1="427.6" x2="124.05" y2="517.3" stroke="#666" stroke-width="0.45" stroke-dasharray="1.1,1.1"/>
<line x1="43.5" y1="503.64" x2="159" y2="503.64" stroke="#666" stroke-width="0.45" stroke-dasharray="1.1,1.1"/>
<path d="M43.5 427.6V517.3H159" stroke="#767676" stroke-width="0.95" fill="none"/>
<line x1="41.5" y1="513.2" x2="43.5" y2="513.2" stroke="#555" stroke-width="0.7"/>
<text x="39.8" y="516.26" font-size="9" text-anchor="end" font-family='"Liberation Serif", serif' fill="#222" >0</text>
<line x1="41.5" y1="491.15" x2="43.5" y2="491.15" stroke="#555" stroke-width="0.7"/>
<text x="39.8" y="494.21" font-size="9" text-anchor="end" font-family='"Liberation Serif", serif' fill="#222" >3</text>
<line x1="41.5" y1="469.1" x2="43.5" y2="469.1" stroke="#555" stroke-width="0.7"/>
<text x="39.8" y="472.16" font-size="9" text-anchor="end" font-family='"Liberation Serif", serif' fill="#222" >6</text>
<line x1="41.5" y1="447.05" x2="43.5" y2="447.05" stroke="#555" stroke-width="0.7"/>
<text x="39.8" y="450.11" font-size="9" text-anchor="end" font-family='"Liberation Serif", serif' fill="#222" >9</text>
<line x1="44.4" y1="517.3" x2="44.4" y2="519.3" stroke="#555" stroke-width="0.7"/>
<line x1="63.5" y1="517.3" x2="63.5" y2="519.3" stroke="#555" stroke-width="0.7"/>
<line x1="82.6" y1="517.3" x2="82.6" y2="519.3" stroke="#555" stroke-width="0.7"/>
<line x1="101.7" y1="517.3" x2="101.7" y2="519.3" stroke="#555" stroke-width="0.7"/>
<line x1="120.8" y1="517.3" x2="120.8" y2="519.3" stroke="#555" stroke-width="0.7"/>
<line x1="139.9" y1="517.3" x2="139.9" y2="519.3" stroke="#555" stroke-width="0.7"/>
<line x1="159" y1="517.3" x2="159" y2="519.3" stroke="#555" stroke-width="0.7"/>
<text x="61.2" y="528.2" font-size="9" text-anchor="middle" font-family='"Liberation Serif", serif' fill="#222" >-1</text>
<text x="101.7" y="528.2" font-size="9" text-anchor="middle" font-family='"Liberation Serif", serif' fill="#222" >0</text>
<text x="139.9" y="528.2" font-size="9" text-anchor="middle" font-family='"Liberation Serif", serif' fill="#222" >1</text>
<text x="101.3" y="539" font-size="9" text-anchor="middle" font-family='"Liberation Serif", serif' fill="#222" >Log2 fold change</text>
<text transform="translate(27.4,476) rotate(-90)" font-size="9.0" text-anchor="middle" font-family='"Liberation Serif", serif' fill="#222">-log10 adjusted P-value</text>
<circle cx="86.6" cy="415.2" r="1.0" fill="#4D4D4D"/>
<path d="M85.1 415.2h3" stroke="#4D4D4D" stroke-width="0.35"/>
<text transform="translate(88.8,416.35) scale(0.1)" font-size="32" font-family='"Liberation Sans", sans-serif' fill="#444" textLength="30" lengthAdjust="spacingAndGlyphs">NS</text>
<circle cx="94.6" cy="415.2" r="1.0" fill="#4169E1"/>
<path d="M93.1 415.2h3" stroke="#4169E1" stroke-width="0.35"/>
<text transform="translate(96.5,416.35) scale(0.1)" font-size="32" font-family='"Liberation Sans", sans-serif' fill="#444" textLength="19" lengthAdjust="spacingAndGlyphs">P</text>
<circle cx="100.9" cy="415.2" r="1.0" fill="#EE0000"/>
<path d="M99.4 415.2h3" stroke="#EE0000" stroke-width="0.35"/>
<text transform="translate(103,416.35) scale(0.1)" font-size="32" font-family='"Liberation Sans", sans-serif' fill="#444" textLength="159" lengthAdjust="spacingAndGlyphs">P &amp; Log2 FC</text>
<rect x="253.7" y="405.2" width="71.3" height="116.5" fill="#EBEBEB"/>
<line x1="265.4" y1="405.2" x2="265.4" y2="521.7" stroke="#F5F5F5" stroke-width="0.35"/>
<line x1="281.4" y1="405.2" x2="281.4" y2="521.7" stroke="#F5F5F5" stroke-width="0.35"/>
<line x1="297.4" y1="405.2" x2="297.4" y2="521.7" stroke="#F5F5F5" stroke-width="0.35"/>
<line x1="313.4" y1="405.2" x2="313.4" y2="521.7" stroke="#F5F5F5" stroke-width="0.35"/>
<line x1="257.4" y1="405.2" x2="257.4" y2="521.7" stroke="#FFF" stroke-width="0.7"/>
<line x1="273.4" y1="405.2" x2="273.4" y2="521.7" stroke="#FFF" stroke-width="0.7"/>
<line x1="289.4" y1="405.2" x2="289.4" y2="521.7" stroke="#FFF" stroke-width="0.7"/>
<line x1="305.4" y1="405.2" x2="305.4" y2="521.7" stroke="#FFF" stroke-width="0.7"/>
<line x1="321.4" y1="405.2" x2="321.4" y2="521.7" stroke="#FFF" stroke-width="0.7"/>
<line x1="253.7" y1="410.1" x2="325" y2="410.1" stroke="#FFF" stroke-width="0.7"/>
<line x1="253.7" y1="417.27" x2="325" y2="417.27" stroke="#FFF" stroke-width="0.7"/>
<line x1="253.7" y1="424.44" x2="325" y2="424.44" stroke="#FFF" stroke-width="0.7"/>
<line x1="253.7" y1="431.61" x2="325" y2="431.61" stroke="#FFF" stroke-width="0.7"/>
<line x1="253.7" y1="438.78" x2="325" y2="438.78" stroke="#FFF" stroke-width="0.7"/>
<line x1="253.7" y1="445.95" x2="325" y2="445.95" stroke="#FFF" stroke-width="0.7"/>
<line x1="253.7" y1="453.12" x2="325" y2="453.12" stroke="#FFF" stroke-width="0.7"/>
<line x1="253.7" y1="460.29" x2="325" y2="460.29" stroke="#FFF" stroke-width="0.7"/>
<line x1="253.7" y1="467.46" x2="325" y2="467.46" stroke="#FFF" stroke-width="0.7"/>
<line x1="253.7" y1="474.63" x2="325" y2="474.63" stroke="#FFF" stroke-width="0.7"/>
<line x1="253.7" y1="481.8" x2="325" y2="481.8" stroke="#FFF" stroke-width="0.7"/>
<line x1="253.7" y1="488.97" x2="325" y2="488.97" stroke="#FFF" stroke-width="0.7"/>
<line x1="253.7" y1="496.14" x2="325" y2="496.14" stroke="#FFF" stroke-width="0.7"/>
<line x1="253.7" y1="503.31" x2="325" y2="503.31" stroke="#FFF" stroke-width="0.7"/>
<line x1="253.7" y1="510.48" x2="325" y2="510.48" stroke="#FFF" stroke-width="0.7"/>
<line x1="253.7" y1="517.65" x2="325" y2="517.65" stroke="#FFF" stroke-width="0.7"/>
<rect x="289.4" y="406.87" width="15.8" height="6.45" fill="#6495ED"/>
<rect x="289.4" y="414.04" width="12.5" height="6.45" fill="#6495ED"/>
<rect x="289.4" y="421.21" width="8.5" height="6.45" fill="#6495ED"/>
<rect x="289.4" y="428.38" width="8.5" height="6.45" fill="#6495ED"/>
<rect x="289.4" y="435.55" width="7.7" height="6.45" fill="#6495ED"/>
<rect x="289.4" y="442.72" width="7.4" height="6.45" fill="#6495ED"/>
<rect x="277.1" y="449.89" width="12.3" height="6.45" fill="#6495ED"/>
<rect x="276.4" y="457.06" width="13" height="6.45" fill="#6495ED"/>
<rect x="275.8" y="464.23" width="13.6" height="6.45" fill="#6495ED"/>
<rect x="275.3" y="471.4" width="14.1" height="6.45" fill="#6495ED"/>
<rect x="274.7" y="478.57" width="14.7" height="6.45" fill="#6495ED"/>
<rect x="274.4" y="485.74" width="15" height="6.45" fill="#6495ED"/>
<rect x="274" y="492.91" width="15.4" height="6.45" fill="#6495ED"/>
<rect x="273.3" y="500.08" width="16.1" height="6.45" fill="#6495ED"/>
<rect x="272.9" y="507.25" width="16.5" height="6.45" fill="#6495ED"/>
<rect x="272" y="514.42" width="17.4" height="6.45" fill="#6495ED"/>
<polyline points="318.1,410.1 303.3,417.27 291.3,424.44 292.3,431.61 291.7,438.78 290.5,445.95 302.7,453.12 304.5,460.29 307.8,467.46 308.7,474.63 311.8,481.8 312.8,488.97 314.6,496.14 316.1,503.31 314.6,510.48 312.3,517.65" fill="none" stroke="#FF0000" stroke-width="0.75"/>
<circle cx="318.1" cy="410.1" r="1.15" fill="#FF0000"/>
<circle cx="303.3" cy="417.27" r="1.15" fill="#FF0000"/>
<circle cx="291.3" cy="424.44" r="1.15" fill="#FF0000"/>
<circle cx="292.3" cy="431.61" r="1.15" fill="#FF0000"/>
<circle cx="291.7" cy="438.78" r="1.15" fill="#FF0000"/>
<circle cx="290.5" cy="445.95" r="1.15" fill="#FF0000"/>
<circle cx="302.7" cy="453.12" r="1.15" fill="#FF0000"/>
<circle cx="304.5" cy="460.29" r="1.15" fill="#FF0000"/>
<circle cx="307.8" cy="467.46" r="1.15" fill="#FF0000"/>
<circle cx="308.7" cy="474.63" r="1.15" fill="#FF0000"/>
<circle cx="311.8" cy="481.8" r="1.15" fill="#FF0000"/>
<circle cx="312.8" cy="488.97" r="1.15" fill="#FF0000"/>
<circle cx="314.6" cy="496.14" r="1.15" fill="#FF0000"/>
<circle cx="316.1" cy="503.31" r="1.15" fill="#FF0000"/>
<circle cx="314.6" cy="510.48" r="1.15" fill="#FF0000"/>
<circle cx="312.3" cy="517.65" r="1.15" fill="#FF0000"/>
<text transform="translate(252.25,411.57) scale(0.1,0.12)" font-size="34" text-anchor="end" font-family='"Liberation Sans", sans-serif' fill="#4A4A4A" stroke="#4A4A4A" stroke-width="0">ESTROGEN_RESPONSE_EARLY</text>
<line x1="252.6" y1="410.1" x2="253.7" y2="410.1" stroke="#333" stroke-width="0.4"/>
<text transform="translate(252.25,418.74) scale(0.1,0.12)" font-size="34" text-anchor="end" font-family='"Liberation Sans", sans-serif' fill="#4A4A4A" stroke="#4A4A4A" stroke-width="0">ESTROGEN_RESPONSE_LATE</text>
<line x1="252.6" y1="417.27" x2="253.7" y2="417.27" stroke="#333" stroke-width="0.4"/>
<text transform="translate(252.25,425.91) scale(0.1,0.12)" font-size="34" text-anchor="end" font-family='"Liberation Sans", sans-serif' fill="#4A4A4A" stroke="#4A4A4A" stroke-width="0">INTERFERON_ALPHA_RESPONSE</text>
<line x1="252.6" y1="424.44" x2="253.7" y2="424.44" stroke="#333" stroke-width="0.4"/>
<text transform="translate(252.25,433.08) scale(0.1,0.12)" font-size="34" text-anchor="end" font-family='"Liberation Sans", sans-serif' fill="#4A4A4A" stroke="#4A4A4A" stroke-width="0">DNA_REPAIR</text>
<line x1="252.6" y1="431.61" x2="253.7" y2="431.61" stroke="#333" stroke-width="0.4"/>
<text transform="translate(252.25,440.25) scale(0.1,0.12)" font-size="34" text-anchor="end" font-family='"Liberation Sans", sans-serif' fill="#4A4A4A" stroke="#4A4A4A" stroke-width="0">UNFOLDED_PROTEIN_RESPONSE</text>
<line x1="252.6" y1="438.78" x2="253.7" y2="438.78" stroke="#333" stroke-width="0.4"/>
<text transform="translate(252.25,447.42) scale(0.1,0.12)" font-size="34" text-anchor="end" font-family='"Liberation Sans", sans-serif' fill="#4A4A4A" stroke="#4A4A4A" stroke-width="0">MYOGENESIS</text>
<line x1="252.6" y1="445.95" x2="253.7" y2="445.95" stroke="#333" stroke-width="0.4"/>
<text transform="translate(252.25,454.59) scale(0.1,0.12)" font-size="34" text-anchor="end" font-family='"Liberation Sans", sans-serif' fill="#4A4A4A" stroke="#4A4A4A" stroke-width="0">COMPLEMENT</text>
<line x1="252.6" y1="453.12" x2="253.7" y2="453.12" stroke="#333" stroke-width="0.4"/>
<text transform="translate(252.25,461.76) scale(0.1,0.12)" font-size="34" text-anchor="end" font-family='"Liberation Sans", sans-serif' fill="#4A4A4A" stroke="#4A4A4A" stroke-width="0">MTORC1_SIGNALING</text>
<line x1="252.6" y1="460.29" x2="253.7" y2="460.29" stroke="#333" stroke-width="0.4"/>
<text transform="translate(252.25,468.93) scale(0.1,0.12)" font-size="34" text-anchor="end" font-family='"Liberation Sans", sans-serif' fill="#4A4A4A" stroke="#4A4A4A" stroke-width="0">IL2_STAT5_SIGNALING</text>
<line x1="252.6" y1="467.46" x2="253.7" y2="467.46" stroke="#333" stroke-width="0.4"/>
<text transform="translate(252.25,476.1) scale(0.1,0.12)" font-size="34" text-anchor="end" font-family='"Liberation Sans", sans-serif' fill="#4A4A4A" stroke="#4A4A4A" stroke-width="0">INFLAMMATORY_RESPONSE</text>
<line x1="252.6" y1="474.63" x2="253.7" y2="474.63" stroke="#333" stroke-width="0.4"/>
<text transform="translate(252.25,483.27) scale(0.1,0.12)" font-size="34" text-anchor="end" font-family='"Liberation Sans", sans-serif' fill="#4A4A4A" stroke="#4A4A4A" stroke-width="0">KRAS_SIGNALING_UP</text>
<line x1="252.6" y1="481.8" x2="253.7" y2="481.8" stroke="#333" stroke-width="0.4"/>
<text transform="translate(252.25,490.44) scale(0.1,0.12)" font-size="34" text-anchor="end" font-family='"Liberation Sans", sans-serif' fill="#4A4A4A" stroke="#4A4A4A" stroke-width="0">OXIDATIVE_PHOSPHORYLATION</text>
<line x1="252.6" y1="488.97" x2="253.7" y2="488.97" stroke="#333" stroke-width="0.4"/>
<text transform="translate(252.25,497.61) scale(0.1,0.12)" font-size="34" text-anchor="end" font-family='"Liberation Sans", sans-serif' fill="#4A4A4A" stroke="#4A4A4A" stroke-width="0">IL6_JAK_STAT3_SIGNALING</text>
<line x1="252.6" y1="496.14" x2="253.7" y2="496.14" stroke="#333" stroke-width="0.4"/>
<text transform="translate(252.25,504.78) scale(0.1,0.12)" font-size="34" text-anchor="end" font-family='"Liberation Sans", sans-serif' fill="#4A4A4A" stroke="#4A4A4A" stroke-width="0">ALLOGRAFT_REJECTION</text>
<line x1="252.6" y1="503.31" x2="253.7" y2="503.31" stroke="#333" stroke-width="0.4"/>
<text transform="translate(252.25,511.95) scale(0.1,0.12)" font-size="34" text-anchor="end" font-family='"Liberation Sans", sans-serif' fill="#4A4A4A" stroke="#4A4A4A" stroke-width="0">TNFA_SIGNALING_VIA_NFKB</text>
<line x1="252.6" y1="510.48" x2="253.7" y2="510.48" stroke="#333" stroke-width="0.4"/>
<text transform="translate(252.25,519.12) scale(0.1,0.12)" font-size="34" text-anchor="end" font-family='"Liberation Sans", sans-serif' fill="#4A4A4A" stroke="#4A4A4A" stroke-width="0">MYC_TARGETS_V1</text>
<line x1="252.6" y1="517.65" x2="253.7" y2="517.65" stroke="#333" stroke-width="0.4"/>
<text x="256.5" y="403.2" font-size="7.3" text-anchor="middle" font-family='"Liberation Serif", serif' fill="#222" >-4</text>
<text x="256.5" y="531.2" font-size="7.3" text-anchor="middle" font-family='"Liberation Serif", serif' fill="#222" >-4</text>
<line x1="257.4" y1="403.9" x2="257.4" y2="405.2" stroke="#333" stroke-width="0.4"/>
<line x1="257.4" y1="521.7" x2="257.4" y2="523" stroke="#333" stroke-width="0.4"/>
<text x="272.5" y="403.2" font-size="7.3" text-anchor="middle" font-family='"Liberation Serif", serif' fill="#222" >-2</text>
<text x="272.5" y="531.2" font-size="7.3" text-anchor="middle" font-family='"Liberation Serif", serif' fill="#222" >-2</text>
<line x1="273.4" y1="403.9" x2="273.4" y2="405.2" stroke="#333" stroke-width="0.4"/>
<line x1="273.4" y1="521.7" x2="273.4" y2="523" stroke="#333" stroke-width="0.4"/>
<text x="289.4" y="403.2" font-size="7.3" text-anchor="middle" font-family='"Liberation Serif", serif' fill="#222" >0</text>
<text x="289.4" y="531.2" font-size="7.3" text-anchor="middle" font-family='"Liberation Serif", serif' fill="#222" >0</text>
<line x1="289.4" y1="403.9" x2="289.4" y2="405.2" stroke="#333" stroke-width="0.4"/>
<line x1="289.4" y1="521.7" x2="289.4" y2="523" stroke="#333" stroke-width="0.4"/>
<text x="305.4" y="403.2" font-size="7.3" text-anchor="middle" font-family='"Liberation Serif", serif' fill="#222" >2</text>
<text x="305.4" y="531.2" font-size="7.3" text-anchor="middle" font-family='"Liberation Serif", serif' fill="#222" >2</text>
<line x1="305.4" y1="403.9" x2="305.4" y2="405.2" stroke="#333" stroke-width="0.4"/>
<line x1="305.4" y1="521.7" x2="305.4" y2="523" stroke="#333" stroke-width="0.4"/>
<text x="321.4" y="403.2" font-size="7.3" text-anchor="middle" font-family='"Liberation Serif", serif' fill="#222" >4</text>
<text x="321.4" y="531.2" font-size="7.3" text-anchor="middle" font-family='"Liberation Serif", serif' fill="#222" >4</text>
<line x1="321.4" y1="403.9" x2="321.4" y2="405.2" stroke="#333" stroke-width="0.4"/>
<line x1="321.4" y1="521.7" x2="321.4" y2="523" stroke="#333" stroke-width="0.4"/>
<text x="289" y="391.2" font-size="7.5" text-anchor="middle" font-family='"Liberation Serif", serif' fill="#111" >NES</text>
<text x="289.5" y="540.3" font-size="7.6" text-anchor="middle" font-family='"Liberation Serif", serif' fill="#111" >-log10 FDR q-value</text>
<text x="353.6" y="10.5" font-size="15.4" text-anchor="start" font-family='"Liberation Serif", serif' fill="#111" >D</text>
<line x1="408.93" y1="59.5" x2="408.93" y2="148.9" stroke="#F3F3F3" stroke-width="0.4"/>
<line x1="427.88" y1="59.5" x2="427.88" y2="148.9" stroke="#F3F3F3" stroke-width="0.4"/>
<line x1="446.82" y1="59.5" x2="446.82" y2="148.9" stroke="#F3F3F3" stroke-width="0.4"/>
<line x1="465.78" y1="59.5" x2="465.78" y2="148.9" stroke="#F3F3F3" stroke-width="0.4"/>
<line x1="484.73" y1="59.5" x2="484.73" y2="148.9" stroke="#F3F3F3" stroke-width="0.4"/>
<line x1="503.68" y1="59.5" x2="503.68" y2="148.9" stroke="#F3F3F3" stroke-width="0.4"/>
<line x1="398.1" y1="133.3" x2="514.2" y2="133.3" stroke="#F3F3F3" stroke-width="0.4"/>
<line x1="398.1" y1="110.29" x2="514.2" y2="110.29" stroke="#F3F3F3" stroke-width="0.4"/>
<line x1="398.1" y1="87.28" x2="514.2" y2="87.28" stroke="#F3F3F3" stroke-width="0.4"/>
<line x1="398.1" y1="64.27" x2="514.2" y2="64.27" stroke="#F3F3F3" stroke-width="0.4"/>
<line x1="399.45" y1="59.5" x2="399.45" y2="148.9" stroke="#E8E8E8" stroke-width="0.6"/>
<line x1="418.4" y1="59.5" x2="418.4" y2="148.9" stroke="#E8E8E8" stroke-width="0.6"/>
<line x1="437.35" y1="59.5" x2="437.35" y2="148.9" stroke="#E8E8E8" stroke-width="0.6"/>
<line x1="456.3" y1="59.5" x2="456.3" y2="148.9" stroke="#E8E8E8" stroke-width="0.6"/>
<line x1="475.25" y1="59.5" x2="475.25" y2="148.9" stroke="#E8E8E8" stroke-width="0.6"/>
<line x1="494.2" y1="59.5" x2="494.2" y2="148.9" stroke="#E8E8E8" stroke-width="0.6"/>
<line x1="513.15" y1="59.5" x2="513.15" y2="148.9" stroke="#E8E8E8" stroke-width="0.6"/>
<line x1="398.1" y1="144.8" x2="514.2" y2="144.8" stroke="#E8E8E8" stroke-width="0.6"/>
<line x1="398.1" y1="121.79" x2="514.2" y2="121.79" stroke="#E8E8E8" stroke-width="0.6"/>
<line x1="398.1" y1="98.78" x2="514.2" y2="98.78" stroke="#E8E8E8" stroke-width="0.6"/>
<line x1="398.1" y1="75.77" x2="514.2" y2="75.77" stroke="#E8E8E8" stroke-width="0.6"/>
<path transform="scale(0.5)" d="M868 275h0M868 277h0M869 278h0M870 271h0M870 272h0M870 273h0M870 275h0M871 270h0M871 274h0M871 279h0M872 270h0M872 271h0M872 272h0M872 274h0M873 271h0M873 273h0M874 272h0M875 274h0M875 275h0M875 278h0M876 270h0M876 275h0M876 278h0M876 279h0M877 273h0M877 280h0M878 270h0M878 272h0M878 274h0M878 277h0M878 280h0M879 271h0M879 273h0M879 275h0M879 276h0M880 270h0M880 271h0M880 275h0M880 276h0M880 278h0M880 281h0M881 274h0M881 277h0M881 278h0M881 279h0M882 273h0M882 276h0M882 279h0M883 274h0M883 277h0M883 280h0M883 281h0M884 273h0M884 274h0M884 276h0M884 279h0M884 280h0M884 281h0M884 282h0M884 283h0M885 276h0M885 279h0M885 280h0M885 282h0M885 283h0M885 284h0M886 273h0M886 279h0M886 281h0M887 278h0M887 280h0M887 281h0M887 282h0M889 276h0M889 277h0M889 279h0M889 280h0M891 282h0M891 283h0M892 285h0M893 276h0M893 280h0M893 283h0M893 284h0M894 279h0M894 281h0M894 284h0M895 279h0M895 281h0M895 283h0M895 286h0M896 281h0M896 285h0M897 278h0M897 286h0M898 286h0M901 286h0M902 286h0M902 287h0M902 288h0M902 289h0M904 285h0M904 288h0M909 275h0M909 286h0M911 282h0M912 287h0M913 287h0M916 289h0M917 272h0M919 289h0M920 289h0M921 287h0M922 282h0M922 286h0M922 289h0M923 287h0M924 280h0M924 285h0M925 288h0M926 281h0M926 283h0M926 285h0M928 285h0M928 288h0M929 283h0M930 276h0M930 283h0M930 285h0M931 276h0M931 282h0M931 287h0M932 284h0M932 285h0M933 277h0M933 279h0M933 282h0M933 283h0M934 280h0M934 285h0M935 279h0M935 287h0M936 274h0M936 280h0M936 284h0M936 285h0M937 284h0M938 277h0M938 278h0M939 273h0M939 278h0M939 279h0M939 282h0M940 271h0M940 274h0M940 276h0M940 280h0M941 273h0M941 279h0M942 270h0M942 272h0M942 282h0M943 271h0M943 274h0M943 276h0M943 278h0M944 271h0M944 272h0M944 274h0M944 275h0M944 276h0M944 278h0M945 273h0M945 276h0M945 277h0M945 278h0M945 281h0M946 271h0M946 273h0M946 274h0M946 278h0M946 281h0M947 274h0M947 275h0M948 274h0M948 276h0M948 280h0M949 271h0M949 277h0M949 279h0M950 270h0M950 274h0M950 278h0M951 272h0M951 273h0M952 276h0M952 280h0M953 270h0M953 271h0M954 270h0M954 272h0M955 270h0M955 273h0M955 275h0M956 272h0M956 273h0M956 281h0M957 270h0" stroke="#4D4D4D" stroke-opacity="0.5" stroke-width="2.0" stroke-linecap="round" fill="none"/>
<path transform="scale(0.5)" d="M868 272h0M869 271h0M871 271h0M872 273h0M875 270h0M875 271h0M875 272h0M875 273h0M876 271h0M876 272h0M877 276h0M878 271h0M879 270h0M879 272h0M879 277h0M880 272h0M880 273h0M880 274h0M880 279h0M882 271h0M882 275h0M883 270h0M883 276h0M884 277h0M885 274h0M885 277h0M886 276h0M886 277h0M886 278h0M887 270h0M887 274h0M887 276h0M887 283h0M888 275h0M888 279h0M888 280h0M888 281h0M889 270h0M889 271h0M889 273h0M889 275h0M889 278h0M889 282h0M890 270h0M890 280h0M890 282h0M891 270h0M891 271h0M891 276h0M891 279h0M891 280h0M892 272h0M892 278h0M892 281h0M892 282h0M892 283h0M892 284h0M893 279h0M893 281h0M893 282h0M894 270h0M894 275h0M894 278h0M894 280h0M894 282h0M894 285h0M895 282h0M896 270h0M897 272h0M897 281h0M897 284h0M898 284h0M899 274h0M900 286h0M901 285h0M901 288h0M903 286h0M905 288h0M907 283h0M908 271h0M908 283h0M908 284h0M908 288h0M908 289h0M909 277h0M910 279h0M910 286h0M911 287h0M912 286h0M913 288h0M913 289h0M914 284h0M916 276h0M916 286h0M916 288h0M918 274h0M918 288h0M919 283h0M920 282h0M920 288h0M921 288h0M922 270h0M922 288h0M923 283h0M923 288h0M924 282h0M924 283h0M924 287h0M925 282h0M925 284h0M926 279h0M927 276h0M927 282h0M927 283h0M927 285h0M928 277h0M928 278h0M928 282h0M928 283h0M929 270h0M929 282h0M929 285h0M930 277h0M930 279h0M931 270h0M931 280h0M932 276h0M933 273h0M933 280h0M933 281h0M934 274h0M934 276h0M934 281h0M934 282h0M934 283h0M935 280h0M936 273h0M936 275h0M936 278h0M937 274h0M937 282h0M938 275h0M938 283h0M939 271h0M939 272h0M939 274h0M939 277h0M939 280h0M940 270h0M940 277h0M940 278h0M940 279h0M941 272h0M942 271h0M942 279h0M943 272h0M943 273h0M943 275h0M943 277h0M943 280h0M944 270h0M944 273h0M944 277h0M945 275h0M946 270h0M946 276h0M947 271h0M947 273h0M948 271h0M948 272h0M948 277h0M949 275h0M951 270h0M951 271h0M952 273h0M952 277h0M956 270h0" stroke="#4D4D4D" stroke-opacity="0.75" stroke-width="2.0" stroke-linecap="round" fill="none"/>
<path transform="scale(0.5)" d="M873 270h0M877 270h0M878 273h0M881 270h0M881 271h0M881 272h0M882 270h0M882 272h0M882 274h0M883 271h0M883 273h0M883 275h0M884 271h0M884 275h0M884 278h0M885 270h0M885 271h0M885 273h0M885 275h0M885 278h0M886 270h0M886 271h0M886 272h0M886 274h0M886 275h0M887 271h0M887 273h0M888 270h0M888 271h0M888 272h0M888 273h0M888 274h0M888 277h0M888 278h0M889 272h0M889 274h0M890 271h0M890 272h0M890 273h0M890 274h0M890 275h0M890 276h0M890 277h0M890 278h0M890 279h0M891 272h0M891 273h0M891 274h0M891 275h0M891 277h0M891 278h0M891 281h0M892 270h0M892 271h0M892 273h0M892 274h0M892 275h0M892 276h0M892 277h0M892 279h0M893 270h0M893 271h0M893 272h0M893 273h0M893 274h0M893 275h0M893 277h0M893 278h0M894 271h0M894 272h0M894 273h0M894 274h0M894 277h0M894 283h0M895 270h0M895 271h0M895 272h0M895 273h0M895 274h0M895 275h0M895 276h0M895 277h0M895 278h0M895 280h0M895 284h0M896 271h0M896 272h0M896 273h0M896 274h0M896 275h0M896 276h0M896 278h0M896 279h0M896 280h0M896 282h0M896 283h0M896 284h0M897 270h0M897 271h0M897 273h0M897 274h0M897 275h0M897 276h0M897 277h0M897 279h0M897 280h0M897 282h0M897 283h0M898 270h0M898 271h0M898 272h0M898 273h0M898 274h0M898 275h0M898 276h0M898 277h0M898 278h0M898 279h0M898 280h0M898 281h0M898 282h0M898 283h0M898 285h0M899 270h0M899 271h0M899 272h0M899 273h0M899 275h0M899 276h0M899 277h0M899 278h0M899 279h0M899 280h0M899 281h0M899 282h0M899 283h0M899 284h0M900 270h0M900 271h0M900 272h0M900 273h0M900 274h0M900 275h0M900 276h0M900 277h0M900 278h0M900 279h0M900 280h0M900 281h0M900 282h0M900 283h0M900 284h0M900 285h0M901 270h0M901 271h0M901 272h0M901 273h0M901 274h0M901 275h0M901 276h0M901 277h0M901 278h0M901 279h0M901 280h0M901 281h0M901 282h0M901 283h0M901 284h0M902 270h0M902 271h0M902 272h0M902 273h0M902 274h0M902 275h0M902 276h0M902 277h0M902 278h0M902 279h0M902 280h0M902 282h0M902 283h0M902 284h0M902 285h0M903 270h0M903 271h0M903 272h0M903 273h0M903 274h0M903 275h0M903 276h0M903 277h0M903 278h0M903 279h0M903 280h0M903 281h0M903 282h0M903 283h0M903 284h0M903 285h0M904 270h0M904 271h0M904 272h0M904 273h0M904 274h0M904 275h0M904 276h0M904 277h0M904 278h0M904 279h0M904 280h0M904 281h0M904 282h0M904 283h0M904 284h0M904 286h0M905 270h0M905 271h0M905 272h0M905 273h0M905 274h0M905 275h0M905 276h0M905 277h0M905 278h0M905 279h0M905 280h0M905 281h0M905 282h0M905 283h0M905 284h0M905 285h0M905 286h0M905 287h0M906 270h0M906 271h0M906 272h0M906 273h0M906 274h0M906 275h0M906 276h0M906 277h0M906 278h0M906 279h0M906 280h0M906 281h0M906 282h0M906 283h0M906 284h0M906 285h0M906 286h0M906 287h0M907 270h0M907 271h0M907 272h0M907 273h0M907 274h0M907 275h0M907 276h0M907 277h0M907 278h0M907 279h0M907 280h0M907 281h0M907 282h0M907 284h0M907 285h0M907 286h0M907 287h0M907 288h0M908 272h0M908 273h0M908 274h0M908 275h0M908 276h0M908 277h0M908 278h0M908 279h0M908 280h0M908 281h0M908 282h0M908 285h0M908 286h0M908 287h0M909 276h0M909 278h0M909 279h0M909 280h0M909 281h0M909 282h0M909 283h0M909 284h0M909 285h0M909 287h0M910 280h0M910 281h0M910 282h0M910 283h0M910 284h0M910 285h0M910 287h0M910 288h0M910 289h0M911 284h0M911 285h0M911 286h0M911 288h0M911 289h0M912 288h0M912 289h0M914 285h0M914 286h0M914 287h0M914 288h0M915 280h0M915 281h0M915 282h0M915 283h0M915 284h0M915 285h0M915 286h0M915 287h0M915 288h0M915 289h0M916 277h0M916 278h0M916 279h0M916 280h0M916 281h0M916 282h0M916 283h0M916 284h0M916 285h0M916 287h0M917 273h0M917 274h0M917 275h0M917 276h0M917 277h0M917 278h0M917 279h0M917 280h0M917 281h0M917 282h0M917 283h0M917 284h0M917 285h0M917 286h0M917 287h0M917 288h0M917 289h0M918 270h0M918 271h0M918 272h0M918 273h0M918 275h0M918 276h0M918 277h0M918 278h0M918 279h0M918 280h0M918 281h0M918 282h0M918 283h0M918 284h0M918 285h0M918 286h0M918 287h0M919 270h0M919 271h0M919 272h0M919 273h0M919 274h0M919 275h0M919 276h0M919 277h0M919 278h0M919 279h0M919 280h0M919 281h0M919 282h0M919 284h0M919 285h0M919 286h0M919 287h0M919 288h0M920 270h0M920 271h0M920 272h0M920 273h0M920 274h0M920 275h0M920 276h0M920 277h0M920 278h0M920 279h0M920 280h0M920 281h0M920 283h0M920 284h0M920 285h0M920 286h0M921 270h0M921 271h0M921 272h0M921 273h0M921 274h0M921 275h0M921 276h0M921 277h0M921 278h0M921 279h0M921 280h0M921 281h0M921 282h0M921 283h0M921 284h0M921 286h0M922 271h0M922 272h0M922 273h0M922 274h0M922 275h0M922 276h0M922 277h0M922 278h0M922 279h0M922 280h0M922 281h0M922 283h0M922 284h0M922 287h0M923 270h0M923 271h0M923 272h0M923 273h0M923 274h0M923 275h0M923 276h0M923 277h0M923 278h0M923 279h0M923 280h0M923 281h0M923 282h0M923 284h0M923 285h0M924 270h0M924 271h0M924 272h0M924 273h0M924 274h0M924 275h0M924 276h0M924 277h0M924 278h0M924 279h0M924 281h0M924 284h0M925 270h0M925 271h0M925 272h0M925 273h0M925 274h0M925 275h0M925 276h0M925 277h0M925 278h0M925 279h0M925 280h0M925 281h0M925 283h0M925 285h0M925 286h0M926 270h0M926 271h0M926 272h0M926 273h0M926 274h0M926 275h0M926 276h0M926 277h0M926 278h0M926 280h0M926 282h0M926 284h0M926 287h0M927 270h0M927 271h0M927 272h0M927 273h0M927 274h0M927 275h0M927 278h0M927 279h0M927 280h0M927 281h0M927 284h0M927 286h0M928 270h0M928 271h0M928 272h0M928 273h0M928 274h0M928 275h0M928 276h0M928 279h0M928 280h0M928 281h0M928 286h0M929 271h0M929 272h0M929 273h0M929 274h0M929 275h0M929 276h0M929 277h0M929 278h0M929 279h0M929 280h0M929 284h0M930 270h0M930 271h0M930 272h0M930 273h0M930 274h0M930 275h0M930 278h0M930 280h0M930 281h0M930 282h0M931 271h0M931 272h0M931 273h0M931 274h0M931 275h0M931 277h0M931 278h0M931 279h0M931 281h0M931 283h0M931 285h0M932 270h0M932 271h0M932 272h0M932 273h0M932 274h0M932 275h0M932 277h0M932 278h0M932 280h0M932 281h0M933 270h0M933 271h0M933 272h0M933 274h0M933 275h0M933 278h0M933 284h0M934 271h0M934 272h0M934 273h0M934 275h0M934 277h0M934 278h0M934 279h0M934 284h0M935 270h0M935 271h0M935 272h0M935 273h0M935 274h0M935 275h0M935 276h0M935 277h0M935 278h0M936 270h0M936 271h0M936 272h0M936 276h0M936 277h0M937 270h0M937 271h0M937 272h0M937 273h0M937 275h0M937 276h0M937 277h0M937 279h0M938 270h0M938 271h0M938 272h0M938 273h0M938 274h0M938 276h0M938 282h0M939 270h0M939 276h0M940 272h0M940 273h0M940 275h0M941 270h0M941 271h0M941 274h0M941 275h0M941 277h0M942 273h0M942 274h0M942 276h0M943 270h0M945 270h0M945 272h0M945 274h0M946 272h0M946 279h0M947 270h0M948 273h0M950 271h0M952 271h0" stroke="#4D4D4D" stroke-opacity="1.0" stroke-width="2.0" stroke-linecap="round" fill="none"/>
<path transform="scale(0.5)" d="M855 274h0M860 273h0M861 270h0M862 275h0M863 273h0M864 271h0M864 273h0M864 275h0M865 270h0M865 271h0M865 272h0M866 270h0M866 275h0M867 270h0M867 271h0M867 273h0M868 270h0M957 271h0M957 273h0M958 271h0M958 280h0M959 270h0M959 271h0M960 270h0M961 272h0M962 271h0M970 270h0" stroke="#228B22" stroke-opacity="0.5" stroke-width="2.0" stroke-linecap="round" fill="none"/>
<path transform="scale(0.5)" d="M868 275h0" stroke="#228B22" stroke-opacity="0.75" stroke-width="2.0" stroke-linecap="round" fill="none"/>
<path transform="scale(0.5)" d="M874 269h0M878 263h0M879 268h0M880 252h0M880 265h0M880 268h0M881 262h0M881 264h0M882 268h0M883 264h0M883 267h0M883 268h0M883 269h0M884 255h0M884 262h0M884 263h0M884 264h0M884 265h0M884 266h0M884 270h0M885 261h0M885 262h0M885 266h0M885 267h0M885 268h0M886 235h0M886 239h0M886 248h0M886 249h0M886 250h0M886 255h0M886 259h0M886 260h0M886 265h0M887 260h0M887 265h0M887 266h0M887 269h0M888 258h0M888 259h0M888 263h0M888 268h0M889 245h0M889 260h0M889 263h0M890 250h0M890 253h0M890 255h0M890 265h0M890 269h0M891 263h0M891 267h0M891 269h0M892 243h0M892 264h0M892 267h0M892 269h0M893 251h0M893 261h0M893 262h0M893 263h0M893 264h0M893 265h0M893 267h0M893 269h0M894 242h0M894 257h0M894 258h0M894 263h0M894 267h0M894 268h0M895 261h0M895 264h0M895 268h0M895 269h0M896 254h0M896 257h0M896 260h0M896 261h0M896 265h0M897 255h0M897 261h0M897 262h0M897 264h0M897 267h0M897 269h0M898 249h0M898 258h0M898 260h0M898 261h0M898 266h0M899 240h0M899 253h0M899 256h0M899 257h0M899 258h0M899 265h0M899 268h0M900 242h0M900 250h0M900 259h0M900 265h0M900 266h0M900 268h0M900 269h0M901 259h0M901 263h0M901 265h0M901 268h0M901 269h0M902 246h0M902 255h0M902 265h0M902 266h0M902 269h0M903 252h0M903 257h0M903 261h0M903 262h0M903 264h0M903 265h0M903 269h0M904 244h0M904 252h0M904 253h0M904 264h0M904 265h0M904 268h0M905 253h0M905 260h0M905 266h0M905 267h0M905 269h0M906 254h0M906 258h0M906 261h0M906 266h0M907 250h0M907 255h0M907 260h0M907 266h0M907 268h0M908 260h0M908 262h0M909 264h0M909 267h0M917 266h0M917 267h0M917 268h0M918 257h0M918 264h0M918 266h0M918 268h0M918 269h0M919 244h0M919 251h0M919 263h0M919 264h0M919 267h0M919 268h0M919 269h0M920 257h0M920 261h0M920 265h0M920 266h0M920 268h0M921 231h0M921 235h0M921 248h0M921 249h0M921 257h0M921 261h0M921 263h0M921 264h0M921 265h0M921 266h0M921 267h0M921 268h0M922 234h0M922 252h0M922 253h0M922 254h0M922 257h0M922 259h0M922 267h0M923 238h0M923 247h0M923 255h0M923 256h0M923 257h0M923 261h0M923 263h0M924 231h0M924 232h0M924 234h0M924 257h0M924 259h0M924 260h0M924 261h0M924 267h0M924 268h0M925 210h0M925 218h0M925 240h0M925 242h0M925 247h0M925 248h0M925 258h0M925 262h0M925 265h0M925 268h0M926 235h0M926 238h0M926 243h0M926 249h0M926 257h0M926 258h0M926 259h0M926 261h0M926 263h0M926 268h0M927 233h0M927 243h0M927 255h0M927 256h0M927 257h0M927 259h0M927 261h0M927 266h0M927 267h0M927 269h0M928 239h0M928 245h0M928 249h0M928 250h0M928 252h0M928 254h0M928 255h0M928 257h0M928 258h0M928 259h0M928 260h0M928 261h0M928 268h0M929 242h0M929 247h0M929 262h0M929 264h0M929 269h0M930 227h0M930 232h0M930 259h0M930 260h0M930 261h0M930 263h0M930 264h0M930 268h0M930 269h0M931 256h0M931 257h0M931 258h0M931 259h0M931 262h0M931 266h0M931 267h0M931 268h0M932 226h0M932 240h0M932 257h0M932 260h0M932 261h0M932 262h0M932 263h0M933 243h0M933 249h0M933 254h0M933 259h0M933 261h0M933 265h0M933 267h0M933 268h0M933 269h0M934 240h0M934 247h0M934 264h0M934 268h0M935 261h0M935 263h0M935 265h0M935 268h0M936 218h0M936 234h0M936 248h0M936 257h0M936 260h0M936 261h0M936 264h0M936 265h0M937 237h0M937 243h0M937 246h0M937 260h0M937 261h0M937 263h0M937 264h0M937 267h0M938 234h0M938 264h0M938 266h0M939 234h0M939 235h0M939 254h0M939 260h0M939 264h0M940 235h0M940 241h0M940 254h0M940 257h0M940 268h0M941 253h0M941 256h0M941 262h0M942 253h0M942 261h0M942 264h0M942 267h0M942 269h0M943 244h0M943 254h0M943 263h0M943 267h0M943 269h0M944 258h0M944 260h0M944 261h0M944 263h0M944 264h0M944 269h0M945 259h0M945 260h0M945 262h0M945 264h0M946 256h0M946 258h0M946 262h0M946 267h0M947 244h0M947 261h0M947 262h0M947 265h0M948 261h0M948 264h0M948 265h0M948 269h0M949 268h0M950 259h0M950 262h0M952 268h0M953 268h0" stroke="#4169E1" stroke-opacity="0.5" stroke-width="2.0" stroke-linecap="round" fill="none"/>
<path transform="scale(0.5)" d="M875 269h0M880 269h0M884 268h0M885 259h0M886 263h0M887 263h0M887 264h0M887 268h0M888 255h0M889 265h0M889 267h0M889 269h0M890 263h0M890 264h0M890 267h0M890 268h0M892 268h0M894 262h0M894 265h0M895 267h0M896 247h0M896 266h0M896 269h0M897 258h0M898 265h0M898 269h0M899 264h0M899 266h0M899 267h0M901 264h0M902 262h0M902 267h0M903 263h0M904 267h0M905 261h0M905 262h0M906 262h0M906 264h0M906 265h0M907 263h0M908 263h0M908 264h0M908 267h0M909 269h0M918 265h0M918 267h0M919 265h0M919 266h0M920 263h0M920 267h0M920 269h0M921 269h0M922 258h0M922 260h0M922 262h0M922 263h0M922 269h0M923 258h0M923 260h0M923 264h0M923 267h0M924 251h0M924 263h0M924 266h0M924 269h0M925 261h0M925 267h0M925 269h0M926 264h0M926 267h0M927 253h0M927 263h0M927 268h0M928 269h0M930 249h0M930 254h0M930 266h0M931 248h0M932 265h0M933 258h0M933 263h0M933 266h0M934 262h0M934 266h0M934 267h0M935 256h0M935 269h0M936 253h0M936 259h0M937 252h0M937 265h0M937 269h0M938 261h0M939 268h0M940 269h0M941 268h0M942 265h0M945 256h0M945 267h0M947 266h0M949 264h0" stroke="#4169E1" stroke-opacity="0.75" stroke-width="2.0" stroke-linecap="round" fill="none"/>
<path transform="scale(0.5)" d="M882 264h0M886 267h0M889 264h0M889 266h0M890 266h0M893 268h0M895 266h0M897 260h0M897 268h0M898 264h0M902 268h0M905 265h0M906 268h0M908 269h0M917 269h0M921 259h0M922 266h0M923 266h0M923 269h0M925 259h0M925 263h0M926 269h0M929 266h0M931 269h0M933 264h0M936 269h0M937 268h0M938 256h0M939 266h0M940 266h0" stroke="#4169E1" stroke-opacity="1.0" stroke-width="2.0" stroke-linecap="round" fill="none"/>
<circle cx="425.3" cy="140.1" r="0.6" fill="#228B22" fill-opacity="0.6"/>
<circle cx="432.2" cy="140.8" r="0.6" fill="#228B22" fill-opacity="0.6"/>
<circle cx="480.7" cy="138.7" r="0.6" fill="#228B22" fill-opacity="0.6"/>
<circle cx="486.3" cy="140.1" r="0.6" fill="#228B22" fill-opacity="0.6"/>
<circle cx="492.5" cy="136.6" r="0.6" fill="#228B22" fill-opacity="0.6"/>
<circle cx="493.9" cy="137.3" r="0.6" fill="#228B22" fill-opacity="0.6"/>
<circle cx="429" cy="143" r="0.6" fill="#228B22" fill-opacity="0.6"/>
<circle cx="486" cy="116.9" r="0.65" fill="#EE0000" fill-opacity="0.6"/>
<circle cx="482" cy="124" r="0.65" fill="#EE0000" fill-opacity="0.6"/>
<circle cx="493.9" cy="128.3" r="0.65" fill="#EE0000" fill-opacity="0.6"/>
<circle cx="429.4" cy="128.3" r="0.65" fill="#EE0000" fill-opacity="0.6"/>
<circle cx="426.6" cy="133.8" r="0.65" fill="#EE0000" fill-opacity="0.6"/>
<circle cx="479" cy="127" r="0.65" fill="#EE0000" fill-opacity="0.6"/>
<circle cx="480" cy="134" r="0.65" fill="#EE0000" fill-opacity="0.6"/>
<circle cx="433" cy="131" r="0.65" fill="#EE0000" fill-opacity="0.6"/>
<text transform="translate(486.3,119.7) scale(0.1)" font-size="26" text-anchor="middle" font-family='"Liberation Sans", sans-serif' fill="#333" textLength="90" lengthAdjust="spacingAndGlyphs">OMP0O</text>
<text transform="translate(482.4,127) scale(0.1)" font-size="26" text-anchor="middle" font-family='"Liberation Sans", sans-serif' fill="#333" textLength="50" lengthAdjust="spacingAndGlyphs">M86</text>
<text transform="translate(480.7,129.8) scale(0.1)" font-size="26" text-anchor="middle" font-family='"Liberation Sans", sans-serif' fill="#333" textLength="40" lengthAdjust="spacingAndGlyphs">XB</text>
<text transform="translate(493.9,130.8) scale(0.1)" font-size="26" text-anchor="middle" font-family='"Liberation Sans", sans-serif' fill="#333" textLength="95" lengthAdjust="spacingAndGlyphs">BS5RMX</text>
<text transform="translate(480.7,132.6) scale(0.1)" font-size="26" text-anchor="middle" font-family='"Liberation Sans", sans-serif' fill="#333" textLength="40" lengthAdjust="spacingAndGlyphs">3X</text>
<text transform="translate(477.5,137) scale(0.1)" font-size="26" text-anchor="middle" font-family='"Liberation Sans", sans-serif' fill="#333" textLength="50" lengthAdjust="spacingAndGlyphs">YFO</text>
<text transform="translate(423.2,129.4) scale(0.1)" font-size="26" text-anchor="middle" font-family='"Liberation Sans", sans-serif' fill="#333" textLength="70" lengthAdjust="spacingAndGlyphs">GO5M</text>
<text transform="translate(430.8,132.1) scale(0.1)" font-size="26" text-anchor="middle" font-family='"Liberation Sans", sans-serif' fill="#333" textLength="50" lengthAdjust="spacingAndGlyphs">WN5</text>
<text transform="translate(428,136.4) scale(0.1)" font-size="26" text-anchor="middle" font-family='"Liberation Sans", sans-serif' fill="#333" textLength="80" lengthAdjust="spacingAndGlyphs">A5XFH</text>
<line x1="434.13" y1="59.5" x2="434.13" y2="148.9" stroke="#666" stroke-width="0.45" stroke-dasharray="1.1,1.1"/>
<line x1="478.47" y1="59.5" x2="478.47" y2="148.9" stroke="#666" stroke-width="0.45" stroke-dasharray="1.1,1.1"/>
<line x1="398.1" y1="134.82" x2="514.2" y2="134.82" stroke="#666" stroke-width="0.45" stroke-dasharray="1.1,1.1"/>
<path d="M398.1 59.5V148.9H514.2" stroke="#767676" stroke-width="0.95" fill="none"/>
<line x1="396.1" y1="144.8" x2="398.1" y2="144.8" stroke="#555" stroke-width="0.7"/>
<text x="394.4" y="147.86" font-size="9" text-anchor="end" font-family='"Liberation Serif", serif' fill="#222" >0</text>
<line x1="396.1" y1="121.79" x2="398.1" y2="121.79" stroke="#555" stroke-width="0.7"/>
<text x="394.4" y="124.85" font-size="9" text-anchor="end" font-family='"Liberation Serif", serif' fill="#222" >3</text>
<line x1="396.1" y1="98.78" x2="398.1" y2="98.78" stroke="#555" stroke-width="0.7"/>
<text x="394.4" y="101.84" font-size="9" text-anchor="end" font-family='"Liberation Serif", serif' fill="#222" >6</text>
<line x1="396.1" y1="75.77" x2="398.1" y2="75.77" stroke="#555" stroke-width="0.7"/>
<text x="394.4" y="78.83" font-size="9" text-anchor="end" font-family='"Liberation Serif", serif' fill="#222" >9</text>
<line x1="399.45" y1="148.9" x2="399.45" y2="150.9" stroke="#555" stroke-width="0.7"/>
<line x1="418.4" y1="148.9" x2="418.4" y2="150.9" stroke="#555" stroke-width="0.7"/>
<line x1="437.35" y1="148.9" x2="437.35" y2="150.9" stroke="#555" stroke-width="0.7"/>
<line x1="456.3" y1="148.9" x2="456.3" y2="150.9" stroke="#555" stroke-width="0.7"/>
<line x1="475.25" y1="148.9" x2="475.25" y2="150.9" stroke="#555" stroke-width="0.7"/>
<line x1="494.2" y1="148.9" x2="494.2" y2="150.9" stroke="#555" stroke-width="0.7"/>
<line x1="513.15" y1="148.9" x2="513.15" y2="150.9" stroke="#555" stroke-width="0.7"/>
<text x="418.05" y="160.8" font-size="9" text-anchor="middle" font-family='"Liberation Serif", serif' fill="#222" >-1</text>
<text x="456.3" y="160.8" font-size="9" text-anchor="middle" font-family='"Liberation Serif", serif' fill="#222" >0</text>
<text x="494.2" y="160.8" font-size="9" text-anchor="middle" font-family='"Liberation Serif", serif' fill="#222" >1</text>
<text x="455.9" y="173.6" font-size="9" text-anchor="middle" font-family='"Liberation Serif", serif' fill="#222" >Log2 fold change</text>
<text transform="translate(378.3,106) rotate(-90)" font-size="9.0" text-anchor="middle" font-family='"Liberation Serif", serif' fill="#222">-log10 adjusted P-value</text>
<circle cx="433.8" cy="46.6" r="1.0" fill="#4D4D4D"/>
<path d="M432.3 46.6h3" stroke="#4D4D4D" stroke-width="0.35"/>
<text transform="translate(436,47.75) scale(0.1)" font-size="32" font-family='"Liberation Sans", sans-serif' fill="#444" textLength="38" lengthAdjust="spacingAndGlyphs">NS</text>
<circle cx="441.9" cy="46.6" r="1.0" fill="#228B22"/>
<path d="M440.4 46.6h3" stroke="#228B22" stroke-width="0.35"/>
<text transform="translate(444,47.75) scale(0.1)" font-size="32" font-family='"Liberation Sans", sans-serif' fill="#444" textLength="95" lengthAdjust="spacingAndGlyphs">Log2 FC</text>
<circle cx="456.7" cy="46.6" r="1.0" fill="#4169E1"/>
<path d="M455.2 46.6h3" stroke="#4169E1" stroke-width="0.35"/>
<text transform="translate(459,47.75) scale(0.1)" font-size="32" font-family='"Liberation Sans", sans-serif' fill="#444" textLength="19" lengthAdjust="spacingAndGlyphs">P</text>
<circle cx="462.5" cy="46.6" r="1.0" fill="#EE0000"/>
<path d="M461 46.6h3" stroke="#EE0000" stroke-width="0.35"/>
<text transform="translate(464.5,47.75) scale(0.1)" font-size="32" font-family='"Liberation Sans", sans-serif' fill="#444" textLength="165" lengthAdjust="spacingAndGlyphs">P &amp; Log2 FC</text>
<rect x="611.5" y="32.1" width="57.8" height="115.8" fill="#EBEBEB"/>
<line x1="620.88" y1="32.1" x2="620.88" y2="147.9" stroke="#F5F5F5" stroke-width="0.35"/>
<line x1="633.96" y1="32.1" x2="633.96" y2="147.9" stroke="#F5F5F5" stroke-width="0.35"/>
<line x1="647.04" y1="32.1" x2="647.04" y2="147.9" stroke="#F5F5F5" stroke-width="0.35"/>
<line x1="660.12" y1="32.1" x2="660.12" y2="147.9" stroke="#F5F5F5" stroke-width="0.35"/>
<line x1="614.34" y1="32.1" x2="614.34" y2="147.9" stroke="#FFF" stroke-width="0.7"/>
<line x1="627.42" y1="32.1" x2="627.42" y2="147.9" stroke="#FFF" stroke-width="0.7"/>
<line x1="640.5" y1="32.1" x2="640.5" y2="147.9" stroke="#FFF" stroke-width="0.7"/>
<line x1="653.58" y1="32.1" x2="653.58" y2="147.9" stroke="#FFF" stroke-width="0.7"/>
<line x1="666.66" y1="32.1" x2="666.66" y2="147.9" stroke="#FFF" stroke-width="0.7"/>
<line x1="611.5" y1="40.1" x2="669.3" y2="40.1" stroke="#FFF" stroke-width="0.7"/>
<line x1="611.5" y1="52.7" x2="669.3" y2="52.7" stroke="#FFF" stroke-width="0.7"/>
<line x1="611.5" y1="65.3" x2="669.3" y2="65.3" stroke="#FFF" stroke-width="0.7"/>
<line x1="611.5" y1="77.9" x2="669.3" y2="77.9" stroke="#FFF" stroke-width="0.7"/>
<line x1="611.5" y1="90.5" x2="669.3" y2="90.5" stroke="#FFF" stroke-width="0.7"/>
<line x1="611.5" y1="103.1" x2="669.3" y2="103.1" stroke="#FFF" stroke-width="0.7"/>
<line x1="611.5" y1="115.7" x2="669.3" y2="115.7" stroke="#FFF" stroke-width="0.7"/>
<line x1="611.5" y1="128.3" x2="669.3" y2="128.3" stroke="#FFF" stroke-width="0.7"/>
<line x1="611.5" y1="140.9" x2="669.3" y2="140.9" stroke="#FFF" stroke-width="0.7"/>
<rect x="640.5" y="34.43" width="15.5" height="11.34" fill="#00BFFF"/>
<rect x="640.5" y="47.03" width="15.5" height="11.34" fill="#00BFFF"/>
<rect x="640.5" y="59.63" width="13.7" height="11.34" fill="#00BFFF"/>
<rect x="630.2" y="72.23" width="10.3" height="11.34" fill="#00BFFF"/>
<rect x="630.2" y="84.83" width="10.3" height="11.34" fill="#00BFFF"/>
<rect x="629.2" y="97.43" width="11.3" height="11.34" fill="#00BFFF"/>
<rect x="628" y="110.03" width="12.5" height="11.34" fill="#00BFFF"/>
<rect x="627.2" y="122.63" width="13.3" height="11.34" fill="#00BFFF"/>
<rect x="626.8" y="135.23" width="13.7" height="11.34" fill="#00BFFF"/>
<polyline points="667,40.1 667,52.7 667,65.3 651.4,77.9 650.9,90.5 654.2,103.1 659.7,115.7 660.8,128.3 666.9,140.9" fill="none" stroke="#FF0000" stroke-width="0.75"/>
<circle cx="667" cy="40.1" r="1.15" fill="#FF0000"/>
<circle cx="667" cy="52.7" r="1.15" fill="#FF0000"/>
<circle cx="667" cy="65.3" r="1.15" fill="#FF0000"/>
<circle cx="651.4" cy="77.9" r="1.15" fill="#FF0000"/>
<circle cx="650.9" cy="90.5" r="1.15" fill="#FF0000"/>
<circle cx="654.2" cy="103.1" r="1.15" fill="#FF0000"/>
<circle cx="659.7" cy="115.7" r="1.15" fill="#FF0000"/>
<circle cx="660.8" cy="128.3" r="1.15" fill="#FF0000"/>
<circle cx="666.9" cy="140.9" r="1.15" fill="#FF0000"/>
<text transform="translate(610.05,41.57) scale(0.1,0.12)" font-size="34" text-anchor="end" font-family='"Liberation Sans", sans-serif' fill="#4A4A4A" stroke="#4A4A4A" stroke-width="0">MITOTIC_SPINDLE</text>
<line x1="610.4" y1="40.1" x2="611.5" y2="40.1" stroke="#333" stroke-width="0.4"/>
<text transform="translate(610.05,54.17) scale(0.1,0.12)" font-size="34" text-anchor="end" font-family='"Liberation Sans", sans-serif' fill="#4A4A4A" stroke="#4A4A4A" stroke-width="0">G2M_CHECKPOINT</text>
<line x1="610.4" y1="52.7" x2="611.5" y2="52.7" stroke="#333" stroke-width="0.4"/>
<text transform="translate(610.05,66.77) scale(0.1,0.12)" font-size="34" text-anchor="end" font-family='"Liberation Sans", sans-serif' fill="#4A4A4A" stroke="#4A4A4A" stroke-width="0">E2F_TARGETS</text>
<line x1="610.4" y1="65.3" x2="611.5" y2="65.3" stroke="#333" stroke-width="0.4"/>
<text transform="translate(610.05,79.37) scale(0.1,0.12)" font-size="34" text-anchor="end" font-family='"Liberation Sans", sans-serif' fill="#4A4A4A" stroke="#4A4A4A" stroke-width="0">EPITHELIAL_MESENCHYMAL_TRANSITION</text>
<line x1="610.4" y1="77.9" x2="611.5" y2="77.9" stroke="#333" stroke-width="0.4"/>
<text transform="translate(610.05,91.97) scale(0.1,0.12)" font-size="34" text-anchor="end" font-family='"Liberation Sans", sans-serif' fill="#4A4A4A" stroke="#4A4A4A" stroke-width="0">TNFA_SIGNALING_VIA_NFKB</text>
<line x1="610.4" y1="90.5" x2="611.5" y2="90.5" stroke="#333" stroke-width="0.4"/>
<text transform="translate(610.05,104.57) scale(0.1,0.12)" font-size="34" text-anchor="end" font-family='"Liberation Sans", sans-serif' fill="#4A4A4A" stroke="#4A4A4A" stroke-width="0">OXIDATIVE_PHOSPHORYLATION</text>
<line x1="610.4" y1="103.1" x2="611.5" y2="103.1" stroke="#333" stroke-width="0.4"/>
<text transform="translate(610.05,117.17) scale(0.1,0.12)" font-size="34" text-anchor="end" font-family='"Liberation Sans", sans-serif' fill="#4A4A4A" stroke="#4A4A4A" stroke-width="0">ADIPOGENESIS</text>
<line x1="610.4" y1="115.7" x2="611.5" y2="115.7" stroke="#333" stroke-width="0.4"/>
<text transform="translate(610.05,129.77) scale(0.1,0.12)" font-size="34" text-anchor="end" font-family='"Liberation Sans", sans-serif' fill="#4A4A4A" stroke="#4A4A4A" stroke-width="0">PROTEIN_SECRETION</text>
<line x1="610.4" y1="128.3" x2="611.5" y2="128.3" stroke="#333" stroke-width="0.4"/>
<text transform="translate(610.05,142.37) scale(0.1,0.12)" font-size="34" text-anchor="end" font-family='"Liberation Sans", sans-serif' fill="#4A4A4A" stroke="#4A4A4A" stroke-width="0">HYPOXIA</text>
<line x1="610.4" y1="140.9" x2="611.5" y2="140.9" stroke="#333" stroke-width="0.4"/>
<text x="613.79" y="28.5" font-size="7.3" text-anchor="middle" font-family='"Liberation Serif", serif' fill="#222" >-4</text>
<text x="613.79" y="157.4" font-size="7.3" text-anchor="middle" font-family='"Liberation Serif", serif' fill="#222" >-4</text>
<line x1="614.34" y1="30.8" x2="614.34" y2="32.1" stroke="#333" stroke-width="0.4"/>
<line x1="614.34" y1="147.9" x2="614.34" y2="149.2" stroke="#333" stroke-width="0.4"/>
<text x="626.87" y="28.5" font-size="7.3" text-anchor="middle" font-family='"Liberation Serif", serif' fill="#222" >-2</text>
<text x="626.87" y="157.4" font-size="7.3" text-anchor="middle" font-family='"Liberation Serif", serif' fill="#222" >-2</text>
<line x1="627.42" y1="30.8" x2="627.42" y2="32.1" stroke="#333" stroke-width="0.4"/>
<line x1="627.42" y1="147.9" x2="627.42" y2="149.2" stroke="#333" stroke-width="0.4"/>
<text x="640.5" y="28.5" font-size="7.3" text-anchor="middle" font-family='"Liberation Serif", serif' fill="#222" >0</text>
<text x="640.5" y="157.4" font-size="7.3" text-anchor="middle" font-family='"Liberation Serif", serif' fill="#222" >0</text>
<line x1="640.5" y1="30.8" x2="640.5" y2="32.1" stroke="#333" stroke-width="0.4"/>
<line x1="640.5" y1="147.9" x2="640.5" y2="149.2" stroke="#333" stroke-width="0.4"/>
<text x="653.58" y="28.5" font-size="7.3" text-anchor="middle" font-family='"Liberation Serif", serif' fill="#222" >2</text>
<text x="653.58" y="157.4" font-size="7.3" text-anchor="middle" font-family='"Liberation Serif", serif' fill="#222" >2</text>
<line x1="653.58" y1="30.8" x2="653.58" y2="32.1" stroke="#333" stroke-width="0.4"/>
<line x1="653.58" y1="147.9" x2="653.58" y2="149.2" stroke="#333" stroke-width="0.4"/>
<text x="666.66" y="28.5" font-size="7.3" text-anchor="middle" font-family='"Liberation Serif", serif' fill="#222" >4</text>
<text x="666.66" y="157.4" font-size="7.3" text-anchor="middle" font-family='"Liberation Serif", serif' fill="#222" >4</text>
<line x1="666.66" y1="30.8" x2="666.66" y2="32.1" stroke="#333" stroke-width="0.4"/>
<line x1="666.66" y1="147.9" x2="666.66" y2="149.2" stroke="#333" stroke-width="0.4"/>
<text x="639.5" y="18" font-size="7.5" text-anchor="middle" font-family='"Liberation Serif", serif' fill="#111" >NES</text>
<text x="640.3" y="167" font-size="7.6" text-anchor="middle" font-family='"Liberation Serif", serif' fill="#111" >-log10 FDR q-value</text>
<text x="354" y="188" font-size="16" text-anchor="start" font-family='"Liberation Serif", serif' fill="#111" >E</text>
<line x1="406.62" y1="240.3" x2="406.62" y2="329.8" stroke="#F3F3F3" stroke-width="0.4"/>
<line x1="425.57" y1="240.3" x2="425.57" y2="329.8" stroke="#F3F3F3" stroke-width="0.4"/>
<line x1="444.52" y1="240.3" x2="444.52" y2="329.8" stroke="#F3F3F3" stroke-width="0.4"/>
<line x1="463.48" y1="240.3" x2="463.48" y2="329.8" stroke="#F3F3F3" stroke-width="0.4"/>
<line x1="482.43" y1="240.3" x2="482.43" y2="329.8" stroke="#F3F3F3" stroke-width="0.4"/>
<line x1="501.38" y1="240.3" x2="501.38" y2="329.8" stroke="#F3F3F3" stroke-width="0.4"/>
<line x1="395.5" y1="315" x2="511.5" y2="315" stroke="#F3F3F3" stroke-width="0.4"/>
<line x1="395.5" y1="292.2" x2="511.5" y2="292.2" stroke="#F3F3F3" stroke-width="0.4"/>
<line x1="395.5" y1="269.4" x2="511.5" y2="269.4" stroke="#F3F3F3" stroke-width="0.4"/>
<line x1="395.5" y1="246.6" x2="511.5" y2="246.6" stroke="#F3F3F3" stroke-width="0.4"/>
<line x1="397.15" y1="240.3" x2="397.15" y2="329.8" stroke="#E8E8E8" stroke-width="0.6"/>
<line x1="416.1" y1="240.3" x2="416.1" y2="329.8" stroke="#E8E8E8" stroke-width="0.6"/>
<line x1="435.05" y1="240.3" x2="435.05" y2="329.8" stroke="#E8E8E8" stroke-width="0.6"/>
<line x1="454" y1="240.3" x2="454" y2="329.8" stroke="#E8E8E8" stroke-width="0.6"/>
<line x1="472.95" y1="240.3" x2="472.95" y2="329.8" stroke="#E8E8E8" stroke-width="0.6"/>
<line x1="491.9" y1="240.3" x2="491.9" y2="329.8" stroke="#E8E8E8" stroke-width="0.6"/>
<line x1="510.85" y1="240.3" x2="510.85" y2="329.8" stroke="#E8E8E8" stroke-width="0.6"/>
<line x1="395.5" y1="326.4" x2="511.5" y2="326.4" stroke="#E8E8E8" stroke-width="0.6"/>
<line x1="395.5" y1="303.6" x2="511.5" y2="303.6" stroke="#E8E8E8" stroke-width="0.6"/>
<line x1="395.5" y1="280.8" x2="511.5" y2="280.8" stroke="#E8E8E8" stroke-width="0.6"/>
<line x1="395.5" y1="258" x2="511.5" y2="258" stroke="#E8E8E8" stroke-width="0.6"/>
<path transform="scale(0.5)" d="M864 637h0M865 634h0M865 635h0M865 636h0M865 642h0M866 633h0M867 634h0M867 637h0M868 633h0M868 637h0M868 641h0M868 642h0M869 643h0M869 645h0M870 636h0M870 637h0M870 639h0M871 634h0M871 636h0M871 637h0M871 639h0M871 645h0M872 637h0M872 638h0M872 640h0M872 644h0M873 633h0M873 641h0M874 636h0M875 633h0M875 635h0M875 636h0M875 637h0M876 635h0M876 637h0M876 641h0M877 633h0M877 634h0M877 635h0M877 636h0M877 638h0M877 639h0M877 641h0M878 633h0M878 634h0M878 640h0M878 642h0M878 643h0M878 644h0M879 639h0M879 640h0M879 642h0M879 647h0M880 634h0M880 638h0M880 642h0M880 646h0M881 636h0M881 637h0M881 644h0M882 635h0M882 637h0M882 638h0M882 641h0M882 642h0M882 643h0M882 644h0M882 645h0M882 646h0M883 633h0M883 638h0M883 642h0M883 645h0M883 647h0M884 641h0M884 646h0M885 633h0M885 643h0M886 643h0M886 644h0M886 647h0M887 640h0M887 643h0M888 639h0M888 641h0M888 643h0M888 648h0M889 645h0M889 647h0M891 646h0M892 645h0M893 648h0M894 633h0M894 634h0M894 649h0M896 649h0M896 650h0M898 651h0M898 652h0M899 633h0M899 636h0M901 642h0M901 647h0M906 644h0M907 653h0M908 653h0M910 645h0M910 653h0M911 641h0M911 652h0M913 649h0M914 633h0M915 650h0M915 652h0M916 652h0M917 649h0M917 651h0M918 633h0M919 652h0M920 633h0M920 650h0M920 651h0M921 648h0M922 649h0M922 651h0M923 644h0M924 639h0M924 641h0M925 639h0M925 645h0M926 647h0M926 649h0M927 646h0M927 648h0M927 649h0M928 646h0M928 649h0M929 633h0M929 634h0M930 642h0M930 644h0M931 633h0M931 642h0M931 644h0M931 645h0M931 646h0M932 641h0M932 642h0M932 646h0M932 647h0M933 646h0M934 639h0M934 646h0M935 633h0M935 635h0M935 642h0M935 643h0M935 644h0M936 633h0M936 641h0M936 642h0M936 645h0M936 646h0M936 648h0M937 633h0M937 638h0M937 644h0M937 646h0M938 633h0M938 636h0M938 640h0M938 641h0M938 643h0M939 633h0M939 635h0M939 639h0M939 640h0M939 641h0M939 642h0M940 633h0M940 638h0M940 639h0M940 647h0M941 633h0M941 635h0M941 637h0M941 645h0M942 633h0M942 634h0M942 636h0M942 641h0M942 645h0M943 637h0M943 638h0M943 640h0M943 641h0M944 635h0M944 642h0M944 644h0M945 635h0M945 638h0M945 640h0M946 635h0M946 637h0M947 634h0M947 636h0M947 637h0M947 640h0M948 635h0M948 636h0M948 638h0M948 639h0M949 636h0M949 642h0M950 634h0M950 635h0M950 637h0M950 638h0M950 639h0M951 633h0M952 633h0M952 634h0M952 639h0" stroke="#4D4D4D" stroke-opacity="0.5" stroke-width="2.0" stroke-linecap="round" fill="none"/>
<path transform="scale(0.5)" d="M865 638h0M867 636h0M868 634h0M869 634h0M870 635h0M872 634h0M872 639h0M873 635h0M874 635h0M874 638h0M875 638h0M875 642h0M876 634h0M877 640h0M878 635h0M878 638h0M878 639h0M878 641h0M879 633h0M879 636h0M880 636h0M880 640h0M880 641h0M880 645h0M881 638h0M881 639h0M881 640h0M881 641h0M881 646h0M882 634h0M883 640h0M883 641h0M883 643h0M883 644h0M884 638h0M884 642h0M884 644h0M885 637h0M885 642h0M885 646h0M886 635h0M886 637h0M886 641h0M886 645h0M887 638h0M888 633h0M888 634h0M888 635h0M888 637h0M888 638h0M888 642h0M888 647h0M890 633h0M891 637h0M892 633h0M892 644h0M893 633h0M895 633h0M895 644h0M895 647h0M896 634h0M896 645h0M896 648h0M898 650h0M899 641h0M899 650h0M900 644h0M900 651h0M901 650h0M902 647h0M902 648h0M903 634h0M904 651h0M904 652h0M906 652h0M907 648h0M907 650h0M910 644h0M910 646h0M911 647h0M913 644h0M913 652h0M914 643h0M914 652h0M916 633h0M916 647h0M916 649h0M917 634h0M918 642h0M919 633h0M919 642h0M919 648h0M919 649h0M920 649h0M921 645h0M921 646h0M921 647h0M922 647h0M922 648h0M923 640h0M923 647h0M923 648h0M924 633h0M926 633h0M926 636h0M926 639h0M926 643h0M926 644h0M926 648h0M927 634h0M927 637h0M927 639h0M927 645h0M928 633h0M928 635h0M928 647h0M929 635h0M929 640h0M929 642h0M929 645h0M930 636h0M930 638h0M930 645h0M930 646h0M931 636h0M931 643h0M932 643h0M932 644h0M933 643h0M933 647h0M934 633h0M934 634h0M934 637h0M934 644h0M935 637h0M935 639h0M935 641h0M936 636h0M936 639h0M936 640h0M937 634h0M937 635h0M937 636h0M937 641h0M937 642h0M938 635h0M939 637h0M939 638h0M940 635h0M940 641h0M941 634h0M941 641h0M942 638h0M942 640h0M943 633h0M944 634h0M944 637h0M944 641h0M946 633h0M946 639h0M949 638h0M952 636h0" stroke="#4D4D4D" stroke-opacity="0.75" stroke-width="2.0" stroke-linecap="round" fill="none"/>
<path transform="scale(0.5)" d="M864 634h0M870 634h0M871 635h0M872 633h0M872 635h0M873 634h0M873 636h0M873 639h0M874 633h0M874 634h0M875 634h0M876 639h0M876 642h0M878 637h0M879 634h0M879 635h0M879 638h0M880 633h0M880 635h0M880 637h0M880 643h0M881 634h0M881 635h0M881 642h0M882 633h0M882 636h0M882 639h0M882 640h0M883 634h0M883 635h0M883 636h0M883 637h0M883 639h0M884 633h0M884 634h0M884 635h0M884 636h0M884 637h0M884 639h0M885 634h0M885 635h0M885 636h0M885 638h0M885 639h0M885 640h0M886 633h0M886 634h0M886 636h0M886 638h0M886 640h0M886 642h0M887 633h0M887 634h0M887 635h0M887 636h0M887 637h0M887 639h0M887 641h0M887 644h0M888 636h0M888 640h0M888 644h0M889 633h0M889 634h0M889 635h0M889 636h0M889 637h0M889 638h0M889 639h0M889 640h0M889 641h0M889 642h0M889 643h0M889 644h0M889 646h0M890 634h0M890 635h0M890 636h0M890 637h0M890 638h0M890 639h0M890 640h0M890 641h0M890 642h0M890 643h0M890 644h0M890 645h0M890 646h0M891 633h0M891 634h0M891 635h0M891 636h0M891 638h0M891 639h0M891 640h0M891 641h0M891 642h0M891 643h0M891 644h0M891 647h0M892 634h0M892 635h0M892 636h0M892 637h0M892 638h0M892 639h0M892 640h0M892 641h0M892 642h0M892 643h0M892 646h0M892 647h0M893 634h0M893 635h0M893 636h0M893 637h0M893 638h0M893 639h0M893 640h0M893 641h0M893 642h0M893 643h0M893 644h0M893 645h0M893 646h0M893 647h0M894 635h0M894 636h0M894 637h0M894 638h0M894 639h0M894 640h0M894 641h0M894 642h0M894 643h0M894 644h0M894 645h0M894 646h0M894 648h0M894 650h0M895 634h0M895 635h0M895 636h0M895 637h0M895 638h0M895 639h0M895 640h0M895 641h0M895 642h0M895 643h0M895 645h0M895 646h0M895 648h0M896 633h0M896 635h0M896 636h0M896 637h0M896 638h0M896 639h0M896 640h0M896 641h0M896 642h0M896 643h0M896 644h0M896 646h0M896 647h0M897 634h0M897 635h0M897 636h0M897 637h0M897 638h0M897 639h0M897 640h0M897 641h0M897 642h0M897 643h0M897 644h0M897 645h0M897 646h0M897 647h0M897 648h0M897 649h0M897 650h0M898 633h0M898 634h0M898 635h0M898 636h0M898 637h0M898 638h0M898 639h0M898 640h0M898 641h0M898 642h0M898 643h0M898 644h0M898 645h0M898 646h0M898 647h0M898 648h0M898 649h0M899 634h0M899 635h0M899 637h0M899 638h0M899 639h0M899 640h0M899 642h0M899 643h0M899 644h0M899 645h0M899 646h0M899 647h0M899 648h0M899 649h0M900 633h0M900 634h0M900 635h0M900 636h0M900 637h0M900 638h0M900 639h0M900 640h0M900 641h0M900 642h0M900 643h0M900 645h0M900 646h0M900 647h0M900 648h0M900 649h0M900 650h0M901 633h0M901 634h0M901 635h0M901 636h0M901 637h0M901 638h0M901 639h0M901 640h0M901 641h0M901 643h0M901 644h0M901 645h0M901 646h0M901 648h0M901 649h0M901 651h0M901 652h0M902 633h0M902 634h0M902 635h0M902 636h0M902 637h0M902 638h0M902 639h0M902 640h0M902 641h0M902 642h0M902 643h0M902 644h0M902 645h0M902 646h0M902 649h0M902 650h0M902 651h0M903 635h0M903 636h0M903 637h0M903 638h0M903 639h0M903 640h0M903 641h0M903 642h0M903 643h0M903 644h0M903 645h0M903 646h0M903 647h0M903 648h0M903 650h0M903 651h0M903 652h0M904 637h0M904 638h0M904 639h0M904 640h0M904 641h0M904 642h0M904 643h0M904 644h0M904 645h0M904 646h0M904 647h0M904 648h0M904 649h0M904 650h0M905 641h0M905 642h0M905 643h0M905 644h0M905 645h0M905 646h0M905 647h0M905 648h0M905 649h0M905 650h0M905 651h0M905 652h0M906 645h0M906 646h0M906 647h0M906 648h0M906 649h0M906 650h0M906 651h0M907 649h0M907 651h0M907 652h0M908 652h0M909 648h0M909 650h0M909 651h0M909 652h0M910 647h0M910 648h0M910 649h0M910 650h0M910 651h0M910 652h0M911 642h0M911 643h0M911 644h0M911 645h0M911 646h0M911 648h0M911 649h0M911 650h0M911 651h0M912 637h0M912 638h0M912 639h0M912 640h0M912 641h0M912 642h0M912 643h0M912 644h0M912 645h0M912 646h0M912 647h0M912 648h0M912 649h0M912 650h0M912 651h0M912 652h0M913 634h0M913 635h0M913 636h0M913 637h0M913 638h0M913 639h0M913 640h0M913 641h0M913 642h0M913 643h0M913 645h0M913 646h0M913 647h0M913 648h0M913 650h0M913 651h0M914 634h0M914 635h0M914 636h0M914 637h0M914 638h0M914 639h0M914 640h0M914 641h0M914 642h0M914 644h0M914 645h0M914 646h0M914 647h0M914 648h0M914 649h0M914 650h0M914 651h0M915 633h0M915 634h0M915 635h0M915 636h0M915 637h0M915 638h0M915 639h0M915 640h0M915 641h0M915 642h0M915 643h0M915 644h0M915 645h0M915 646h0M915 647h0M915 648h0M915 649h0M916 634h0M916 635h0M916 636h0M916 637h0M916 638h0M916 639h0M916 640h0M916 641h0M916 642h0M916 643h0M916 644h0M916 645h0M916 646h0M916 648h0M916 650h0M916 651h0M917 633h0M917 635h0M917 636h0M917 637h0M917 638h0M917 639h0M917 640h0M917 641h0M917 642h0M917 643h0M917 644h0M917 645h0M917 646h0M917 648h0M917 650h0M918 634h0M918 635h0M918 636h0M918 637h0M918 638h0M918 639h0M918 640h0M918 641h0M918 643h0M918 644h0M918 645h0M918 646h0M918 647h0M918 648h0M918 649h0M918 650h0M918 651h0M919 634h0M919 635h0M919 636h0M919 637h0M919 638h0M919 639h0M919 640h0M919 641h0M919 643h0M919 644h0M919 645h0M919 646h0M919 647h0M919 650h0M920 634h0M920 635h0M920 636h0M920 637h0M920 638h0M920 639h0M920 640h0M920 641h0M920 642h0M920 644h0M920 645h0M920 646h0M920 647h0M920 648h0M921 633h0M921 634h0M921 635h0M921 636h0M921 637h0M921 638h0M921 639h0M921 640h0M921 641h0M921 642h0M921 643h0M921 644h0M921 649h0M922 633h0M922 634h0M922 635h0M922 636h0M922 637h0M922 638h0M922 639h0M922 640h0M922 641h0M922 642h0M922 643h0M922 644h0M922 645h0M922 646h0M923 633h0M923 634h0M923 635h0M923 636h0M923 637h0M923 638h0M923 639h0M923 641h0M923 642h0M923 643h0M923 645h0M923 646h0M924 634h0M924 635h0M924 636h0M924 637h0M924 638h0M924 640h0M924 642h0M924 643h0M924 645h0M924 646h0M924 648h0M925 633h0M925 634h0M925 635h0M925 636h0M925 637h0M925 638h0M925 640h0M925 641h0M925 642h0M925 643h0M925 644h0M925 646h0M925 647h0M925 648h0M926 634h0M926 635h0M926 637h0M926 638h0M926 640h0M926 641h0M926 642h0M926 645h0M926 646h0M927 633h0M927 635h0M927 636h0M927 638h0M927 640h0M927 642h0M927 643h0M927 644h0M927 647h0M928 634h0M928 636h0M928 637h0M928 638h0M928 639h0M928 640h0M928 641h0M928 642h0M928 643h0M928 644h0M928 645h0M929 636h0M929 637h0M929 638h0M929 639h0M929 641h0M929 643h0M929 644h0M929 646h0M930 633h0M930 634h0M930 635h0M930 637h0M930 639h0M930 640h0M930 641h0M930 643h0M931 634h0M931 635h0M931 637h0M931 638h0M931 639h0M931 640h0M931 641h0M932 634h0M932 635h0M932 636h0M932 637h0M932 638h0M932 639h0M932 640h0M933 633h0M933 634h0M933 635h0M933 636h0M933 637h0M933 638h0M933 639h0M933 640h0M933 641h0M933 642h0M934 635h0M934 636h0M934 638h0M934 640h0M934 641h0M934 642h0M935 634h0M935 636h0M935 638h0M935 640h0M936 634h0M936 635h0M936 637h0M936 638h0M937 637h0M938 634h0M938 638h0M938 645h0M939 634h0M939 636h0M940 636h0M940 637h0M940 640h0M941 640h0M949 635h0M949 639h0" stroke="#4D4D4D" stroke-opacity="1.0" stroke-width="2.0" stroke-linecap="round" fill="none"/>
<path transform="scale(0.5)" d="M836 634h0M849 634h0M853 635h0M854 639h0M855 635h0M856 633h0M856 637h0M857 634h0M859 637h0M859 641h0M860 636h0M860 639h0M861 635h0M862 638h0M863 637h0M863 638h0M864 633h0M954 633h0M954 634h0M955 633h0M956 635h0M958 634h0M958 636h0M958 640h0M959 637h0M959 638h0M960 634h0M962 635h0M965 635h0M967 636h0M970 633h0M980 634h0" stroke="#228B22" stroke-opacity="0.5" stroke-width="2.0" stroke-linecap="round" fill="none"/>
<path transform="scale(0.5)" d="M860 637h0M860 641h0M863 636h0M955 634h0M964 634h0" stroke="#228B22" stroke-opacity="0.75" stroke-width="2.0" stroke-linecap="round" fill="none"/>
<path transform="scale(0.5)" d="M866 629h0M867 632h0M868 626h0M869 623h0M869 628h0M869 630h0M870 631h0M870 632h0M870 633h0M871 621h0M871 624h0M872 623h0M872 631h0M873 619h0M873 621h0M873 627h0M873 628h0M873 630h0M874 620h0M874 621h0M874 626h0M874 627h0M874 629h0M874 631h0M874 633h0M875 616h0M875 624h0M875 628h0M875 631h0M876 623h0M876 629h0M876 630h0M876 632h0M876 633h0M877 623h0M877 624h0M878 617h0M878 623h0M878 629h0M878 631h0M878 633h0M879 623h0M879 626h0M879 628h0M879 629h0M879 632h0M879 633h0M880 616h0M880 624h0M880 626h0M880 631h0M880 632h0M880 633h0M881 615h0M881 623h0M881 629h0M881 632h0M882 622h0M882 623h0M882 625h0M882 630h0M882 631h0M882 632h0M883 621h0M883 626h0M883 627h0M883 630h0M884 609h0M884 619h0M884 627h0M884 630h0M884 631h0M885 624h0M885 627h0M885 631h0M886 610h0M886 622h0M886 626h0M886 628h0M886 630h0M887 610h0M887 613h0M887 617h0M887 619h0M887 621h0M887 627h0M887 630h0M887 632h0M887 633h0M888 614h0M888 626h0M888 627h0M888 629h0M888 630h0M889 611h0M889 614h0M889 616h0M889 621h0M889 622h0M889 623h0M889 624h0M889 626h0M889 630h0M889 632h0M889 633h0M890 614h0M890 620h0M890 622h0M890 627h0M890 630h0M890 631h0M891 617h0M891 625h0M891 626h0M891 633h0M892 613h0M892 622h0M892 625h0M892 626h0M892 627h0M892 628h0M892 632h0M893 626h0M894 621h0M894 627h0M894 628h0M894 629h0M894 631h0M894 633h0M895 617h0M895 624h0M895 627h0M895 629h0M895 631h0M895 632h0M895 633h0M896 615h0M896 619h0M896 621h0M896 626h0M896 629h0M896 630h0M897 611h0M897 613h0M897 630h0M898 620h0M898 625h0M898 628h0M898 629h0M898 632h0M898 633h0M899 621h0M899 625h0M899 627h0M899 628h0M899 631h0M900 616h0M900 624h0M900 626h0M900 629h0M900 633h0M901 613h0M901 618h0M901 623h0M901 626h0M901 629h0M901 631h0M901 633h0M902 618h0M902 623h0M902 626h0M902 628h0M902 632h0M903 618h0M903 621h0M903 624h0M903 628h0M903 631h0M904 631h0M912 627h0M912 628h0M912 631h0M912 633h0M913 623h0M913 627h0M913 628h0M913 630h0M913 631h0M913 632h0M914 614h0M914 617h0M914 622h0M914 623h0M914 625h0M914 628h0M914 629h0M914 630h0M914 631h0M914 632h0M914 633h0M915 621h0M915 624h0M915 631h0M915 632h0M916 613h0M916 615h0M916 618h0M916 621h0M916 622h0M916 625h0M916 628h0M916 629h0M916 630h0M916 632h0M917 614h0M917 617h0M917 618h0M917 621h0M917 624h0M917 626h0M917 629h0M917 631h0M918 614h0M918 620h0M918 633h0M919 605h0M919 616h0M919 621h0M919 623h0M919 625h0M919 627h0M919 631h0M920 625h0M920 626h0M920 629h0M921 610h0M921 619h0M921 620h0M921 622h0M921 623h0M921 626h0M921 627h0M921 633h0M922 602h0M922 615h0M922 619h0M922 624h0M922 625h0M922 627h0M922 629h0M923 595h0M923 617h0M923 618h0M923 620h0M923 623h0M923 628h0M923 632h0M924 619h0M924 622h0M924 630h0M924 631h0M924 632h0M924 633h0M925 617h0M925 618h0M925 619h0M925 622h0M925 625h0M925 629h0M925 630h0M926 619h0M926 620h0M926 621h0M926 622h0M926 623h0M926 631h0M926 633h0M927 607h0M927 608h0M927 624h0M927 628h0M927 630h0M928 587h0M928 604h0M928 620h0M928 621h0M928 628h0M928 629h0M929 616h0M929 620h0M929 621h0M929 622h0M929 628h0M929 630h0M930 610h0M930 615h0M930 617h0M930 623h0M930 624h0M930 626h0M930 629h0M930 630h0M931 617h0M931 620h0M931 627h0M931 629h0M931 633h0M932 609h0M932 612h0M932 622h0M933 613h0M933 619h0M933 620h0M933 633h0M934 622h0M934 628h0M934 631h0M934 633h0M935 609h0M935 616h0M935 620h0M935 622h0M935 626h0M935 627h0M935 629h0M935 630h0M935 631h0M935 633h0M936 603h0M936 605h0M936 607h0M936 624h0M936 630h0M936 633h0M937 607h0M937 614h0M937 616h0M937 619h0M937 620h0M937 626h0M937 627h0M937 632h0M938 623h0M938 628h0M938 632h0M939 612h0M939 615h0M939 619h0M939 621h0M939 623h0M939 625h0M939 626h0M939 627h0M939 630h0M940 611h0M940 619h0M940 622h0M940 623h0M941 633h0M942 618h0M942 619h0M942 632h0M943 625h0M943 630h0M943 632h0M944 612h0M944 624h0M944 626h0M944 631h0M945 615h0M945 625h0M945 629h0M945 632h0M946 618h0M946 628h0M946 629h0M946 630h0M947 626h0M947 629h0M947 631h0M948 615h0M948 631h0M948 632h0M949 627h0M949 632h0" stroke="#4169E1" stroke-opacity="0.5" stroke-width="2.0" stroke-linecap="round" fill="none"/>
<path transform="scale(0.5)" d="M869 632h0M871 628h0M873 632h0M874 630h0M874 632h0M876 626h0M877 633h0M878 621h0M878 630h0M878 632h0M880 628h0M880 629h0M881 626h0M882 627h0M883 631h0M884 624h0M884 632h0M886 631h0M886 632h0M888 632h0M889 628h0M889 631h0M890 632h0M891 627h0M891 628h0M891 629h0M891 631h0M892 630h0M893 623h0M893 627h0M893 629h0M893 630h0M893 631h0M893 633h0M894 620h0M895 628h0M895 630h0M896 628h0M896 632h0M897 623h0M897 625h0M897 627h0M897 628h0M897 632h0M898 631h0M899 615h0M899 630h0M899 632h0M899 633h0M900 630h0M901 630h0M901 632h0M902 631h0M903 625h0M903 630h0M904 628h0M904 629h0M912 632h0M913 629h0M915 626h0M917 622h0M917 625h0M917 627h0M918 612h0M918 623h0M918 626h0M918 630h0M918 631h0M918 632h0M920 607h0M920 615h0M920 630h0M920 632h0M921 625h0M922 621h0M923 629h0M923 630h0M924 629h0M925 627h0M925 628h0M927 625h0M927 629h0M927 632h0M928 622h0M928 630h0M929 619h0M929 624h0M929 626h0M929 632h0M930 627h0M931 622h0M931 626h0M931 630h0M932 625h0M932 628h0M932 632h0M933 630h0M934 624h0M934 625h0M934 632h0M935 625h0M935 628h0M935 632h0M936 619h0M937 630h0M938 626h0M938 631h0M939 629h0M941 626h0M942 628h0" stroke="#4169E1" stroke-opacity="0.75" stroke-width="2.0" stroke-linecap="round" fill="none"/>
<path transform="scale(0.5)" d="M872 626h0M872 632h0M879 631h0M888 623h0M888 631h0M891 632h0M894 630h0M894 632h0M903 632h0M916 631h0M916 633h0M920 633h0M925 632h0M926 627h0M930 632h0M932 629h0M943 629h0" stroke="#4169E1" stroke-opacity="1.0" stroke-width="2.0" stroke-linecap="round" fill="none"/>
<circle cx="428.3" cy="317.7" r="0.6" fill="#228B22" fill-opacity="0.6"/>
<circle cx="479.7" cy="318.5" r="0.6" fill="#228B22" fill-opacity="0.6"/>
<circle cx="483.7" cy="317.7" r="0.6" fill="#228B22" fill-opacity="0.6"/>
<circle cx="498.1" cy="316.1" r="0.6" fill="#228B22" fill-opacity="0.6"/>
<circle cx="478.1" cy="316.9" r="0.6" fill="#228B22" fill-opacity="0.6"/>
<circle cx="486.9" cy="318.5" r="0.6" fill="#228B22" fill-opacity="0.6"/>
<circle cx="424.3" cy="306.5" r="0.65" fill="#EE0000" fill-opacity="0.6"/>
<circle cx="421" cy="311.3" r="0.65" fill="#EE0000" fill-opacity="0.6"/>
<circle cx="415.4" cy="313.7" r="0.65" fill="#EE0000" fill-opacity="0.6"/>
<circle cx="429.1" cy="313.4" r="0.65" fill="#EE0000" fill-opacity="0.6"/>
<circle cx="430.7" cy="314.5" r="0.65" fill="#EE0000" fill-opacity="0.6"/>
<circle cx="480.5" cy="303.3" r="0.65" fill="#EE0000" fill-opacity="0.6"/>
<circle cx="491.7" cy="303.3" r="0.65" fill="#EE0000" fill-opacity="0.6"/>
<circle cx="494.1" cy="308.9" r="0.65" fill="#EE0000" fill-opacity="0.6"/>
<circle cx="506.5" cy="304.9" r="0.65" fill="#EE0000" fill-opacity="0.6"/>
<circle cx="483.7" cy="311.3" r="0.65" fill="#EE0000" fill-opacity="0.6"/>
<circle cx="488.5" cy="312.1" r="0.65" fill="#EE0000" fill-opacity="0.6"/>
<circle cx="498.9" cy="313.7" r="0.65" fill="#EE0000" fill-opacity="0.6"/>
<circle cx="477.3" cy="313.7" r="0.65" fill="#EE0000" fill-opacity="0.6"/>
<text transform="translate(426.7,308.9) scale(0.1)" font-size="26" text-anchor="middle" font-family='"Liberation Sans", sans-serif' fill="#333" textLength="60" lengthAdjust="spacingAndGlyphs">ZM5L</text>
<text transform="translate(427.5,311.3) scale(0.1)" font-size="26" text-anchor="middle" font-family='"Liberation Sans", sans-serif' fill="#333" textLength="60" lengthAdjust="spacingAndGlyphs">2WF0</text>
<text transform="translate(420.3,313.7) scale(0.1)" font-size="26" text-anchor="middle" font-family='"Liberation Sans", sans-serif' fill="#333" textLength="80" lengthAdjust="spacingAndGlyphs">40FKK</text>
<text transform="translate(415.4,317.3) scale(0.1)" font-size="26" text-anchor="middle" font-family='"Liberation Sans", sans-serif' fill="#333" textLength="90" lengthAdjust="spacingAndGlyphs">IBJ4J</text>
<text transform="translate(431.5,311.3) scale(0.1)" font-size="26" text-anchor="middle" font-family='"Liberation Sans", sans-serif' fill="#333" textLength="40" lengthAdjust="spacingAndGlyphs">5X</text>
<text transform="translate(479.2,306.5) scale(0.1)" font-size="26" text-anchor="middle" font-family='"Liberation Sans", sans-serif' fill="#333" textLength="70" lengthAdjust="spacingAndGlyphs">JIBA</text>
<text transform="translate(478.1,309.7) scale(0.1)" font-size="26" text-anchor="middle" font-family='"Liberation Sans", sans-serif' fill="#333" textLength="80" lengthAdjust="spacingAndGlyphs">G8I2M</text>
<text transform="translate(480.5,312.6) scale(0.1)" font-size="26" text-anchor="middle" font-family='"Liberation Sans", sans-serif' fill="#333" textLength="60" lengthAdjust="spacingAndGlyphs">NBRN</text>
<text transform="translate(490.1,306.5) scale(0.1)" font-size="26" text-anchor="middle" font-family='"Liberation Sans", sans-serif' fill="#333" textLength="50" lengthAdjust="spacingAndGlyphs">T7P</text>
<text transform="translate(489.3,311) scale(0.1)" font-size="26" text-anchor="middle" font-family='"Liberation Sans", sans-serif' fill="#333" textLength="60" lengthAdjust="spacingAndGlyphs">VR91</text>
<text transform="translate(507,307.8) scale(0.1)" font-size="26" text-anchor="middle" font-family='"Liberation Sans", sans-serif' fill="#333" textLength="80" lengthAdjust="spacingAndGlyphs">IDX48</text>
<text transform="translate(493.3,316.1) scale(0.1)" font-size="26" text-anchor="middle" font-family='"Liberation Sans", sans-serif' fill="#333" textLength="80" lengthAdjust="spacingAndGlyphs">17I9J</text>
<text transform="translate(482.1,314.5) scale(0.1)" font-size="26" text-anchor="middle" font-family='"Liberation Sans", sans-serif' fill="#333" textLength="50" lengthAdjust="spacingAndGlyphs">87B</text>
<text transform="translate(480.5,317.4) scale(0.1)" font-size="26" text-anchor="middle" font-family='"Liberation Sans", sans-serif' fill="#333" textLength="60" lengthAdjust="spacingAndGlyphs">3LAJ</text>
<line x1="431.83" y1="240.3" x2="431.83" y2="329.8" stroke="#666" stroke-width="0.45" stroke-dasharray="1.1,1.1"/>
<line x1="476.17" y1="240.3" x2="476.17" y2="329.8" stroke="#666" stroke-width="0.45" stroke-dasharray="1.1,1.1"/>
<line x1="395.5" y1="316.51" x2="511.5" y2="316.51" stroke="#666" stroke-width="0.45" stroke-dasharray="1.1,1.1"/>
<path d="M395.5 240.3V329.8H511.5" stroke="#767676" stroke-width="0.95" fill="none"/>
<line x1="393.5" y1="326.4" x2="395.5" y2="326.4" stroke="#555" stroke-width="0.7"/>
<text x="392.2" y="329.46" font-size="9" text-anchor="end" font-family='"Liberation Serif", serif' fill="#222" >0</text>
<line x1="393.5" y1="303.6" x2="395.5" y2="303.6" stroke="#555" stroke-width="0.7"/>
<text x="392.2" y="306.66" font-size="9" text-anchor="end" font-family='"Liberation Serif", serif' fill="#222" >3</text>
<line x1="393.5" y1="280.8" x2="395.5" y2="280.8" stroke="#555" stroke-width="0.7"/>
<text x="392.2" y="283.86" font-size="9" text-anchor="end" font-family='"Liberation Serif", serif' fill="#222" >6</text>
<line x1="393.5" y1="258" x2="395.5" y2="258" stroke="#555" stroke-width="0.7"/>
<text x="392.2" y="261.06" font-size="9" text-anchor="end" font-family='"Liberation Serif", serif' fill="#222" >9</text>
<line x1="397.15" y1="329.8" x2="397.15" y2="331.8" stroke="#555" stroke-width="0.7"/>
<line x1="416.1" y1="329.8" x2="416.1" y2="331.8" stroke="#555" stroke-width="0.7"/>
<line x1="435.05" y1="329.8" x2="435.05" y2="331.8" stroke="#555" stroke-width="0.7"/>
<line x1="454" y1="329.8" x2="454" y2="331.8" stroke="#555" stroke-width="0.7"/>
<line x1="472.95" y1="329.8" x2="472.95" y2="331.8" stroke="#555" stroke-width="0.7"/>
<line x1="491.9" y1="329.8" x2="491.9" y2="331.8" stroke="#555" stroke-width="0.7"/>
<line x1="510.85" y1="329.8" x2="510.85" y2="331.8" stroke="#555" stroke-width="0.7"/>
<text x="414.25" y="341.9" font-size="9" text-anchor="middle" font-family='"Liberation Serif", serif' fill="#222" >-1</text>
<text x="454" y="341.9" font-size="9" text-anchor="middle" font-family='"Liberation Serif", serif' fill="#222" >0</text>
<text x="491.9" y="341.9" font-size="9" text-anchor="middle" font-family='"Liberation Serif", serif' fill="#222" >1</text>
<text x="453.3" y="354.3" font-size="9" text-anchor="middle" font-family='"Liberation Serif", serif' fill="#222" >Log2 fold change</text>
<text transform="translate(380,287.2) rotate(-90)" font-size="9.0" text-anchor="middle" font-family='"Liberation Serif", serif' fill="#222">-log10 adjusted P-value</text>
<circle cx="431.4" cy="227.7" r="1.0" fill="#4D4D4D"/>
<path d="M429.9 227.7h3" stroke="#4D4D4D" stroke-width="0.35"/>
<text transform="translate(433.6,228.85) scale(0.1)" font-size="32" font-family='"Liberation Sans", sans-serif' fill="#444" textLength="38" lengthAdjust="spacingAndGlyphs">NS</text>
<circle cx="439.5" cy="227.7" r="1.0" fill="#228B22"/>
<path d="M438 227.7h3" stroke="#228B22" stroke-width="0.35"/>
<text transform="translate(441.6,228.85) scale(0.1)" font-size="32" font-family='"Liberation Sans", sans-serif' fill="#444" textLength="95" lengthAdjust="spacingAndGlyphs">Log2 FC</text>
<circle cx="454.3" cy="227.7" r="1.0" fill="#4169E1"/>
<path d="M452.8 227.7h3" stroke="#4169E1" stroke-width="0.35"/>
<text transform="translate(456.6,228.85) scale(0.1)" font-size="32" font-family='"Liberation Sans", sans-serif' fill="#444" textLength="19" lengthAdjust="spacingAndGlyphs">P</text>
<circle cx="460.1" cy="227.7" r="1.0" fill="#EE0000"/>
<path d="M458.6 227.7h3" stroke="#EE0000" stroke-width="0.35"/>
<text transform="translate(462.1,228.85) scale(0.1)" font-size="32" font-family='"Liberation Sans", sans-serif' fill="#444" textLength="165" lengthAdjust="spacingAndGlyphs">P &amp; Log2 FC</text>
<rect x="606.5" y="213" width="70.1" height="116" fill="#EBEBEB"/>
<line x1="617.67" y1="213" x2="617.67" y2="329" stroke="#F5F5F5" stroke-width="0.35"/>
<line x1="633.69" y1="213" x2="633.69" y2="329" stroke="#F5F5F5" stroke-width="0.35"/>
<line x1="649.71" y1="213" x2="649.71" y2="329" stroke="#F5F5F5" stroke-width="0.35"/>
<line x1="665.73" y1="213" x2="665.73" y2="329" stroke="#F5F5F5" stroke-width="0.35"/>
<line x1="609.66" y1="213" x2="609.66" y2="329" stroke="#FFF" stroke-width="0.7"/>
<line x1="625.68" y1="213" x2="625.68" y2="329" stroke="#FFF" stroke-width="0.7"/>
<line x1="641.7" y1="213" x2="641.7" y2="329" stroke="#FFF" stroke-width="0.7"/>
<line x1="657.72" y1="213" x2="657.72" y2="329" stroke="#FFF" stroke-width="0.7"/>
<line x1="673.74" y1="213" x2="673.74" y2="329" stroke="#FFF" stroke-width="0.7"/>
<line x1="606.5" y1="218.1" x2="676.6" y2="218.1" stroke="#FFF" stroke-width="0.7"/>
<line x1="606.5" y1="226.27" x2="676.6" y2="226.27" stroke="#FFF" stroke-width="0.7"/>
<line x1="606.5" y1="234.44" x2="676.6" y2="234.44" stroke="#FFF" stroke-width="0.7"/>
<line x1="606.5" y1="242.61" x2="676.6" y2="242.61" stroke="#FFF" stroke-width="0.7"/>
<line x1="606.5" y1="250.78" x2="676.6" y2="250.78" stroke="#FFF" stroke-width="0.7"/>
<line x1="606.5" y1="258.95" x2="676.6" y2="258.95" stroke="#FFF" stroke-width="0.7"/>
<line x1="606.5" y1="267.12" x2="676.6" y2="267.12" stroke="#FFF" stroke-width="0.7"/>
<line x1="606.5" y1="275.29" x2="676.6" y2="275.29" stroke="#FFF" stroke-width="0.7"/>
<line x1="606.5" y1="283.46" x2="676.6" y2="283.46" stroke="#FFF" stroke-width="0.7"/>
<line x1="606.5" y1="291.63" x2="676.6" y2="291.63" stroke="#FFF" stroke-width="0.7"/>
<line x1="606.5" y1="299.8" x2="676.6" y2="299.8" stroke="#FFF" stroke-width="0.7"/>
<line x1="606.5" y1="307.97" x2="676.6" y2="307.97" stroke="#FFF" stroke-width="0.7"/>
<line x1="606.5" y1="316.14" x2="676.6" y2="316.14" stroke="#FFF" stroke-width="0.7"/>
<line x1="606.5" y1="324.31" x2="676.6" y2="324.31" stroke="#FFF" stroke-width="0.7"/>
<rect x="641.7" y="214.42" width="16.8" height="7.35" fill="#00BFFF"/>
<rect x="641.7" y="222.59" width="14.4" height="7.35" fill="#00BFFF"/>
<rect x="627" y="230.76" width="14.7" height="7.35" fill="#00BFFF"/>
<rect x="627" y="238.93" width="14.7" height="7.35" fill="#00BFFF"/>
<rect x="626.4" y="247.1" width="15.3" height="7.35" fill="#00BFFF"/>
<rect x="626" y="255.27" width="15.7" height="7.35" fill="#00BFFF"/>
<rect x="624.9" y="263.44" width="16.8" height="7.35" fill="#00BFFF"/>
<rect x="624" y="271.61" width="17.7" height="7.35" fill="#00BFFF"/>
<rect x="623" y="279.78" width="18.7" height="7.35" fill="#00BFFF"/>
<rect x="622.9" y="287.95" width="18.8" height="7.35" fill="#00BFFF"/>
<rect x="621.2" y="296.12" width="20.5" height="7.35" fill="#00BFFF"/>
<rect x="618.9" y="304.29" width="22.8" height="7.35" fill="#00BFFF"/>
<rect x="618.1" y="312.46" width="23.6" height="7.35" fill="#00BFFF"/>
<rect x="616.6" y="320.63" width="25.1" height="7.35" fill="#00BFFF"/>
<polyline points="673.7,218.1 657.9,226.27 673.7,234.44 673.7,242.61 673.7,250.78 673.7,258.95 673.7,267.12 673.7,275.29 673.7,283.46 673.7,291.63 673.7,299.8 673.7,307.97 673.7,316.14 673.7,324.31" fill="none" stroke="#FF0000" stroke-width="0.75"/>
<circle cx="673.7" cy="218.1" r="1.15" fill="#FF0000"/>
<circle cx="657.9" cy="226.27" r="1.15" fill="#FF0000"/>
<circle cx="673.7" cy="234.44" r="1.15" fill="#FF0000"/>
<circle cx="673.7" cy="242.61" r="1.15" fill="#FF0000"/>
<circle cx="673.7" cy="250.78" r="1.15" fill="#FF0000"/>
<circle cx="673.7" cy="258.95" r="1.15" fill="#FF0000"/>
<circle cx="673.7" cy="267.12" r="1.15" fill="#FF0000"/>
<circle cx="673.7" cy="275.29" r="1.15" fill="#FF0000"/>
<circle cx="673.7" cy="283.46" r="1.15" fill="#FF0000"/>
<circle cx="673.7" cy="291.63" r="1.15" fill="#FF0000"/>
<circle cx="673.7" cy="299.8" r="1.15" fill="#FF0000"/>
<circle cx="673.7" cy="307.97" r="1.15" fill="#FF0000"/>
<circle cx="673.7" cy="316.14" r="1.15" fill="#FF0000"/>
<circle cx="673.7" cy="324.31" r="1.15" fill="#FF0000"/>
<text transform="translate(605.05,219.57) scale(0.1,0.12)" font-size="34" text-anchor="end" font-family='"Liberation Sans", sans-serif' fill="#4A4A4A" stroke="#4A4A4A" stroke-width="0">ESTROGEN_RESPONSE_EARLY</text>
<line x1="605.4" y1="218.1" x2="606.5" y2="218.1" stroke="#333" stroke-width="0.4"/>
<text transform="translate(605.05,227.74) scale(0.1,0.12)" font-size="34" text-anchor="end" font-family='"Liberation Sans", sans-serif' fill="#4A4A4A" stroke="#4A4A4A" stroke-width="0">ESTROGEN_RESPONSE_LATE</text>
<line x1="605.4" y1="226.27" x2="606.5" y2="226.27" stroke="#333" stroke-width="0.4"/>
<text transform="translate(605.05,235.91) scale(0.1,0.12)" font-size="34" text-anchor="end" font-family='"Liberation Sans", sans-serif' fill="#4A4A4A" stroke="#4A4A4A" stroke-width="0">COMPLEMENT</text>
<line x1="605.4" y1="234.44" x2="606.5" y2="234.44" stroke="#333" stroke-width="0.4"/>
<text transform="translate(605.05,244.08) scale(0.1,0.12)" font-size="34" text-anchor="end" font-family='"Liberation Sans", sans-serif' fill="#4A4A4A" stroke="#4A4A4A" stroke-width="0">MTORC1_SIGNALING</text>
<line x1="605.4" y1="242.61" x2="606.5" y2="242.61" stroke="#333" stroke-width="0.4"/>
<text transform="translate(605.05,252.25) scale(0.1,0.12)" font-size="34" text-anchor="end" font-family='"Liberation Sans", sans-serif' fill="#4A4A4A" stroke="#4A4A4A" stroke-width="0">MITOTIC_SPINDLE</text>
<line x1="605.4" y1="250.78" x2="606.5" y2="250.78" stroke="#333" stroke-width="0.4"/>
<text transform="translate(605.05,260.42) scale(0.1,0.12)" font-size="34" text-anchor="end" font-family='"Liberation Sans", sans-serif' fill="#4A4A4A" stroke="#4A4A4A" stroke-width="0">IL2_STAT5_SIGNALING</text>
<line x1="605.4" y1="258.95" x2="606.5" y2="258.95" stroke="#333" stroke-width="0.4"/>
<text transform="translate(605.05,268.59) scale(0.1,0.12)" font-size="34" text-anchor="end" font-family='"Liberation Sans", sans-serif' fill="#4A4A4A" stroke="#4A4A4A" stroke-width="0">E2F_TARGETS</text>
<line x1="605.4" y1="267.12" x2="606.5" y2="267.12" stroke="#333" stroke-width="0.4"/>
<text transform="translate(605.05,276.76) scale(0.1,0.12)" font-size="34" text-anchor="end" font-family='"Liberation Sans", sans-serif' fill="#4A4A4A" stroke="#4A4A4A" stroke-width="0">G2M_CHECKPOINT</text>
<line x1="605.4" y1="275.29" x2="606.5" y2="275.29" stroke="#333" stroke-width="0.4"/>
<text transform="translate(605.05,284.93) scale(0.1,0.12)" font-size="34" text-anchor="end" font-family='"Liberation Sans", sans-serif' fill="#4A4A4A" stroke="#4A4A4A" stroke-width="0">TNFA_SIGNALING_VIA_NFKB</text>
<line x1="605.4" y1="283.46" x2="606.5" y2="283.46" stroke="#333" stroke-width="0.4"/>
<text transform="translate(605.05,293.1) scale(0.1,0.12)" font-size="34" text-anchor="end" font-family='"Liberation Sans", sans-serif' fill="#4A4A4A" stroke="#4A4A4A" stroke-width="0">IL6_JAK_STAT3_SIGNALING</text>
<line x1="605.4" y1="291.63" x2="606.5" y2="291.63" stroke="#333" stroke-width="0.4"/>
<text transform="translate(605.05,301.27) scale(0.1,0.12)" font-size="34" text-anchor="end" font-family='"Liberation Sans", sans-serif' fill="#4A4A4A" stroke="#4A4A4A" stroke-width="0">INFLAMMATORY_RESPONSE</text>
<line x1="605.4" y1="299.8" x2="606.5" y2="299.8" stroke="#333" stroke-width="0.4"/>
<text transform="translate(605.05,309.44) scale(0.1,0.12)" font-size="34" text-anchor="end" font-family='"Liberation Sans", sans-serif' fill="#4A4A4A" stroke="#4A4A4A" stroke-width="0">ALLOGRAFT_REJECTION</text>
<line x1="605.4" y1="307.97" x2="606.5" y2="307.97" stroke="#333" stroke-width="0.4"/>
<text transform="translate(605.05,317.61) scale(0.1,0.12)" font-size="34" text-anchor="end" font-family='"Liberation Sans", sans-serif' fill="#4A4A4A" stroke="#4A4A4A" stroke-width="0">INTERFERON_ALPHA_RESPONSE</text>
<line x1="605.4" y1="316.14" x2="606.5" y2="316.14" stroke="#333" stroke-width="0.4"/>
<text transform="translate(605.05,325.78) scale(0.1,0.12)" font-size="34" text-anchor="end" font-family='"Liberation Sans", sans-serif' fill="#4A4A4A" stroke="#4A4A4A" stroke-width="0">INTERFERON_GAMMA_RESPONSE</text>
<line x1="605.4" y1="324.31" x2="606.5" y2="324.31" stroke="#333" stroke-width="0.4"/>
<text x="609.86" y="208.3" font-size="7.3" text-anchor="middle" font-family='"Liberation Serif", serif' fill="#222" >-4</text>
<text x="609.86" y="338.2" font-size="7.3" text-anchor="middle" font-family='"Liberation Serif", serif' fill="#222" >-4</text>
<line x1="609.66" y1="211.7" x2="609.66" y2="213" stroke="#333" stroke-width="0.4"/>
<line x1="609.66" y1="329" x2="609.66" y2="330.3" stroke="#333" stroke-width="0.4"/>
<text x="625.88" y="208.3" font-size="7.3" text-anchor="middle" font-family='"Liberation Serif", serif' fill="#222" >-2</text>
<text x="625.88" y="338.2" font-size="7.3" text-anchor="middle" font-family='"Liberation Serif", serif' fill="#222" >-2</text>
<line x1="625.68" y1="211.7" x2="625.68" y2="213" stroke="#333" stroke-width="0.4"/>
<line x1="625.68" y1="329" x2="625.68" y2="330.3" stroke="#333" stroke-width="0.4"/>
<text x="641.7" y="208.3" font-size="7.3" text-anchor="middle" font-family='"Liberation Serif", serif' fill="#222" >0</text>
<text x="641.7" y="338.2" font-size="7.3" text-anchor="middle" font-family='"Liberation Serif", serif' fill="#222" >0</text>
<line x1="641.7" y1="211.7" x2="641.7" y2="213" stroke="#333" stroke-width="0.4"/>
<line x1="641.7" y1="329" x2="641.7" y2="330.3" stroke="#333" stroke-width="0.4"/>
<text x="657.72" y="208.3" font-size="7.3" text-anchor="middle" font-family='"Liberation Serif", serif' fill="#222" >2</text>
<text x="657.72" y="338.2" font-size="7.3" text-anchor="middle" font-family='"Liberation Serif", serif' fill="#222" >2</text>
<line x1="657.72" y1="211.7" x2="657.72" y2="213" stroke="#333" stroke-width="0.4"/>
<line x1="657.72" y1="329" x2="657.72" y2="330.3" stroke="#333" stroke-width="0.4"/>
<text x="673.74" y="208.3" font-size="7.3" text-anchor="middle" font-family='"Liberation Serif", serif' fill="#222" >4</text>
<text x="673.74" y="338.2" font-size="7.3" text-anchor="middle" font-family='"Liberation Serif", serif' fill="#222" >4</text>
<line x1="673.74" y1="211.7" x2="673.74" y2="213" stroke="#333" stroke-width="0.4"/>
<line x1="673.74" y1="329" x2="673.74" y2="330.3" stroke="#333" stroke-width="0.4"/>
<text x="639.5" y="197.4" font-size="7.5" text-anchor="middle" font-family='"Liberation Serif", serif' fill="#111" >NES</text>
<text x="644.3" y="348.7" font-size="7.6" text-anchor="middle" font-family='"Liberation Serif", serif' fill="#111" >-log10 FDR q-value</text>
<text x="355.6" y="373.3" font-size="15" text-anchor="start" font-family='"Liberation Serif", serif' fill="#111" >F</text>
<line x1="406.3" y1="428.6" x2="406.3" y2="518.7" stroke="#F3F3F3" stroke-width="0.4"/>
<line x1="424.7" y1="428.6" x2="424.7" y2="518.7" stroke="#F3F3F3" stroke-width="0.4"/>
<line x1="443.1" y1="428.6" x2="443.1" y2="518.7" stroke="#F3F3F3" stroke-width="0.4"/>
<line x1="461.5" y1="428.6" x2="461.5" y2="518.7" stroke="#F3F3F3" stroke-width="0.4"/>
<line x1="479.9" y1="428.6" x2="479.9" y2="518.7" stroke="#F3F3F3" stroke-width="0.4"/>
<line x1="498.3" y1="428.6" x2="498.3" y2="518.7" stroke="#F3F3F3" stroke-width="0.4"/>
<line x1="395.7" y1="503.45" x2="508.2" y2="503.45" stroke="#F3F3F3" stroke-width="0.4"/>
<line x1="395.7" y1="481.95" x2="508.2" y2="481.95" stroke="#F3F3F3" stroke-width="0.4"/>
<line x1="395.7" y1="460.45" x2="508.2" y2="460.45" stroke="#F3F3F3" stroke-width="0.4"/>
<line x1="395.7" y1="438.95" x2="508.2" y2="438.95" stroke="#F3F3F3" stroke-width="0.4"/>
<line x1="397.1" y1="428.6" x2="397.1" y2="518.7" stroke="#E8E8E8" stroke-width="0.6"/>
<line x1="415.5" y1="428.6" x2="415.5" y2="518.7" stroke="#E8E8E8" stroke-width="0.6"/>
<line x1="433.9" y1="428.6" x2="433.9" y2="518.7" stroke="#E8E8E8" stroke-width="0.6"/>
<line x1="452.3" y1="428.6" x2="452.3" y2="518.7" stroke="#E8E8E8" stroke-width="0.6"/>
<line x1="470.7" y1="428.6" x2="470.7" y2="518.7" stroke="#E8E8E8" stroke-width="0.6"/>
<line x1="489.1" y1="428.6" x2="489.1" y2="518.7" stroke="#E8E8E8" stroke-width="0.6"/>
<line x1="507.5" y1="428.6" x2="507.5" y2="518.7" stroke="#E8E8E8" stroke-width="0.6"/>
<line x1="395.7" y1="514.2" x2="508.2" y2="514.2" stroke="#E8E8E8" stroke-width="0.6"/>
<line x1="395.7" y1="492.7" x2="508.2" y2="492.7" stroke="#E8E8E8" stroke-width="0.6"/>
<line x1="395.7" y1="471.2" x2="508.2" y2="471.2" stroke="#E8E8E8" stroke-width="0.6"/>
<line x1="395.7" y1="449.7" x2="508.2" y2="449.7" stroke="#E8E8E8" stroke-width="0.6"/>
<path transform="scale(0.5)" d="M875 1007h0M877 1010h0M878 1012h0M879 1007h0M879 1009h0M880 1007h0M880 1008h0M880 1014h0M882 1007h0M882 1009h0M882 1012h0M882 1015h0M883 1009h0M883 1012h0M883 1019h0M884 1006h0M884 1007h0M884 1016h0M884 1018h0M885 1006h0M885 1007h0M885 1008h0M885 1009h0M885 1010h0M885 1011h0M885 1012h0M885 1017h0M886 1006h0M886 1012h0M886 1015h0M887 1010h0M887 1011h0M887 1015h0M888 1010h0M888 1015h0M889 1007h0M889 1013h0M889 1015h0M889 1021h0M890 1011h0M890 1012h0M890 1016h0M890 1018h0M890 1020h0M890 1023h0M891 1006h0M891 1008h0M891 1013h0M891 1015h0M891 1019h0M891 1021h0M892 1010h0M892 1022h0M893 1016h0M893 1020h0M894 1012h0M894 1020h0M894 1024h0M895 1023h0M895 1024h0M896 1020h0M896 1021h0M896 1022h0M896 1024h0M897 1019h0M899 1026h0M899 1027h0M900 1026h0M900 1027h0M901 1028h0M902 1028h0M903 1013h0M903 1028h0M904 1022h0M905 1025h0M905 1027h0M906 1014h0M907 1006h0M910 1016h0M910 1027h0M911 1023h0M913 1019h0M913 1023h0M913 1024h0M914 1018h0M915 1019h0M915 1026h0M916 1018h0M916 1019h0M917 1008h0M917 1013h0M918 1018h0M919 1007h0M919 1011h0M919 1017h0M919 1018h0M919 1019h0M920 1007h0M920 1010h0M920 1012h0M920 1014h0M920 1017h0M921 1008h0M921 1011h0M921 1018h0M921 1020h0M922 1010h0M922 1023h0M923 1007h0M923 1008h0M923 1010h0M923 1011h0M923 1012h0M923 1016h0M923 1017h0M923 1018h0M923 1021h0M924 1008h0M924 1010h0M925 1008h0M925 1011h0M926 1006h0M926 1007h0M926 1009h0M926 1011h0M926 1015h0M927 1007h0M927 1017h0M928 1008h0M928 1013h0M929 1012h0M931 1009h0M932 1008h0M932 1012h0M946 1009h0" stroke="#4D4D4D" stroke-opacity="0.5" stroke-width="2.0" stroke-linecap="round" fill="none"/>
<path transform="scale(0.5)" d="M884 1008h0M884 1009h0M886 1008h0M886 1017h0M887 1006h0M887 1008h0M887 1012h0M887 1013h0M888 1007h0M888 1008h0M888 1011h0M889 1014h0M890 1009h0M890 1017h0M891 1018h0M892 1011h0M892 1014h0M892 1017h0M892 1019h0M893 1012h0M893 1018h0M893 1021h0M893 1022h0M893 1023h0M894 1016h0M894 1018h0M894 1019h0M895 1021h0M897 1006h0M897 1023h0M897 1024h0M897 1025h0M898 1022h0M898 1023h0M898 1025h0M900 1006h0M900 1025h0M902 1006h0M903 1011h0M903 1012h0M903 1014h0M903 1015h0M903 1025h0M904 1023h0M905 1022h0M905 1028h0M906 1016h0M906 1027h0M908 1021h0M908 1026h0M908 1027h0M909 1016h0M909 1025h0M911 1024h0M911 1026h0M912 1022h0M912 1025h0M914 1019h0M914 1024h0M915 1014h0M915 1015h0M916 1011h0M916 1013h0M916 1020h0M916 1021h0M917 1014h0M917 1015h0M917 1017h0M917 1020h0M918 1015h0M918 1016h0M918 1020h0M919 1013h0M920 1009h0M920 1015h0M920 1016h0M920 1019h0M920 1021h0M921 1006h0M921 1009h0M922 1006h0M922 1008h0M922 1011h0M922 1014h0M923 1014h0M924 1006h0M924 1007h0M925 1009h0M927 1008h0M928 1012h0" stroke="#4D4D4D" stroke-opacity="0.75" stroke-width="2.0" stroke-linecap="round" fill="none"/>
<path transform="scale(0.5)" d="M886 1007h0M886 1009h0M887 1007h0M887 1009h0M887 1014h0M888 1009h0M889 1008h0M889 1009h0M889 1010h0M889 1011h0M889 1012h0M890 1007h0M890 1008h0M890 1010h0M890 1013h0M890 1014h0M891 1007h0M891 1009h0M891 1010h0M891 1011h0M891 1012h0M891 1014h0M891 1016h0M891 1017h0M892 1006h0M892 1007h0M892 1008h0M892 1009h0M892 1012h0M892 1013h0M892 1016h0M892 1018h0M892 1021h0M893 1006h0M893 1007h0M893 1008h0M893 1009h0M893 1010h0M893 1011h0M893 1013h0M893 1014h0M893 1015h0M893 1017h0M893 1019h0M894 1006h0M894 1007h0M894 1008h0M894 1009h0M894 1010h0M894 1011h0M894 1013h0M894 1014h0M894 1015h0M894 1021h0M894 1022h0M895 1007h0M895 1008h0M895 1009h0M895 1010h0M895 1011h0M895 1012h0M895 1013h0M895 1014h0M895 1015h0M895 1016h0M895 1017h0M895 1018h0M895 1019h0M895 1022h0M896 1006h0M896 1007h0M896 1008h0M896 1009h0M896 1010h0M896 1011h0M896 1012h0M896 1013h0M896 1014h0M896 1015h0M896 1016h0M896 1017h0M896 1018h0M896 1019h0M896 1023h0M897 1007h0M897 1008h0M897 1009h0M897 1010h0M897 1011h0M897 1012h0M897 1013h0M897 1014h0M897 1015h0M897 1016h0M897 1017h0M897 1018h0M897 1020h0M897 1022h0M898 1006h0M898 1007h0M898 1008h0M898 1009h0M898 1010h0M898 1011h0M898 1012h0M898 1013h0M898 1014h0M898 1015h0M898 1016h0M898 1017h0M898 1018h0M898 1019h0M898 1020h0M898 1021h0M898 1024h0M899 1006h0M899 1007h0M899 1008h0M899 1009h0M899 1010h0M899 1011h0M899 1012h0M899 1013h0M899 1014h0M899 1015h0M899 1016h0M899 1017h0M899 1018h0M899 1019h0M899 1020h0M899 1021h0M899 1022h0M899 1023h0M899 1024h0M899 1025h0M900 1007h0M900 1008h0M900 1009h0M900 1010h0M900 1011h0M900 1012h0M900 1013h0M900 1014h0M900 1015h0M900 1016h0M900 1017h0M900 1018h0M900 1019h0M900 1020h0M900 1021h0M900 1022h0M900 1023h0M900 1024h0M901 1007h0M901 1008h0M901 1009h0M901 1010h0M901 1011h0M901 1012h0M901 1013h0M901 1014h0M901 1015h0M901 1016h0M901 1017h0M901 1018h0M901 1019h0M901 1020h0M901 1021h0M901 1022h0M901 1023h0M901 1024h0M901 1025h0M901 1026h0M902 1007h0M902 1008h0M902 1009h0M902 1010h0M902 1011h0M902 1012h0M902 1013h0M902 1014h0M902 1015h0M902 1016h0M902 1017h0M902 1018h0M902 1019h0M902 1020h0M902 1021h0M902 1022h0M902 1023h0M902 1024h0M902 1025h0M902 1026h0M902 1027h0M903 1016h0M903 1017h0M903 1018h0M903 1019h0M903 1020h0M903 1021h0M903 1022h0M903 1023h0M903 1024h0M903 1026h0M903 1027h0M904 1024h0M904 1025h0M904 1026h0M904 1027h0M904 1028h0M905 1024h0M906 1013h0M906 1015h0M906 1017h0M906 1018h0M906 1019h0M906 1020h0M906 1021h0M906 1022h0M906 1023h0M906 1025h0M906 1026h0M907 1007h0M907 1008h0M907 1009h0M907 1010h0M907 1011h0M907 1012h0M907 1013h0M907 1014h0M907 1015h0M907 1016h0M907 1017h0M907 1018h0M907 1019h0M907 1020h0M907 1021h0M907 1022h0M907 1023h0M907 1024h0M907 1025h0M907 1026h0M907 1027h0M908 1006h0M908 1007h0M908 1008h0M908 1009h0M908 1010h0M908 1011h0M908 1012h0M908 1013h0M908 1014h0M908 1015h0M908 1016h0M908 1017h0M908 1018h0M908 1019h0M908 1020h0M908 1022h0M908 1023h0M908 1024h0M908 1025h0M909 1006h0M909 1007h0M909 1008h0M909 1009h0M909 1010h0M909 1011h0M909 1012h0M909 1013h0M909 1014h0M909 1015h0M909 1017h0M909 1018h0M909 1019h0M909 1020h0M909 1021h0M909 1022h0M909 1023h0M909 1024h0M909 1026h0M909 1027h0M910 1006h0M910 1007h0M910 1008h0M910 1009h0M910 1010h0M910 1011h0M910 1012h0M910 1013h0M910 1014h0M910 1015h0M910 1017h0M910 1018h0M910 1019h0M910 1020h0M910 1021h0M910 1022h0M910 1023h0M910 1024h0M910 1025h0M910 1026h0M911 1006h0M911 1007h0M911 1008h0M911 1009h0M911 1010h0M911 1011h0M911 1012h0M911 1013h0M911 1014h0M911 1015h0M911 1016h0M911 1017h0M911 1018h0M911 1019h0M911 1020h0M911 1021h0M911 1022h0M911 1025h0M912 1006h0M912 1007h0M912 1008h0M912 1009h0M912 1010h0M912 1011h0M912 1012h0M912 1013h0M912 1014h0M912 1015h0M912 1016h0M912 1017h0M912 1018h0M912 1019h0M912 1020h0M912 1021h0M912 1023h0M913 1006h0M913 1007h0M913 1008h0M913 1009h0M913 1010h0M913 1011h0M913 1012h0M913 1013h0M913 1014h0M913 1015h0M913 1016h0M913 1017h0M913 1018h0M913 1020h0M913 1021h0M913 1022h0M914 1006h0M914 1007h0M914 1008h0M914 1009h0M914 1010h0M914 1011h0M914 1012h0M914 1013h0M914 1014h0M914 1015h0M914 1016h0M914 1017h0M914 1020h0M914 1021h0M914 1022h0M915 1006h0M915 1007h0M915 1008h0M915 1009h0M915 1010h0M915 1011h0M915 1012h0M915 1013h0M915 1016h0M915 1017h0M915 1018h0M915 1021h0M915 1022h0M916 1006h0M916 1007h0M916 1008h0M916 1009h0M916 1010h0M916 1012h0M916 1014h0M916 1015h0M916 1016h0M916 1017h0M917 1006h0M917 1007h0M917 1009h0M917 1010h0M917 1011h0M917 1012h0M917 1016h0M917 1018h0M917 1019h0M917 1021h0M918 1007h0M918 1008h0M918 1009h0M918 1010h0M918 1011h0M918 1012h0M918 1013h0M918 1014h0M919 1006h0M919 1008h0M919 1009h0M919 1010h0M919 1014h0M919 1016h0M920 1008h0M920 1011h0M920 1013h0M921 1007h0M921 1014h0M922 1007h0M922 1009h0M922 1012h0M926 1008h0" stroke="#4D4D4D" stroke-opacity="1.0" stroke-width="2.0" stroke-linecap="round" fill="none"/>
<path transform="scale(0.5)" d="M881 1001h0M882 993h0M882 994h0M882 1001h0M882 1005h0M883 994h0M884 1002h0M884 1003h0M884 1005h0M885 989h0M885 1001h0M885 1005h0M886 994h0M886 1004h0M886 1006h0M887 993h0M887 996h0M887 1001h0M887 1002h0M888 982h0M888 985h0M888 991h0M888 995h0M888 1000h0M888 1001h0M888 1002h0M888 1003h0M888 1004h0M889 997h0M889 1006h0M890 980h0M890 992h0M890 993h0M890 995h0M890 999h0M891 982h0M891 988h0M891 996h0M891 998h0M891 999h0M891 1001h0M891 1003h0M891 1004h0M891 1005h0M892 993h0M892 999h0M892 1002h0M893 979h0M893 990h0M893 998h0M893 1000h0M893 1003h0M893 1004h0M893 1006h0M894 985h0M894 992h0M894 996h0M894 1001h0M894 1003h0M894 1005h0M894 1006h0M895 992h0M895 997h0M895 998h0M895 999h0M895 1003h0M896 989h0M896 991h0M896 994h0M896 995h0M896 997h0M896 998h0M896 999h0M896 1000h0M896 1003h0M896 1006h0M897 987h0M897 988h0M897 989h0M897 991h0M897 1000h0M897 1002h0M897 1006h0M898 987h0M898 992h0M898 994h0M898 998h0M898 1002h0M898 1004h0M898 1005h0M899 980h0M899 985h0M899 992h0M899 993h0M899 998h0M899 1001h0M899 1002h0M899 1004h0M899 1006h0M900 978h0M900 992h0M900 993h0M900 994h0M900 997h0M900 1003h0M900 1006h0M901 989h0M901 991h0M901 998h0M901 1001h0M901 1002h0M901 1003h0M902 991h0M902 993h0M902 996h0M902 998h0M902 1000h0M902 1001h0M902 1003h0M902 1004h0M902 1005h0M902 1006h0M903 995h0M903 999h0M903 1000h0M903 1002h0M903 1004h0M906 995h0M906 998h0M906 1001h0M906 1002h0M906 1005h0M906 1006h0M907 983h0M907 984h0M907 988h0M907 990h0M907 992h0M907 993h0M907 998h0M907 999h0M907 1000h0M908 965h0M908 980h0M908 985h0M908 988h0M908 989h0M908 990h0M908 991h0M908 992h0M908 997h0M908 1002h0M909 976h0M909 977h0M909 985h0M909 989h0M909 990h0M909 993h0M909 998h0M909 1001h0M909 1003h0M909 1006h0M910 990h0M910 994h0M910 998h0M910 999h0M910 1005h0M911 989h0M911 990h0M911 995h0M911 999h0M911 1004h0M911 1006h0M912 967h0M912 972h0M912 981h0M912 987h0M912 991h0M912 994h0M912 996h0M912 998h0M912 1000h0M912 1001h0M912 1002h0M912 1005h0M913 969h0M913 992h0M913 994h0M913 997h0M913 1003h0M914 988h0M914 990h0M914 993h0M914 994h0M914 997h0M914 999h0M914 1004h0M914 1005h0M914 1006h0M915 976h0M915 989h0M915 993h0M915 997h0M915 1003h0M915 1006h0M916 990h0M916 993h0M916 995h0M916 996h0M916 998h0M916 999h0M917 994h0M917 997h0M917 998h0M917 1002h0M917 1006h0M918 988h0M918 994h0M918 995h0M918 998h0M918 1001h0M918 1002h0M919 964h0M919 978h0M919 984h0M919 989h0M919 991h0M919 994h0M919 1002h0M920 987h0M920 992h0M920 993h0M920 999h0M920 1000h0M920 1003h0M920 1004h0M920 1005h0M921 974h0M921 996h0M921 997h0M921 998h0M921 1003h0M922 1002h0M923 992h0M923 994h0M923 995h0M923 999h0M923 1001h0M923 1002h0M923 1005h0M924 981h0M924 986h0M924 995h0M924 996h0M924 1003h0M924 1005h0M925 988h0M925 993h0M925 997h0M925 999h0M925 1000h0M925 1002h0M925 1003h0M925 1004h0M925 1006h0M926 988h0M926 1002h0M926 1004h0M927 1005h0M927 1006h0M928 1005h0M929 997h0M931 1001h0" stroke="#4169E1" stroke-opacity="0.5" stroke-width="2.0" stroke-linecap="round" fill="none"/>
<path transform="scale(0.5)" d="M883 1003h0M885 1003h0M885 1006h0M887 1003h0M887 1005h0M888 1005h0M889 988h0M889 996h0M889 1001h0M889 1005h0M890 1003h0M891 1000h0M892 1000h0M892 1003h0M893 996h0M893 997h0M893 1001h0M894 995h0M894 1004h0M895 993h0M895 1000h0M895 1001h0M895 1004h0M896 1001h0M897 995h0M897 996h0M898 995h0M898 999h0M898 1003h0M899 996h0M899 999h0M899 1000h0M900 996h0M900 998h0M900 1004h0M901 988h0M901 1000h0M901 1004h0M903 998h0M903 1001h0M906 996h0M906 999h0M906 1000h0M906 1004h0M907 1001h0M907 1005h0M908 993h0M908 994h0M908 1001h0M908 1004h0M909 986h0M909 1002h0M909 1005h0M910 1001h0M910 1002h0M910 1003h0M911 992h0M911 994h0M911 996h0M911 997h0M911 998h0M911 1000h0M911 1003h0M912 999h0M912 1006h0M913 991h0M913 999h0M913 1005h0M914 991h0M914 1000h0M915 990h0M915 999h0M915 1002h0M915 1005h0M916 1006h0M917 991h0M917 996h0M917 999h0M917 1001h0M917 1004h0M917 1005h0M918 1000h0M918 1004h0M919 990h0M919 993h0M919 998h0M920 994h0M921 1000h0M921 1001h0M921 1005h0M923 990h0M924 1004h0M926 1003h0M927 999h0" stroke="#4169E1" stroke-opacity="0.75" stroke-width="2.0" stroke-linecap="round" fill="none"/>
<path transform="scale(0.5)" d="M895 1002h0M895 1005h0M896 1005h0M897 1003h0M897 1004h0M898 1000h0M898 1001h0M899 997h0M899 1005h0M900 1002h0M900 1005h0M901 999h0M903 1005h0M903 1006h0M907 991h0M907 1004h0M908 1000h0M908 1003h0M908 1005h0M909 996h0M909 1004h0M910 996h0M911 1002h0M912 1003h0M913 998h0M913 1002h0M914 987h0M914 998h0M914 1001h0M914 1003h0M915 1001h0M915 1004h0M916 1000h0M916 1002h0M916 1003h0M918 1005h0M919 1001h0M920 1001h0M922 1004h0M922 1006h0M923 1000h0M924 1001h0" stroke="#4169E1" stroke-opacity="1.0" stroke-width="2.0" stroke-linecap="round" fill="none"/>
<circle cx="429.4" cy="494.8" r="0.65" fill="#EE0000" fill-opacity="0.6"/>
<circle cx="487.4" cy="489.7" r="0.65" fill="#EE0000" fill-opacity="0.6"/>
<text transform="translate(429.4,497.7) scale(0.1)" font-size="26" text-anchor="middle" font-family='"Liberation Sans", sans-serif' fill="#333" textLength="110" lengthAdjust="spacingAndGlyphs">LJ5HDV</text>
<text transform="translate(487.2,492.2) scale(0.1)" font-size="26" text-anchor="middle" font-family='"Liberation Sans", sans-serif' fill="#333" textLength="50" lengthAdjust="spacingAndGlyphs">885</text>
<line x1="430.77" y1="428.6" x2="430.77" y2="518.7" stroke="#666" stroke-width="0.45" stroke-dasharray="1.1,1.1"/>
<line x1="473.83" y1="428.6" x2="473.83" y2="518.7" stroke="#666" stroke-width="0.45" stroke-dasharray="1.1,1.1"/>
<line x1="395.7" y1="503.01" x2="508.2" y2="503.01" stroke="#666" stroke-width="0.45" stroke-dasharray="1.1,1.1"/>
<path d="M395.7 428.6V518.7H508.2" stroke="#767676" stroke-width="0.95" fill="none"/>
<line x1="393.7" y1="514.2" x2="395.7" y2="514.2" stroke="#555" stroke-width="0.7"/>
<text x="392.7" y="517.26" font-size="9" text-anchor="end" font-family='"Liberation Serif", serif' fill="#222" >0</text>
<line x1="393.7" y1="492.7" x2="395.7" y2="492.7" stroke="#555" stroke-width="0.7"/>
<text x="392.7" y="495.76" font-size="9" text-anchor="end" font-family='"Liberation Serif", serif' fill="#222" >2.5</text>
<line x1="393.7" y1="471.2" x2="395.7" y2="471.2" stroke="#555" stroke-width="0.7"/>
<text x="392.7" y="474.26" font-size="9" text-anchor="end" font-family='"Liberation Serif", serif' fill="#222" >5</text>
<line x1="393.7" y1="449.7" x2="395.7" y2="449.7" stroke="#555" stroke-width="0.7"/>
<text x="392.7" y="452.76" font-size="9" text-anchor="end" font-family='"Liberation Serif", serif' fill="#222" >7.5</text>
<line x1="397.1" y1="518.7" x2="397.1" y2="520.7" stroke="#555" stroke-width="0.7"/>
<line x1="415.5" y1="518.7" x2="415.5" y2="520.7" stroke="#555" stroke-width="0.7"/>
<line x1="433.9" y1="518.7" x2="433.9" y2="520.7" stroke="#555" stroke-width="0.7"/>
<line x1="452.3" y1="518.7" x2="452.3" y2="520.7" stroke="#555" stroke-width="0.7"/>
<line x1="470.7" y1="518.7" x2="470.7" y2="520.7" stroke="#555" stroke-width="0.7"/>
<line x1="489.1" y1="518.7" x2="489.1" y2="520.7" stroke="#555" stroke-width="0.7"/>
<line x1="507.5" y1="518.7" x2="507.5" y2="520.7" stroke="#555" stroke-width="0.7"/>
<text x="413" y="528.9" font-size="9" text-anchor="middle" font-family='"Liberation Serif", serif' fill="#222" >-1</text>
<text x="452.3" y="528.9" font-size="9" text-anchor="middle" font-family='"Liberation Serif", serif' fill="#222" >0</text>
<text x="489.1" y="528.9" font-size="9" text-anchor="middle" font-family='"Liberation Serif", serif' fill="#222" >1</text>
<text x="451.5" y="540.5" font-size="9" text-anchor="middle" font-family='"Liberation Serif", serif' fill="#222" >Log2 fold change</text>
<text transform="translate(375.3,481) rotate(-90)" font-size="9.0" text-anchor="middle" font-family='"Liberation Serif", serif' fill="#222">-log10 adjusted P-value</text>
<circle cx="436.8" cy="415.8" r="1.0" fill="#4D4D4D"/>
<path d="M435.3 415.8h3" stroke="#4D4D4D" stroke-width="0.35"/>
<text transform="translate(439,416.95) scale(0.1)" font-size="32" font-family='"Liberation Sans", sans-serif' fill="#444" textLength="30" lengthAdjust="spacingAndGlyphs">NS</text>
<circle cx="444.8" cy="415.8" r="1.0" fill="#4169E1"/>
<path d="M443.3 415.8h3" stroke="#4169E1" stroke-width="0.35"/>
<text transform="translate(446.7,416.95) scale(0.1)" font-size="32" font-family='"Liberation Sans", sans-serif' fill="#444" textLength="19" lengthAdjust="spacingAndGlyphs">P</text>
<circle cx="451.1" cy="415.8" r="1.0" fill="#EE0000"/>
<path d="M449.6 415.8h3" stroke="#EE0000" stroke-width="0.35"/>
<text transform="translate(453.2,416.95) scale(0.1)" font-size="32" font-family='"Liberation Sans", sans-serif' fill="#444" textLength="159" lengthAdjust="spacingAndGlyphs">P &amp; Log2 FC</text>
<rect x="615.5" y="405.2" width="57.6" height="116" fill="#EBEBEB"/>
<line x1="624.76" y1="405.2" x2="624.76" y2="521.2" stroke="#F5F5F5" stroke-width="0.35"/>
<line x1="637.92" y1="405.2" x2="637.92" y2="521.2" stroke="#F5F5F5" stroke-width="0.35"/>
<line x1="651.08" y1="405.2" x2="651.08" y2="521.2" stroke="#F5F5F5" stroke-width="0.35"/>
<line x1="664.24" y1="405.2" x2="664.24" y2="521.2" stroke="#F5F5F5" stroke-width="0.35"/>
<line x1="618.18" y1="405.2" x2="618.18" y2="521.2" stroke="#FFF" stroke-width="0.7"/>
<line x1="631.34" y1="405.2" x2="631.34" y2="521.2" stroke="#FFF" stroke-width="0.7"/>
<line x1="644.5" y1="405.2" x2="644.5" y2="521.2" stroke="#FFF" stroke-width="0.7"/>
<line x1="657.66" y1="405.2" x2="657.66" y2="521.2" stroke="#FFF" stroke-width="0.7"/>
<line x1="670.82" y1="405.2" x2="670.82" y2="521.2" stroke="#FFF" stroke-width="0.7"/>
<line x1="615.5" y1="409.9" x2="673.1" y2="409.9" stroke="#FFF" stroke-width="0.7"/>
<line x1="615.5" y1="417.05" x2="673.1" y2="417.05" stroke="#FFF" stroke-width="0.7"/>
<line x1="615.5" y1="424.2" x2="673.1" y2="424.2" stroke="#FFF" stroke-width="0.7"/>
<line x1="615.5" y1="431.35" x2="673.1" y2="431.35" stroke="#FFF" stroke-width="0.7"/>
<line x1="615.5" y1="438.5" x2="673.1" y2="438.5" stroke="#FFF" stroke-width="0.7"/>
<line x1="615.5" y1="445.65" x2="673.1" y2="445.65" stroke="#FFF" stroke-width="0.7"/>
<line x1="615.5" y1="452.8" x2="673.1" y2="452.8" stroke="#FFF" stroke-width="0.7"/>
<line x1="615.5" y1="459.95" x2="673.1" y2="459.95" stroke="#FFF" stroke-width="0.7"/>
<line x1="615.5" y1="467.1" x2="673.1" y2="467.1" stroke="#FFF" stroke-width="0.7"/>
<line x1="615.5" y1="474.25" x2="673.1" y2="474.25" stroke="#FFF" stroke-width="0.7"/>
<line x1="615.5" y1="481.4" x2="673.1" y2="481.4" stroke="#FFF" stroke-width="0.7"/>
<line x1="615.5" y1="488.55" x2="673.1" y2="488.55" stroke="#FFF" stroke-width="0.7"/>
<line x1="615.5" y1="495.7" x2="673.1" y2="495.7" stroke="#FFF" stroke-width="0.7"/>
<line x1="615.5" y1="502.85" x2="673.1" y2="502.85" stroke="#FFF" stroke-width="0.7"/>
<line x1="615.5" y1="510" x2="673.1" y2="510" stroke="#FFF" stroke-width="0.7"/>
<line x1="615.5" y1="517.15" x2="673.1" y2="517.15" stroke="#FFF" stroke-width="0.7"/>
<rect x="644.5" y="406.68" width="13.2" height="6.44" fill="#00BFFF"/>
<rect x="644.5" y="413.83" width="11.5" height="6.44" fill="#00BFFF"/>
<rect x="644.5" y="420.98" width="10.6" height="6.44" fill="#00BFFF"/>
<rect x="644.5" y="428.13" width="10.1" height="6.44" fill="#00BFFF"/>
<rect x="644.5" y="435.28" width="10.1" height="6.44" fill="#00BFFF"/>
<rect x="644.5" y="442.43" width="10.1" height="6.44" fill="#00BFFF"/>
<rect x="634.3" y="449.58" width="10.2" height="6.44" fill="#00BFFF"/>
<rect x="633.9" y="456.73" width="10.6" height="6.44" fill="#00BFFF"/>
<rect x="633.5" y="463.88" width="11" height="6.44" fill="#00BFFF"/>
<rect x="633.5" y="471.03" width="11" height="6.44" fill="#00BFFF"/>
<rect x="633.5" y="478.18" width="11" height="6.44" fill="#00BFFF"/>
<rect x="633.2" y="485.33" width="11.3" height="6.44" fill="#00BFFF"/>
<rect x="632.1" y="492.48" width="12.4" height="6.44" fill="#00BFFF"/>
<rect x="631.2" y="499.63" width="13.3" height="6.44" fill="#00BFFF"/>
<rect x="629.4" y="506.78" width="15.1" height="6.44" fill="#00BFFF"/>
<rect x="629" y="513.93" width="15.5" height="6.44" fill="#00BFFF"/>
<polyline points="670.9,409.9 659.2,417.05 655.8,424.2 655.8,431.35 656.1,438.5 656.4,445.65 656.5,452.8 657.7,459.95 658.6,467.1 658.6,474.25 658.6,481.4 660.1,488.55 665,495.7 666.8,502.85 670.9,510 670.9,517.15" fill="none" stroke="#FF0000" stroke-width="0.75"/>
<circle cx="670.9" cy="409.9" r="1.15" fill="#FF0000"/>
<circle cx="659.2" cy="417.05" r="1.15" fill="#FF0000"/>
<circle cx="655.8" cy="424.2" r="1.15" fill="#FF0000"/>
<circle cx="655.8" cy="431.35" r="1.15" fill="#FF0000"/>
<circle cx="656.1" cy="438.5" r="1.15" fill="#FF0000"/>
<circle cx="656.4" cy="445.65" r="1.15" fill="#FF0000"/>
<circle cx="656.5" cy="452.8" r="1.15" fill="#FF0000"/>
<circle cx="657.7" cy="459.95" r="1.15" fill="#FF0000"/>
<circle cx="658.6" cy="467.1" r="1.15" fill="#FF0000"/>
<circle cx="658.6" cy="474.25" r="1.15" fill="#FF0000"/>
<circle cx="658.6" cy="481.4" r="1.15" fill="#FF0000"/>
<circle cx="660.1" cy="488.55" r="1.15" fill="#FF0000"/>
<circle cx="665" cy="495.7" r="1.15" fill="#FF0000"/>
<circle cx="666.8" cy="502.85" r="1.15" fill="#FF0000"/>
<circle cx="670.9" cy="510" r="1.15" fill="#FF0000"/>
<circle cx="670.9" cy="517.15" r="1.15" fill="#FF0000"/>
<text transform="translate(614.05,411.37) scale(0.1,0.12)" font-size="34" text-anchor="end" font-family='"Liberation Sans", sans-serif' fill="#4A4A4A" stroke="#4A4A4A" stroke-width="0">ESTROGEN_RESPONSE_EARLY</text>
<line x1="614.4" y1="409.9" x2="615.5" y2="409.9" stroke="#333" stroke-width="0.4"/>
<text transform="translate(614.05,418.52) scale(0.1,0.12)" font-size="34" text-anchor="end" font-family='"Liberation Sans", sans-serif' fill="#4A4A4A" stroke="#4A4A4A" stroke-width="0">ESTROGEN_RESPONSE_LATE</text>
<line x1="614.4" y1="417.05" x2="615.5" y2="417.05" stroke="#333" stroke-width="0.4"/>
<text transform="translate(614.05,425.67) scale(0.1,0.12)" font-size="34" text-anchor="end" font-family='"Liberation Sans", sans-serif' fill="#4A4A4A" stroke="#4A4A4A" stroke-width="0">OXIDATIVE_PHOSPHORYLATION</text>
<line x1="614.4" y1="424.2" x2="615.5" y2="424.2" stroke="#333" stroke-width="0.4"/>
<text transform="translate(614.05,432.82) scale(0.1,0.12)" font-size="34" text-anchor="end" font-family='"Liberation Sans", sans-serif' fill="#4A4A4A" stroke="#4A4A4A" stroke-width="0">ADIPOGENESIS</text>
<line x1="614.4" y1="431.35" x2="615.5" y2="431.35" stroke="#333" stroke-width="0.4"/>
<text transform="translate(614.05,439.97) scale(0.1,0.12)" font-size="34" text-anchor="end" font-family='"Liberation Sans", sans-serif' fill="#4A4A4A" stroke="#4A4A4A" stroke-width="0">BILE_ACID_METABOLISM</text>
<line x1="614.4" y1="438.5" x2="615.5" y2="438.5" stroke="#333" stroke-width="0.4"/>
<text transform="translate(614.05,447.12) scale(0.1,0.12)" font-size="34" text-anchor="end" font-family='"Liberation Sans", sans-serif' fill="#4A4A4A" stroke="#4A4A4A" stroke-width="0">FATTY_ACID_METABOLISM</text>
<line x1="614.4" y1="445.65" x2="615.5" y2="445.65" stroke="#333" stroke-width="0.4"/>
<text transform="translate(614.05,454.27) scale(0.1,0.12)" font-size="34" text-anchor="end" font-family='"Liberation Sans", sans-serif' fill="#4A4A4A" stroke="#4A4A4A" stroke-width="0">MYOGENESIS</text>
<line x1="614.4" y1="452.8" x2="615.5" y2="452.8" stroke="#333" stroke-width="0.4"/>
<text transform="translate(614.05,461.42) scale(0.1,0.12)" font-size="34" text-anchor="end" font-family='"Liberation Sans", sans-serif' fill="#4A4A4A" stroke="#4A4A4A" stroke-width="0">EPITHELIAL_MESENCHYMAL_TRANSITION</text>
<line x1="614.4" y1="459.95" x2="615.5" y2="459.95" stroke="#333" stroke-width="0.4"/>
<text transform="translate(614.05,468.57) scale(0.1,0.12)" font-size="34" text-anchor="end" font-family='"Liberation Sans", sans-serif' fill="#4A4A4A" stroke="#4A4A4A" stroke-width="0">IL6_JAK_STAT3_SIGNALING</text>
<line x1="614.4" y1="467.1" x2="615.5" y2="467.1" stroke="#333" stroke-width="0.4"/>
<text transform="translate(614.05,475.72) scale(0.1,0.12)" font-size="34" text-anchor="end" font-family='"Liberation Sans", sans-serif' fill="#4A4A4A" stroke="#4A4A4A" stroke-width="0">MTORC1_SIGNALING</text>
<line x1="614.4" y1="474.25" x2="615.5" y2="474.25" stroke="#333" stroke-width="0.4"/>
<text transform="translate(614.05,482.87) scale(0.1,0.12)" font-size="34" text-anchor="end" font-family='"Liberation Sans", sans-serif' fill="#4A4A4A" stroke="#4A4A4A" stroke-width="0">MYC_TARGETS_V2</text>
<line x1="614.4" y1="481.4" x2="615.5" y2="481.4" stroke="#333" stroke-width="0.4"/>
<text transform="translate(614.05,490.02) scale(0.1,0.12)" font-size="34" text-anchor="end" font-family='"Liberation Sans", sans-serif' fill="#4A4A4A" stroke="#4A4A4A" stroke-width="0">HYPOXIA</text>
<line x1="614.4" y1="488.55" x2="615.5" y2="488.55" stroke="#333" stroke-width="0.4"/>
<text transform="translate(614.05,497.17) scale(0.1,0.12)" font-size="34" text-anchor="end" font-family='"Liberation Sans", sans-serif' fill="#4A4A4A" stroke="#4A4A4A" stroke-width="0">INFLAMMATORY_RESPONSE</text>
<line x1="614.4" y1="495.7" x2="615.5" y2="495.7" stroke="#333" stroke-width="0.4"/>
<text transform="translate(614.05,504.32) scale(0.1,0.12)" font-size="34" text-anchor="end" font-family='"Liberation Sans", sans-serif' fill="#4A4A4A" stroke="#4A4A4A" stroke-width="0">TNFA_SIGNALING_VIA_NFKB</text>
<line x1="614.4" y1="502.85" x2="615.5" y2="502.85" stroke="#333" stroke-width="0.4"/>
<text transform="translate(614.05,511.47) scale(0.1,0.12)" font-size="34" text-anchor="end" font-family='"Liberation Sans", sans-serif' fill="#4A4A4A" stroke="#4A4A4A" stroke-width="0">INTERFERON_GAMMA_RESPONSE</text>
<line x1="614.4" y1="510" x2="615.5" y2="510" stroke="#333" stroke-width="0.4"/>
<text transform="translate(614.05,518.62) scale(0.1,0.12)" font-size="34" text-anchor="end" font-family='"Liberation Sans", sans-serif' fill="#4A4A4A" stroke="#4A4A4A" stroke-width="0">INTERFERON_ALPHA_RESPONSE</text>
<line x1="614.4" y1="517.15" x2="615.5" y2="517.15" stroke="#333" stroke-width="0.4"/>
<text x="617.38" y="402.8" font-size="7.3" text-anchor="middle" font-family='"Liberation Serif", serif' fill="#222" >-4</text>
<text x="617.38" y="529.9" font-size="7.3" text-anchor="middle" font-family='"Liberation Serif", serif' fill="#222" >-4</text>
<line x1="618.18" y1="403.9" x2="618.18" y2="405.2" stroke="#333" stroke-width="0.4"/>
<line x1="618.18" y1="521.2" x2="618.18" y2="522.5" stroke="#333" stroke-width="0.4"/>
<text x="630.54" y="402.8" font-size="7.3" text-anchor="middle" font-family='"Liberation Serif", serif' fill="#222" >-2</text>
<text x="630.54" y="529.9" font-size="7.3" text-anchor="middle" font-family='"Liberation Serif", serif' fill="#222" >-2</text>
<line x1="631.34" y1="403.9" x2="631.34" y2="405.2" stroke="#333" stroke-width="0.4"/>
<line x1="631.34" y1="521.2" x2="631.34" y2="522.5" stroke="#333" stroke-width="0.4"/>
<text x="644.5" y="402.8" font-size="7.3" text-anchor="middle" font-family='"Liberation Serif", serif' fill="#222" >0</text>
<text x="644.5" y="529.9" font-size="7.3" text-anchor="middle" font-family='"Liberation Serif", serif' fill="#222" >0</text>
<line x1="644.5" y1="403.9" x2="644.5" y2="405.2" stroke="#333" stroke-width="0.4"/>
<line x1="644.5" y1="521.2" x2="644.5" y2="522.5" stroke="#333" stroke-width="0.4"/>
<text x="657.66" y="402.8" font-size="7.3" text-anchor="middle" font-family='"Liberation Serif", serif' fill="#222" >2</text>
<text x="657.66" y="529.9" font-size="7.3" text-anchor="middle" font-family='"Liberation Serif", serif' fill="#222" >2</text>
<line x1="657.66" y1="403.9" x2="657.66" y2="405.2" stroke="#333" stroke-width="0.4"/>
<line x1="657.66" y1="521.2" x2="657.66" y2="522.5" stroke="#333" stroke-width="0.4"/>
<text x="670.82" y="402.8" font-size="7.3" text-anchor="middle" font-family='"Liberation Serif", serif' fill="#222" >4</text>
<text x="670.82" y="529.9" font-size="7.3" text-anchor="middle" font-family='"Liberation Serif", serif' fill="#222" >4</text>
<line x1="670.82" y1="403.9" x2="670.82" y2="405.2" stroke="#333" stroke-width="0.4"/>
<line x1="670.82" y1="521.2" x2="670.82" y2="522.5" stroke="#333" stroke-width="0.4"/>
<text x="643.6" y="393" font-size="7.5" text-anchor="middle" font-family='"Liberation Serif", serif' fill="#111" >NES</text>
<text x="644.2" y="541" font-size="7.6" text-anchor="middle" font-family='"Liberation Serif", serif' fill="#111" >-log10 FDR q-value</text>
<text x="39.8" y="10.3" font-size="10.6" text-anchor="start" font-family='"Liberation Serif", serif' fill="#111" >Surv</text>
<text x="125" y="10.3" font-size="10.6" text-anchor="start" font-family='"Liberation Serif", serif' fill="#111" >Rec</text>
<path d="M66.2 8H112.9M72.4 4.6L66.2 8L72.4 11.4M106.7 4.6L112.9 8L106.7 11.4" stroke="#222" stroke-width="0.9" fill="none"/>
<text x="238.4" y="9.6" font-size="10.5" text-anchor="start" font-family='"Liberation Serif", serif' fill="#111" >Surv</text>
<text x="315.1" y="9.6" font-size="10.5" text-anchor="start" font-family='"Liberation Serif", serif' fill="#111" >Rec</text>
<path d="M262.1 6.4H308.4M268.3 3L262.1 6.4L268.3 9.8M302.2 3L308.4 6.4L302.2 9.8" stroke="#222" stroke-width="0.9" fill="none"/>
<text x="400.6" y="9.2" font-size="10.2" text-anchor="start" font-family='"Liberation Serif", serif' fill="#111" >Surv</text>
<text x="486.2" y="9.2" font-size="10.2" text-anchor="start" font-family='"Liberation Serif", serif' fill="#111" >Rec</text>
<path d="M430.6 5.8H477.8M436.8 2.4L430.6 5.8L436.8 9.2M471.6 2.4L477.8 5.8L471.6 9.2" stroke="#222" stroke-width="0.9" fill="none"/>
<text x="591.6" y="9.2" font-size="10.2" text-anchor="start" font-family='"Liberation Serif", serif' fill="#111" >Surv</text>
<text x="668.7" y="9.2" font-size="10.2" text-anchor="start" font-family='"Liberation Serif", serif' fill="#111" >Rec</text>
<path d="M616.7 5.6H662.7M622.9 2.2L616.7 5.6L622.9 9M656.5 2.2L662.7 5.6L656.5 9" stroke="#222" stroke-width="0.9" fill="none"/>
</svg></body></html>
